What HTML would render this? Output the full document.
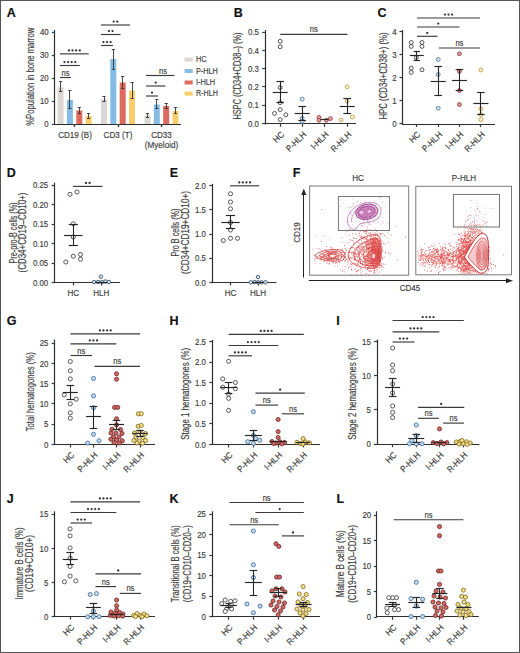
<!DOCTYPE html>
<html><head><meta charset="utf-8"><style>
html,body{margin:0;padding:0;background:#fff;}
body{width:520px;height:653px;overflow:hidden;position:relative;}
svg{position:absolute;left:0;top:0;font-family:"Liberation Sans", sans-serif;}
.frame{position:absolute;left:0;top:0;width:518px;height:651px;border:1px solid #555;}
</style></head><body>
<svg width="520" height="653" viewBox="0 0 520 653">
<rect x="0" y="0" width="520" height="653" fill="#fff"/>
<text x="6.8" y="17" font-size="12.5" text-anchor="start" font-weight="bold" fill="#111" stroke="#111" stroke-width="0.15">A</text>
<line x1="54.5" y1="30" x2="54.5" y2="124.6" stroke="#2e2e2e" stroke-width="1.2"/>
<line x1="51.9" y1="124.5" x2="54.9" y2="124.5" stroke="#3a3a3a" stroke-width="1.2"/>
<text x="48.7" y="127.2" font-size="9" text-anchor="end" font-weight="normal" fill="#3a3a3a" stroke="#3a3a3a" stroke-width="0.15" textLength="4.35" lengthAdjust="spacingAndGlyphs">0</text>
<line x1="51.9" y1="101.5" x2="54.9" y2="101.5" stroke="#3a3a3a" stroke-width="1.2"/>
<text x="48.7" y="104.2" font-size="9" text-anchor="end" font-weight="normal" fill="#3a3a3a" stroke="#3a3a3a" stroke-width="0.15" textLength="8.71" lengthAdjust="spacingAndGlyphs">10</text>
<line x1="51.9" y1="78.5" x2="54.9" y2="78.5" stroke="#3a3a3a" stroke-width="1.2"/>
<text x="48.7" y="81.2" font-size="9" text-anchor="end" font-weight="normal" fill="#3a3a3a" stroke="#3a3a3a" stroke-width="0.15" textLength="8.71" lengthAdjust="spacingAndGlyphs">20</text>
<line x1="51.9" y1="55.5" x2="54.9" y2="55.5" stroke="#3a3a3a" stroke-width="1.2"/>
<text x="48.7" y="58.2" font-size="9" text-anchor="end" font-weight="normal" fill="#3a3a3a" stroke="#3a3a3a" stroke-width="0.15" textLength="8.71" lengthAdjust="spacingAndGlyphs">30</text>
<line x1="51.9" y1="32.5" x2="54.9" y2="32.5" stroke="#3a3a3a" stroke-width="1.2"/>
<text x="48.7" y="35.2" font-size="9" text-anchor="end" font-weight="normal" fill="#3a3a3a" stroke="#3a3a3a" stroke-width="0.15" textLength="8.71" lengthAdjust="spacingAndGlyphs">40</text>
<line x1="54.3" y1="124.5" x2="181" y2="124.5" stroke="#2e2e2e" stroke-width="1.2"/>
<line x1="74.5" y1="124" x2="74.5" y2="127" stroke="#3a3a3a" stroke-width="1.2"/>
<line x1="118.5" y1="124" x2="118.5" y2="127" stroke="#3a3a3a" stroke-width="1.2"/>
<line x1="161.5" y1="124" x2="161.5" y2="127" stroke="#3a3a3a" stroke-width="1.2"/>
<text x="33.8" y="76.8" font-size="10.3" text-anchor="middle" font-weight="normal" fill="#3a3a3a" stroke="#3a3a3a" stroke-width="0.15" transform="rotate(-90 33.8 76.8)" textLength="98" lengthAdjust="spacingAndGlyphs">%Population in bone marrow</text>
<rect x="57.6" y="87.5" width="6" height="36.5" fill="#dcd7d6" stroke="none" stroke-width="1"/>
<line x1="60.5" y1="81.3" x2="60.5" y2="91.3" stroke="#333" stroke-width="0.9"/>
<line x1="59" y1="81.5" x2="62.2" y2="81.5" stroke="#333" stroke-width="0.9"/>
<line x1="59" y1="91.5" x2="62.2" y2="91.5" stroke="#333" stroke-width="0.9"/>
<rect x="66.9" y="100" width="6" height="24" fill="#85bce6" stroke="none" stroke-width="1"/>
<line x1="69.5" y1="90" x2="69.5" y2="108.7" stroke="#333" stroke-width="0.9"/>
<line x1="68.3" y1="90.5" x2="71.5" y2="90.5" stroke="#333" stroke-width="0.9"/>
<line x1="68.3" y1="108.5" x2="71.5" y2="108.5" stroke="#333" stroke-width="0.9"/>
<rect x="76.3" y="110.5" width="6" height="13.5" fill="#dc6a5e" stroke="none" stroke-width="1"/>
<line x1="79.5" y1="107.5" x2="79.5" y2="113.7" stroke="#333" stroke-width="0.9"/>
<line x1="77.7" y1="107.5" x2="80.9" y2="107.5" stroke="#333" stroke-width="0.9"/>
<line x1="77.7" y1="113.5" x2="80.9" y2="113.5" stroke="#333" stroke-width="0.9"/>
<rect x="85.6" y="116" width="6" height="8" fill="#f8cd6c" stroke="none" stroke-width="1"/>
<line x1="88.5" y1="113.7" x2="88.5" y2="118" stroke="#333" stroke-width="0.9"/>
<line x1="87" y1="113.5" x2="90.2" y2="113.5" stroke="#333" stroke-width="0.9"/>
<line x1="87" y1="118.5" x2="90.2" y2="118.5" stroke="#333" stroke-width="0.9"/>
<rect x="101" y="99" width="6" height="25" fill="#dcd7d6" stroke="none" stroke-width="1"/>
<line x1="104.5" y1="96" x2="104.5" y2="101" stroke="#333" stroke-width="0.9"/>
<line x1="102.4" y1="96.5" x2="105.6" y2="96.5" stroke="#333" stroke-width="0.9"/>
<line x1="102.4" y1="101.5" x2="105.6" y2="101.5" stroke="#333" stroke-width="0.9"/>
<rect x="110.3" y="59" width="6" height="65" fill="#85bce6" stroke="none" stroke-width="1"/>
<line x1="113.5" y1="49" x2="113.5" y2="69" stroke="#333" stroke-width="0.9"/>
<line x1="111.7" y1="49.5" x2="114.9" y2="49.5" stroke="#333" stroke-width="0.9"/>
<line x1="111.7" y1="69.5" x2="114.9" y2="69.5" stroke="#333" stroke-width="0.9"/>
<rect x="119.7" y="82.5" width="6" height="41.5" fill="#dc6a5e" stroke="none" stroke-width="1"/>
<line x1="122.5" y1="76" x2="122.5" y2="88" stroke="#333" stroke-width="0.9"/>
<line x1="121.1" y1="76.5" x2="124.3" y2="76.5" stroke="#333" stroke-width="0.9"/>
<line x1="121.1" y1="88.5" x2="124.3" y2="88.5" stroke="#333" stroke-width="0.9"/>
<rect x="129" y="90.5" width="6" height="33.5" fill="#f8cd6c" stroke="none" stroke-width="1"/>
<line x1="132.5" y1="82" x2="132.5" y2="98" stroke="#333" stroke-width="0.9"/>
<line x1="130.4" y1="82.5" x2="133.6" y2="82.5" stroke="#333" stroke-width="0.9"/>
<line x1="130.4" y1="98.5" x2="133.6" y2="98.5" stroke="#333" stroke-width="0.9"/>
<rect x="144.5" y="115.5" width="6" height="8.5" fill="#dcd7d6" stroke="none" stroke-width="1"/>
<line x1="147.5" y1="113" x2="147.5" y2="117" stroke="#333" stroke-width="0.9"/>
<line x1="145.9" y1="113.5" x2="149.1" y2="113.5" stroke="#333" stroke-width="0.9"/>
<line x1="145.9" y1="117.5" x2="149.1" y2="117.5" stroke="#333" stroke-width="0.9"/>
<rect x="153.8" y="104.5" width="6" height="19.5" fill="#85bce6" stroke="none" stroke-width="1"/>
<line x1="156.5" y1="99.5" x2="156.5" y2="108" stroke="#333" stroke-width="0.9"/>
<line x1="155.2" y1="99.5" x2="158.4" y2="99.5" stroke="#333" stroke-width="0.9"/>
<line x1="155.2" y1="108.5" x2="158.4" y2="108.5" stroke="#333" stroke-width="0.9"/>
<rect x="163.2" y="106" width="6" height="18" fill="#dc6a5e" stroke="none" stroke-width="1"/>
<line x1="166.5" y1="103.3" x2="166.5" y2="108.7" stroke="#333" stroke-width="0.9"/>
<line x1="164.6" y1="103.5" x2="167.8" y2="103.5" stroke="#333" stroke-width="0.9"/>
<line x1="164.6" y1="108.5" x2="167.8" y2="108.5" stroke="#333" stroke-width="0.9"/>
<rect x="172.5" y="111" width="6" height="13" fill="#f8cd6c" stroke="none" stroke-width="1"/>
<line x1="175.5" y1="107.5" x2="175.5" y2="113.7" stroke="#333" stroke-width="0.9"/>
<line x1="173.9" y1="107.5" x2="177.1" y2="107.5" stroke="#333" stroke-width="0.9"/>
<line x1="173.9" y1="113.5" x2="177.1" y2="113.5" stroke="#333" stroke-width="0.9"/>
<line x1="54.3" y1="124.5" x2="181" y2="124.5" stroke="#2e2e2e" stroke-width="1.2"/>
<line x1="74.5" y1="124" x2="74.5" y2="127" stroke="#3a3a3a" stroke-width="1.2"/>
<line x1="118.5" y1="124" x2="118.5" y2="127" stroke="#3a3a3a" stroke-width="1.2"/>
<line x1="161.5" y1="124" x2="161.5" y2="127" stroke="#3a3a3a" stroke-width="1.2"/>
<text x="75" y="137.5" font-size="8.8" text-anchor="middle" font-weight="normal" fill="#3a3a3a" stroke="#3a3a3a" stroke-width="0.15" textLength="33.74" lengthAdjust="spacingAndGlyphs">CD19 (B)</text>
<text x="118" y="137.5" font-size="8.8" text-anchor="middle" font-weight="normal" fill="#3a3a3a" stroke="#3a3a3a" stroke-width="0.15" textLength="28.78" lengthAdjust="spacingAndGlyphs">CD3 (T)</text>
<text x="161.5" y="137.5" font-size="8.8" text-anchor="middle" font-weight="normal" fill="#3a3a3a" stroke="#3a3a3a" stroke-width="0.15" textLength="20.7" lengthAdjust="spacingAndGlyphs">CD33</text>
<text x="161.5" y="147.5" font-size="8.8" text-anchor="middle" font-weight="normal" fill="#3a3a3a" stroke="#3a3a3a" stroke-width="0.15" textLength="33.29" lengthAdjust="spacingAndGlyphs">(Myeloid)</text>
<line x1="60" y1="77.5" x2="71" y2="77.5" stroke="#3a3a3a" stroke-width="1.15"/>
<text x="65.5" y="75.5" font-size="8.2" text-anchor="middle" font-weight="normal" fill="#3a3a3a" stroke="#3a3a3a" stroke-width="0.15" textLength="7.97" lengthAdjust="spacingAndGlyphs">ns</text>
<line x1="60" y1="65.5" x2="79.8" y2="65.5" stroke="#3a3a3a" stroke-width="1.15"/>
<circle cx="64.5" cy="62.1" r="1.15" fill="#333"/>
<circle cx="68.1" cy="62.1" r="1.15" fill="#333"/>
<circle cx="71.7" cy="62.1" r="1.15" fill="#333"/>
<circle cx="75.3" cy="62.1" r="1.15" fill="#333"/>
<line x1="60" y1="53.85" x2="88.7" y2="53.85" stroke="#3a3a3a" stroke-width="1.15"/>
<circle cx="68.95" cy="50.45" r="1.15" fill="#333"/>
<circle cx="72.55" cy="50.45" r="1.15" fill="#333"/>
<circle cx="76.15" cy="50.45" r="1.15" fill="#333"/>
<circle cx="79.75" cy="50.45" r="1.15" fill="#333"/>
<line x1="101" y1="45.5" x2="113" y2="45.5" stroke="#3a3a3a" stroke-width="1.15"/>
<circle cx="103.4" cy="42.1" r="1.15" fill="#333"/>
<circle cx="107" cy="42.1" r="1.15" fill="#333"/>
<circle cx="110.6" cy="42.1" r="1.15" fill="#333"/>
<line x1="101" y1="34.5" x2="120.5" y2="34.5" stroke="#3a3a3a" stroke-width="1.15"/>
<circle cx="108.95" cy="31.1" r="1.15" fill="#333"/>
<circle cx="112.55" cy="31.1" r="1.15" fill="#333"/>
<line x1="101" y1="25" x2="130" y2="25" stroke="#3a3a3a" stroke-width="1.15"/>
<circle cx="113.7" cy="21.6" r="1.15" fill="#333"/>
<circle cx="117.3" cy="21.6" r="1.15" fill="#333"/>
<line x1="146" y1="96" x2="158" y2="96" stroke="#3a3a3a" stroke-width="1.15"/>
<circle cx="152" cy="92.6" r="1.15" fill="#333"/>
<line x1="146" y1="86" x2="165.5" y2="86" stroke="#3a3a3a" stroke-width="1.15"/>
<circle cx="155.75" cy="82.6" r="1.15" fill="#333"/>
<line x1="146" y1="75.5" x2="174.5" y2="75.5" stroke="#3a3a3a" stroke-width="1.15"/>
<text x="163.05" y="73.5" font-size="8.2" text-anchor="middle" font-weight="normal" fill="#3a3a3a" stroke="#3a3a3a" stroke-width="0.15" textLength="7.97" lengthAdjust="spacingAndGlyphs">ns</text>
<rect x="184.6" y="57.6" width="8.1" height="4" fill="#dcd7d6" stroke="none" stroke-width="1"/>
<text x="195.9" y="62.4" font-size="8.8" text-anchor="start" font-weight="normal" fill="#3a3a3a" stroke="#3a3a3a" stroke-width="0.15" textLength="10.5" lengthAdjust="spacingAndGlyphs">HC</text>
<rect x="184.6" y="69" width="8.1" height="4" fill="#85bce6" stroke="none" stroke-width="1"/>
<text x="195.9" y="73.8" font-size="8.8" text-anchor="start" font-weight="normal" fill="#3a3a3a" stroke="#3a3a3a" stroke-width="0.15" textLength="22" lengthAdjust="spacingAndGlyphs">P-HLH</text>
<rect x="184.6" y="80.5" width="8.1" height="4" fill="#dc6a5e" stroke="none" stroke-width="1"/>
<text x="195.9" y="85.3" font-size="8.8" text-anchor="start" font-weight="normal" fill="#3a3a3a" stroke="#3a3a3a" stroke-width="0.15" textLength="19.2" lengthAdjust="spacingAndGlyphs">I-HLH</text>
<rect x="184.6" y="91.6" width="8.1" height="4" fill="#f8cd6c" stroke="none" stroke-width="1"/>
<text x="195.9" y="96.4" font-size="8.8" text-anchor="start" font-weight="normal" fill="#3a3a3a" stroke="#3a3a3a" stroke-width="0.15" textLength="22" lengthAdjust="spacingAndGlyphs">R-HLH</text>
<text x="233.8" y="17" font-size="12.5" text-anchor="start" font-weight="bold" fill="#111" stroke="#111" stroke-width="0.15">B</text>
<line x1="265.5" y1="30" x2="265.5" y2="124.4" stroke="#2e2e2e" stroke-width="1.2"/>
<line x1="262.2" y1="123.5" x2="265.2" y2="123.5" stroke="#3a3a3a" stroke-width="1.2"/>
<text x="258.8" y="126.8" font-size="9" text-anchor="end" font-weight="normal" fill="#3a3a3a" stroke="#3a3a3a" stroke-width="0.15" textLength="10.88" lengthAdjust="spacingAndGlyphs">0.0</text>
<line x1="262.2" y1="105.5" x2="265.2" y2="105.5" stroke="#3a3a3a" stroke-width="1.2"/>
<text x="258.8" y="108.48" font-size="9" text-anchor="end" font-weight="normal" fill="#3a3a3a" stroke="#3a3a3a" stroke-width="0.15" textLength="10.88" lengthAdjust="spacingAndGlyphs">0.1</text>
<line x1="262.2" y1="86.5" x2="265.2" y2="86.5" stroke="#3a3a3a" stroke-width="1.2"/>
<text x="258.8" y="90.16" font-size="9" text-anchor="end" font-weight="normal" fill="#3a3a3a" stroke="#3a3a3a" stroke-width="0.15" textLength="10.88" lengthAdjust="spacingAndGlyphs">0.2</text>
<line x1="262.2" y1="68.5" x2="265.2" y2="68.5" stroke="#3a3a3a" stroke-width="1.2"/>
<text x="258.8" y="71.84" font-size="9" text-anchor="end" font-weight="normal" fill="#3a3a3a" stroke="#3a3a3a" stroke-width="0.15" textLength="10.88" lengthAdjust="spacingAndGlyphs">0.3</text>
<line x1="262.2" y1="50.5" x2="265.2" y2="50.5" stroke="#3a3a3a" stroke-width="1.2"/>
<text x="258.8" y="53.52" font-size="9" text-anchor="end" font-weight="normal" fill="#3a3a3a" stroke="#3a3a3a" stroke-width="0.15" textLength="10.88" lengthAdjust="spacingAndGlyphs">0.4</text>
<line x1="262.2" y1="32.5" x2="265.2" y2="32.5" stroke="#3a3a3a" stroke-width="1.2"/>
<text x="258.8" y="35.2" font-size="9" text-anchor="end" font-weight="normal" fill="#3a3a3a" stroke="#3a3a3a" stroke-width="0.15" textLength="10.88" lengthAdjust="spacingAndGlyphs">0.5</text>
<line x1="264.6" y1="123.5" x2="356" y2="123.5" stroke="#2e2e2e" stroke-width="1.2"/>
<line x1="280.5" y1="123.8" x2="280.5" y2="126.8" stroke="#3a3a3a" stroke-width="1.2"/>
<line x1="302.5" y1="123.8" x2="302.5" y2="126.8" stroke="#3a3a3a" stroke-width="1.2"/>
<line x1="324.5" y1="123.8" x2="324.5" y2="126.8" stroke="#3a3a3a" stroke-width="1.2"/>
<line x1="347.5" y1="123.8" x2="347.5" y2="126.8" stroke="#3a3a3a" stroke-width="1.2"/>
<text x="241" y="76" font-size="10.3" text-anchor="middle" font-weight="normal" fill="#3a3a3a" stroke="#3a3a3a" stroke-width="0.15" transform="rotate(-90 241 76)" textLength="87" lengthAdjust="spacingAndGlyphs">HSPC (CD34+CD38–) (%)</text>
<text x="284.8" y="135.1" font-size="8.8" text-anchor="end" font-weight="normal" fill="#3a3a3a" stroke="#3a3a3a" stroke-width="0.15" transform="rotate(-45 284.8 135.1)" textLength="11.69" lengthAdjust="spacingAndGlyphs">HC</text>
<text x="306.8" y="135.1" font-size="8.8" text-anchor="end" font-weight="normal" fill="#3a3a3a" stroke="#3a3a3a" stroke-width="0.15" transform="rotate(-45 306.8 135.1)" textLength="24.29" lengthAdjust="spacingAndGlyphs">P-HLH</text>
<text x="329.2" y="135.1" font-size="8.8" text-anchor="end" font-weight="normal" fill="#3a3a3a" stroke="#3a3a3a" stroke-width="0.15" transform="rotate(-45 329.2 135.1)" textLength="21.14" lengthAdjust="spacingAndGlyphs">I-HLH</text>
<text x="351.8" y="135.1" font-size="8.8" text-anchor="end" font-weight="normal" fill="#3a3a3a" stroke="#3a3a3a" stroke-width="0.15" transform="rotate(-45 351.8 135.1)" textLength="24.74" lengthAdjust="spacingAndGlyphs">R-HLH</text>
<line x1="280.2" y1="34.3" x2="347.5" y2="34.3" stroke="#3a3a3a" stroke-width="1.15"/>
<text x="313.85" y="32.3" font-size="8.2" text-anchor="middle" font-weight="normal" fill="#3a3a3a" stroke="#3a3a3a" stroke-width="0.15" textLength="7.97" lengthAdjust="spacingAndGlyphs">ns</text>
<circle cx="280.2" cy="41.3" r="1.95" fill="#ffffff" stroke="#3e3e3e" stroke-width="0.9"/>
<circle cx="280.2" cy="46.8" r="1.95" fill="#ffffff" stroke="#3e3e3e" stroke-width="0.9"/>
<circle cx="280.2" cy="87.5" r="1.95" fill="#ffffff" stroke="#3e3e3e" stroke-width="0.9"/>
<circle cx="280.2" cy="102.7" r="1.95" fill="#ffffff" stroke="#3e3e3e" stroke-width="0.9"/>
<circle cx="280.2" cy="109.6" r="1.95" fill="#ffffff" stroke="#3e3e3e" stroke-width="0.9"/>
<circle cx="274.5" cy="113.4" r="1.95" fill="#ffffff" stroke="#3e3e3e" stroke-width="0.9"/>
<circle cx="285.8" cy="114.8" r="1.95" fill="#ffffff" stroke="#3e3e3e" stroke-width="0.9"/>
<circle cx="280.2" cy="119.6" r="1.95" fill="#ffffff" stroke="#3e3e3e" stroke-width="0.9"/>
<line x1="272.7" y1="92.5" x2="287.7" y2="92.5" stroke="#262626" stroke-width="1.15"/>
<line x1="280.5" y1="81.6" x2="280.5" y2="102.7" stroke="#262626" stroke-width="1.09"/>
<line x1="276.4" y1="81.5" x2="284" y2="81.5" stroke="#262626" stroke-width="1.15"/>
<line x1="276.4" y1="102.5" x2="284" y2="102.5" stroke="#262626" stroke-width="1.15"/>
<circle cx="302.2" cy="99.2" r="1.95" fill="#dde9f4" stroke="#5a7fa0" stroke-width="0.9"/>
<circle cx="302.2" cy="118.3" r="1.95" fill="#dde9f4" stroke="#5a7fa0" stroke-width="0.9"/>
<circle cx="302.2" cy="121.4" r="1.95" fill="#dde9f4" stroke="#5a7fa0" stroke-width="0.9"/>
<line x1="294.7" y1="113.5" x2="309.7" y2="113.5" stroke="#262626" stroke-width="1.15"/>
<line x1="302.5" y1="106.5" x2="302.5" y2="120.5" stroke="#262626" stroke-width="1.09"/>
<line x1="298.4" y1="106.5" x2="306" y2="106.5" stroke="#262626" stroke-width="1.15"/>
<line x1="298.4" y1="120.5" x2="306" y2="120.5" stroke="#262626" stroke-width="1.15"/>
<circle cx="319" cy="117.4" r="1.95" fill="#e09c9a" stroke="#9a4646" stroke-width="0.9"/>
<circle cx="319" cy="120.3" r="1.95" fill="#e09c9a" stroke="#9a4646" stroke-width="0.9"/>
<circle cx="326.4" cy="120.3" r="1.95" fill="#e09c9a" stroke="#9a4646" stroke-width="0.9"/>
<circle cx="330.4" cy="118.6" r="1.95" fill="#e09c9a" stroke="#9a4646" stroke-width="0.9"/>
<line x1="320.6" y1="119.5" x2="328.6" y2="119.5" stroke="#262626" stroke-width="1.15"/>
<circle cx="347.2" cy="86.8" r="1.95" fill="#fbf0c8" stroke="#c2a44e" stroke-width="0.9"/>
<circle cx="347.2" cy="101" r="1.95" fill="#fbf0c8" stroke="#c2a44e" stroke-width="0.9"/>
<circle cx="341.1" cy="120" r="1.95" fill="#fbf0c8" stroke="#c2a44e" stroke-width="0.9"/>
<circle cx="352.4" cy="116.9" r="1.95" fill="#fbf0c8" stroke="#c2a44e" stroke-width="0.9"/>
<line x1="339.7" y1="106.5" x2="354.7" y2="106.5" stroke="#262626" stroke-width="1.15"/>
<line x1="347.5" y1="98.4" x2="347.5" y2="113.4" stroke="#262626" stroke-width="1.09"/>
<line x1="343.4" y1="98.5" x2="351" y2="98.5" stroke="#262626" stroke-width="1.15"/>
<line x1="343.4" y1="113.5" x2="351" y2="113.5" stroke="#262626" stroke-width="1.15"/>
<text x="377.5" y="17" font-size="12.5" text-anchor="start" font-weight="bold" fill="#111" stroke="#111" stroke-width="0.15">C</text>
<line x1="402.5" y1="30" x2="402.5" y2="124.6" stroke="#2e2e2e" stroke-width="1.2"/>
<line x1="399.5" y1="123.5" x2="402.5" y2="123.5" stroke="#3a3a3a" stroke-width="1.2"/>
<text x="396.5" y="126.95" font-size="9" text-anchor="end" font-weight="normal" fill="#3a3a3a" stroke="#3a3a3a" stroke-width="0.15" textLength="4.35" lengthAdjust="spacingAndGlyphs">0</text>
<line x1="399.5" y1="100.5" x2="402.5" y2="100.5" stroke="#3a3a3a" stroke-width="1.2"/>
<text x="396.5" y="103.85" font-size="9" text-anchor="end" font-weight="normal" fill="#3a3a3a" stroke="#3a3a3a" stroke-width="0.15" textLength="4.35" lengthAdjust="spacingAndGlyphs">1</text>
<line x1="399.5" y1="77.5" x2="402.5" y2="77.5" stroke="#3a3a3a" stroke-width="1.2"/>
<text x="396.5" y="80.75" font-size="9" text-anchor="end" font-weight="normal" fill="#3a3a3a" stroke="#3a3a3a" stroke-width="0.15" textLength="4.35" lengthAdjust="spacingAndGlyphs">2</text>
<line x1="399.5" y1="54.5" x2="402.5" y2="54.5" stroke="#3a3a3a" stroke-width="1.2"/>
<text x="396.5" y="57.65" font-size="9" text-anchor="end" font-weight="normal" fill="#3a3a3a" stroke="#3a3a3a" stroke-width="0.15" textLength="4.35" lengthAdjust="spacingAndGlyphs">3</text>
<line x1="399.5" y1="31.5" x2="402.5" y2="31.5" stroke="#3a3a3a" stroke-width="1.2"/>
<text x="396.5" y="34.55" font-size="9" text-anchor="end" font-weight="normal" fill="#3a3a3a" stroke="#3a3a3a" stroke-width="0.15" textLength="4.35" lengthAdjust="spacingAndGlyphs">4</text>
<line x1="401.9" y1="124.5" x2="495" y2="124.5" stroke="#2e2e2e" stroke-width="1.2"/>
<line x1="416.5" y1="124" x2="416.5" y2="127" stroke="#3a3a3a" stroke-width="1.2"/>
<line x1="438.5" y1="124" x2="438.5" y2="127" stroke="#3a3a3a" stroke-width="1.2"/>
<line x1="459.5" y1="124" x2="459.5" y2="127" stroke="#3a3a3a" stroke-width="1.2"/>
<line x1="480.5" y1="124" x2="480.5" y2="127" stroke="#3a3a3a" stroke-width="1.2"/>
<text x="386.5" y="76" font-size="10.3" text-anchor="middle" font-weight="normal" fill="#3a3a3a" stroke="#3a3a3a" stroke-width="0.15" transform="rotate(-90 386.5 76)" textLength="87" lengthAdjust="spacingAndGlyphs">HPC (CD34+CD38+) (%)</text>
<text x="420.9" y="135.1" font-size="8.8" text-anchor="end" font-weight="normal" fill="#3a3a3a" stroke="#3a3a3a" stroke-width="0.15" transform="rotate(-45 420.9 135.1)" textLength="11.69" lengthAdjust="spacingAndGlyphs">HC</text>
<text x="442.8" y="135.1" font-size="8.8" text-anchor="end" font-weight="normal" fill="#3a3a3a" stroke="#3a3a3a" stroke-width="0.15" transform="rotate(-45 442.8 135.1)" textLength="24.29" lengthAdjust="spacingAndGlyphs">P-HLH</text>
<text x="464" y="135.1" font-size="8.8" text-anchor="end" font-weight="normal" fill="#3a3a3a" stroke="#3a3a3a" stroke-width="0.15" transform="rotate(-45 464 135.1)" textLength="21.14" lengthAdjust="spacingAndGlyphs">I-HLH</text>
<text x="485.5" y="135.1" font-size="8.8" text-anchor="end" font-weight="normal" fill="#3a3a3a" stroke="#3a3a3a" stroke-width="0.15" transform="rotate(-45 485.5 135.1)" textLength="24.74" lengthAdjust="spacingAndGlyphs">R-HLH</text>
<line x1="417" y1="36.3" x2="437.5" y2="36.3" stroke="#3a3a3a" stroke-width="1.15"/>
<circle cx="427.25" cy="32.9" r="1.15" fill="#333"/>
<line x1="417" y1="27" x2="459.5" y2="27" stroke="#3a3a3a" stroke-width="1.15"/>
<circle cx="438.25" cy="23.6" r="1.15" fill="#333"/>
<line x1="417" y1="18" x2="480" y2="18" stroke="#3a3a3a" stroke-width="1.15"/>
<circle cx="444.9" cy="14.6" r="1.15" fill="#333"/>
<circle cx="448.5" cy="14.6" r="1.15" fill="#333"/>
<circle cx="452.1" cy="14.6" r="1.15" fill="#333"/>
<line x1="438.8" y1="48" x2="480" y2="48" stroke="#3a3a3a" stroke-width="1.15"/>
<text x="459.4" y="46" font-size="8.2" text-anchor="middle" font-weight="normal" fill="#3a3a3a" stroke="#3a3a3a" stroke-width="0.15" textLength="7.97" lengthAdjust="spacingAndGlyphs">ns</text>
<circle cx="411.2" cy="42.5" r="1.95" fill="#ffffff" stroke="#3e3e3e" stroke-width="0.9"/>
<circle cx="411.2" cy="46.4" r="1.95" fill="#ffffff" stroke="#3e3e3e" stroke-width="0.9"/>
<circle cx="422" cy="42.5" r="1.95" fill="#ffffff" stroke="#3e3e3e" stroke-width="0.9"/>
<circle cx="422" cy="46.4" r="1.95" fill="#ffffff" stroke="#3e3e3e" stroke-width="0.9"/>
<circle cx="411.2" cy="68.1" r="1.95" fill="#ffffff" stroke="#3e3e3e" stroke-width="0.9"/>
<circle cx="411.2" cy="72.4" r="1.95" fill="#ffffff" stroke="#3e3e3e" stroke-width="0.9"/>
<circle cx="422" cy="69.8" r="1.95" fill="#ffffff" stroke="#3e3e3e" stroke-width="0.9"/>
<circle cx="416.3" cy="57.5" r="1.95" fill="#ffffff" stroke="#3e3e3e" stroke-width="0.9"/>
<line x1="409.8" y1="55.5" x2="423.8" y2="55.5" stroke="#262626" stroke-width="1.15"/>
<line x1="416.5" y1="51.5" x2="416.5" y2="60.3" stroke="#262626" stroke-width="1.09"/>
<line x1="413.6" y1="51.5" x2="420" y2="51.5" stroke="#262626" stroke-width="1.15"/>
<line x1="413.6" y1="60.5" x2="420" y2="60.5" stroke="#262626" stroke-width="1.15"/>
<circle cx="438.2" cy="59.5" r="1.95" fill="#dde9f4" stroke="#5a7fa0" stroke-width="0.9"/>
<circle cx="438.2" cy="74.5" r="1.95" fill="#dde9f4" stroke="#5a7fa0" stroke-width="0.9"/>
<circle cx="438.2" cy="108.3" r="1.95" fill="#dde9f4" stroke="#5a7fa0" stroke-width="0.9"/>
<line x1="430.7" y1="81.5" x2="445.7" y2="81.5" stroke="#262626" stroke-width="1.15"/>
<line x1="438.5" y1="66.3" x2="438.5" y2="95" stroke="#262626" stroke-width="1.09"/>
<line x1="434.4" y1="66.5" x2="442" y2="66.5" stroke="#262626" stroke-width="1.15"/>
<line x1="434.4" y1="95.5" x2="442" y2="95.5" stroke="#262626" stroke-width="1.15"/>
<circle cx="459.4" cy="53.8" r="1.95" fill="#e09c9a" stroke="#9a4646" stroke-width="0.9"/>
<circle cx="459.4" cy="71.3" r="1.95" fill="#e09c9a" stroke="#9a4646" stroke-width="0.9"/>
<circle cx="459.4" cy="90.5" r="1.95" fill="#e09c9a" stroke="#9a4646" stroke-width="0.9"/>
<circle cx="459.4" cy="104.5" r="1.95" fill="#e09c9a" stroke="#9a4646" stroke-width="0.9"/>
<line x1="451.9" y1="80.5" x2="466.9" y2="80.5" stroke="#262626" stroke-width="1.15"/>
<line x1="459.5" y1="69.3" x2="459.5" y2="90.5" stroke="#262626" stroke-width="1.09"/>
<line x1="455.6" y1="69.5" x2="463.2" y2="69.5" stroke="#262626" stroke-width="1.15"/>
<line x1="455.6" y1="90.5" x2="463.2" y2="90.5" stroke="#262626" stroke-width="1.15"/>
<circle cx="480.9" cy="70" r="1.95" fill="#fbf0c8" stroke="#c2a44e" stroke-width="0.9"/>
<circle cx="480.9" cy="108.8" r="1.95" fill="#fbf0c8" stroke="#c2a44e" stroke-width="0.9"/>
<circle cx="480.9" cy="114.5" r="1.95" fill="#fbf0c8" stroke="#c2a44e" stroke-width="0.9"/>
<circle cx="480.9" cy="119.5" r="1.95" fill="#fbf0c8" stroke="#c2a44e" stroke-width="0.9"/>
<line x1="473.4" y1="103.5" x2="488.4" y2="103.5" stroke="#262626" stroke-width="1.15"/>
<line x1="480.5" y1="92" x2="480.5" y2="114" stroke="#262626" stroke-width="1.09"/>
<line x1="477.1" y1="92.5" x2="484.7" y2="92.5" stroke="#262626" stroke-width="1.15"/>
<line x1="477.1" y1="114.5" x2="484.7" y2="114.5" stroke="#262626" stroke-width="1.15"/>
<text x="6.8" y="177" font-size="12.5" text-anchor="start" font-weight="bold" fill="#111" stroke="#111" stroke-width="0.15">D</text>
<line x1="54.5" y1="182.7" x2="54.5" y2="283.1" stroke="#2e2e2e" stroke-width="1.2"/>
<line x1="51.6" y1="282.5" x2="54.6" y2="282.5" stroke="#3a3a3a" stroke-width="1.2"/>
<text x="48.2" y="285.7" font-size="9" text-anchor="end" font-weight="normal" fill="#3a3a3a" stroke="#3a3a3a" stroke-width="0.15" textLength="15.24" lengthAdjust="spacingAndGlyphs">0.00</text>
<line x1="51.6" y1="263.5" x2="54.6" y2="263.5" stroke="#3a3a3a" stroke-width="1.2"/>
<text x="48.2" y="266.25" font-size="9" text-anchor="end" font-weight="normal" fill="#3a3a3a" stroke="#3a3a3a" stroke-width="0.15" textLength="15.24" lengthAdjust="spacingAndGlyphs">0.05</text>
<line x1="51.6" y1="243.5" x2="54.6" y2="243.5" stroke="#3a3a3a" stroke-width="1.2"/>
<text x="48.2" y="246.8" font-size="9" text-anchor="end" font-weight="normal" fill="#3a3a3a" stroke="#3a3a3a" stroke-width="0.15" textLength="15.24" lengthAdjust="spacingAndGlyphs">0.10</text>
<line x1="51.6" y1="224.5" x2="54.6" y2="224.5" stroke="#3a3a3a" stroke-width="1.2"/>
<text x="48.2" y="227.35" font-size="9" text-anchor="end" font-weight="normal" fill="#3a3a3a" stroke="#3a3a3a" stroke-width="0.15" textLength="15.24" lengthAdjust="spacingAndGlyphs">0.15</text>
<line x1="51.6" y1="204.5" x2="54.6" y2="204.5" stroke="#3a3a3a" stroke-width="1.2"/>
<text x="48.2" y="207.9" font-size="9" text-anchor="end" font-weight="normal" fill="#3a3a3a" stroke="#3a3a3a" stroke-width="0.15" textLength="15.24" lengthAdjust="spacingAndGlyphs">0.20</text>
<line x1="51.6" y1="185.5" x2="54.6" y2="185.5" stroke="#3a3a3a" stroke-width="1.2"/>
<text x="48.2" y="188.45" font-size="9" text-anchor="end" font-weight="normal" fill="#3a3a3a" stroke="#3a3a3a" stroke-width="0.15" textLength="15.24" lengthAdjust="spacingAndGlyphs">0.25</text>
<line x1="54" y1="282.5" x2="120" y2="282.5" stroke="#2e2e2e" stroke-width="1.2"/>
<line x1="73.5" y1="282.5" x2="73.5" y2="285.5" stroke="#3a3a3a" stroke-width="1.2"/>
<line x1="101.5" y1="282.5" x2="101.5" y2="285.5" stroke="#3a3a3a" stroke-width="1.2"/>
<text x="16.5" y="233" font-size="10.3" text-anchor="middle" font-weight="normal" fill="#3a3a3a" stroke="#3a3a3a" stroke-width="0.15" transform="rotate(-90 16.5 233)" textLength="61" lengthAdjust="spacingAndGlyphs">Pre-pro-B cells (%)</text>
<text x="25.8" y="232.5" font-size="10.3" text-anchor="middle" font-weight="normal" fill="#3a3a3a" stroke="#3a3a3a" stroke-width="0.15" transform="rotate(-90 25.8 232.5)" textLength="80" lengthAdjust="spacingAndGlyphs">(CD34+CD19–CD10+)</text>
<text x="73.3" y="296" font-size="8.8" text-anchor="middle" font-weight="normal" fill="#3a3a3a" stroke="#3a3a3a" stroke-width="0.15" textLength="11.69" lengthAdjust="spacingAndGlyphs">HC</text>
<text x="101.3" y="296" font-size="8.8" text-anchor="middle" font-weight="normal" fill="#3a3a3a" stroke="#3a3a3a" stroke-width="0.15" textLength="16.2" lengthAdjust="spacingAndGlyphs">HLH</text>
<line x1="73.1" y1="186.4" x2="102.5" y2="186.4" stroke="#3a3a3a" stroke-width="1.15"/>
<circle cx="86" cy="183" r="1.15" fill="#333"/>
<circle cx="89.6" cy="183" r="1.15" fill="#333"/>
<circle cx="70" cy="194.3" r="2.05" fill="#ffffff" stroke="#3e3e3e" stroke-width="0.85"/>
<circle cx="77" cy="192" r="2.05" fill="#ffffff" stroke="#3e3e3e" stroke-width="0.85"/>
<circle cx="73.3" cy="223.8" r="2.05" fill="#ffffff" stroke="#3e3e3e" stroke-width="0.85"/>
<circle cx="73.3" cy="237" r="2.05" fill="#ffffff" stroke="#3e3e3e" stroke-width="0.85"/>
<circle cx="73.3" cy="256.3" r="2.05" fill="#ffffff" stroke="#3e3e3e" stroke-width="0.85"/>
<circle cx="80.5" cy="254.5" r="2.05" fill="#ffffff" stroke="#3e3e3e" stroke-width="0.85"/>
<circle cx="80.5" cy="259.3" r="2.05" fill="#ffffff" stroke="#3e3e3e" stroke-width="0.85"/>
<circle cx="65.8" cy="262" r="2.05" fill="#ffffff" stroke="#3e3e3e" stroke-width="0.85"/>
<line x1="64.1" y1="235.5" x2="82.5" y2="235.5" stroke="#262626" stroke-width="1.15"/>
<line x1="73.5" y1="224.6" x2="73.5" y2="245.3" stroke="#262626" stroke-width="1.09"/>
<line x1="68.7" y1="224.5" x2="77.9" y2="224.5" stroke="#262626" stroke-width="1.15"/>
<line x1="68.7" y1="245.5" x2="77.9" y2="245.5" stroke="#262626" stroke-width="1.15"/>
<circle cx="94" cy="282" r="1.75" fill="#dfe9f2" stroke="#33506e" stroke-width="0.9"/>
<circle cx="98" cy="282" r="1.75" fill="#dfe9f2" stroke="#33506e" stroke-width="0.9"/>
<circle cx="100.9" cy="276.6" r="1.75" fill="#dfe9f2" stroke="#33506e" stroke-width="0.9"/>
<circle cx="102" cy="282" r="1.75" fill="#dfe9f2" stroke="#33506e" stroke-width="0.9"/>
<circle cx="105.5" cy="281.5" r="1.75" fill="#dfe9f2" stroke="#33506e" stroke-width="0.9"/>
<circle cx="109" cy="282" r="1.75" fill="#dfe9f2" stroke="#33506e" stroke-width="0.9"/>
<line x1="95.3" y1="282.5" x2="107.3" y2="282.5" stroke="#262626" stroke-width="1.15"/>
<text x="169.8" y="177" font-size="12.5" text-anchor="start" font-weight="bold" fill="#111" stroke="#111" stroke-width="0.15">E</text>
<line x1="212.5" y1="183.8" x2="212.5" y2="283.2" stroke="#2e2e2e" stroke-width="1.2"/>
<line x1="209.3" y1="282.5" x2="212.3" y2="282.5" stroke="#3a3a3a" stroke-width="1.2"/>
<text x="205.9" y="285.7" font-size="9" text-anchor="end" font-weight="normal" fill="#3a3a3a" stroke="#3a3a3a" stroke-width="0.15" textLength="10.88" lengthAdjust="spacingAndGlyphs">0.0</text>
<line x1="209.3" y1="258.5" x2="212.3" y2="258.5" stroke="#3a3a3a" stroke-width="1.2"/>
<text x="205.9" y="261.45" font-size="9" text-anchor="end" font-weight="normal" fill="#3a3a3a" stroke="#3a3a3a" stroke-width="0.15" textLength="10.88" lengthAdjust="spacingAndGlyphs">0.5</text>
<line x1="209.3" y1="234.5" x2="212.3" y2="234.5" stroke="#3a3a3a" stroke-width="1.2"/>
<text x="205.9" y="237.2" font-size="9" text-anchor="end" font-weight="normal" fill="#3a3a3a" stroke="#3a3a3a" stroke-width="0.15" textLength="10.88" lengthAdjust="spacingAndGlyphs">1.0</text>
<line x1="209.3" y1="209.5" x2="212.3" y2="209.5" stroke="#3a3a3a" stroke-width="1.2"/>
<text x="205.9" y="212.95" font-size="9" text-anchor="end" font-weight="normal" fill="#3a3a3a" stroke="#3a3a3a" stroke-width="0.15" textLength="10.88" lengthAdjust="spacingAndGlyphs">1.5</text>
<line x1="209.3" y1="185.5" x2="212.3" y2="185.5" stroke="#3a3a3a" stroke-width="1.2"/>
<text x="205.9" y="188.7" font-size="9" text-anchor="end" font-weight="normal" fill="#3a3a3a" stroke="#3a3a3a" stroke-width="0.15" textLength="10.88" lengthAdjust="spacingAndGlyphs">2.0</text>
<line x1="211.4" y1="282.5" x2="276.3" y2="282.5" stroke="#2e2e2e" stroke-width="1.2"/>
<line x1="230.5" y1="282.5" x2="230.5" y2="285.5" stroke="#3a3a3a" stroke-width="1.2"/>
<line x1="258.5" y1="282.5" x2="258.5" y2="285.5" stroke="#3a3a3a" stroke-width="1.2"/>
<text x="178.5" y="232.5" font-size="10.3" text-anchor="middle" font-weight="normal" fill="#3a3a3a" stroke="#3a3a3a" stroke-width="0.15" transform="rotate(-90 178.5 232.5)" textLength="48" lengthAdjust="spacingAndGlyphs">Pro B cells (%)</text>
<text x="188.5" y="232.5" font-size="10.3" text-anchor="middle" font-weight="normal" fill="#3a3a3a" stroke="#3a3a3a" stroke-width="0.15" transform="rotate(-90 188.5 232.5)" textLength="83" lengthAdjust="spacingAndGlyphs">(CD34+CD19+CD10+)</text>
<text x="230.5" y="296" font-size="8.8" text-anchor="middle" font-weight="normal" fill="#3a3a3a" stroke="#3a3a3a" stroke-width="0.15" textLength="11.69" lengthAdjust="spacingAndGlyphs">HC</text>
<text x="258" y="296" font-size="8.8" text-anchor="middle" font-weight="normal" fill="#3a3a3a" stroke="#3a3a3a" stroke-width="0.15" textLength="16.2" lengthAdjust="spacingAndGlyphs">HLH</text>
<line x1="230" y1="185.8" x2="259.3" y2="185.8" stroke="#3a3a3a" stroke-width="1.15"/>
<circle cx="239.25" cy="182.4" r="1.15" fill="#333"/>
<circle cx="242.85" cy="182.4" r="1.15" fill="#333"/>
<circle cx="246.45" cy="182.4" r="1.15" fill="#333"/>
<circle cx="250.05" cy="182.4" r="1.15" fill="#333"/>
<circle cx="230.5" cy="193.8" r="2.05" fill="#ffffff" stroke="#3e3e3e" stroke-width="0.85"/>
<circle cx="230.5" cy="202" r="2.05" fill="#ffffff" stroke="#3e3e3e" stroke-width="0.85"/>
<circle cx="230.5" cy="208.8" r="2.05" fill="#ffffff" stroke="#3e3e3e" stroke-width="0.85"/>
<circle cx="230.5" cy="222.5" r="2.05" fill="#ffffff" stroke="#3e3e3e" stroke-width="0.85"/>
<circle cx="230.5" cy="230" r="2.05" fill="#ffffff" stroke="#3e3e3e" stroke-width="0.85"/>
<circle cx="230.5" cy="238.3" r="2.05" fill="#ffffff" stroke="#3e3e3e" stroke-width="0.85"/>
<circle cx="223.3" cy="240.5" r="2.05" fill="#ffffff" stroke="#3e3e3e" stroke-width="0.85"/>
<circle cx="237.5" cy="238.3" r="2.05" fill="#ffffff" stroke="#3e3e3e" stroke-width="0.85"/>
<line x1="221.3" y1="222.5" x2="239.7" y2="222.5" stroke="#262626" stroke-width="1.15"/>
<line x1="230.5" y1="215" x2="230.5" y2="228.3" stroke="#262626" stroke-width="1.09"/>
<line x1="225.9" y1="215.5" x2="235.1" y2="215.5" stroke="#262626" stroke-width="1.15"/>
<line x1="225.9" y1="228.5" x2="235.1" y2="228.5" stroke="#262626" stroke-width="1.15"/>
<circle cx="250.8" cy="282.3" r="1.75" fill="#dfe9f2" stroke="#33506e" stroke-width="0.9"/>
<circle cx="254.5" cy="282" r="1.75" fill="#dfe9f2" stroke="#33506e" stroke-width="0.9"/>
<circle cx="258" cy="277" r="1.75" fill="#dfe9f2" stroke="#33506e" stroke-width="0.9"/>
<circle cx="258" cy="282.3" r="1.75" fill="#dfe9f2" stroke="#33506e" stroke-width="0.9"/>
<circle cx="261.5" cy="282.3" r="1.75" fill="#dfe9f2" stroke="#33506e" stroke-width="0.9"/>
<circle cx="265.5" cy="282.3" r="1.75" fill="#dfe9f2" stroke="#33506e" stroke-width="0.9"/>
<line x1="252" y1="282.5" x2="264" y2="282.5" stroke="#262626" stroke-width="1.15"/>
<text x="292.8" y="177" font-size="12.5" text-anchor="start" font-weight="bold" fill="#111" stroke="#111" stroke-width="0.15">F</text>
<text x="358" y="181" font-size="8.8" text-anchor="middle" font-weight="normal" fill="#3a3a3a" stroke="#3a3a3a" stroke-width="0.15" textLength="11.69" lengthAdjust="spacingAndGlyphs">HC</text>
<text x="464" y="181" font-size="8.8" text-anchor="middle" font-weight="normal" fill="#3a3a3a" stroke="#3a3a3a" stroke-width="0.15" textLength="24.29" lengthAdjust="spacingAndGlyphs">P-HLH</text>
<path d="M370.4 241.8h0.8v0.8h-0.8zM370.6 254.1h0.8v0.8h-0.8zM364.5 256.1h0.8v0.8h-0.8zM377.2 232.8h0.8v0.8h-0.8zM383.2 242.8h0.8v0.8h-0.8zM372.9 266.1h0.8v0.8h-0.8zM374.5 237.2h0.8v0.8h-0.8zM373.6 241.5h0.8v0.8h-0.8zM370.1 267.8h0.8v0.8h-0.8zM341.2 256.7h0.8v0.8h-0.8zM328.1 251.7h0.8v0.8h-0.8zM329.1 254.6h0.8v0.8h-0.8zM382.9 257.4h0.8v0.8h-0.8zM372.5 248.7h0.8v0.8h-0.8zM374.7 242.1h0.8v0.8h-0.8zM375.7 260.1h0.8v0.8h-0.8zM336.6 257.7h0.8v0.8h-0.8zM330.7 254.8h0.8v0.8h-0.8zM369.3 261.0h0.8v0.8h-0.8zM365.6 255.5h0.8v0.8h-0.8zM355.7 271.4h0.8v0.8h-0.8zM326.3 246.3h0.8v0.8h-0.8zM372.4 255.4h0.8v0.8h-0.8zM324.8 254.1h0.8v0.8h-0.8zM352.5 251.2h0.8v0.8h-0.8zM330.8 256.4h0.8v0.8h-0.8zM372.9 247.5h0.8v0.8h-0.8zM371.3 260.8h0.8v0.8h-0.8zM361.6 263.1h0.8v0.8h-0.8zM370.7 241.6h0.8v0.8h-0.8zM354.3 253.6h0.8v0.8h-0.8zM375.1 248.7h0.8v0.8h-0.8zM376.3 238.5h0.8v0.8h-0.8zM381.0 264.4h0.8v0.8h-0.8zM377.1 252.9h0.8v0.8h-0.8zM380.8 243.0h0.8v0.8h-0.8zM351.1 257.9h0.8v0.8h-0.8zM375.8 245.7h0.8v0.8h-0.8zM369.8 264.7h0.8v0.8h-0.8zM356.0 246.9h0.8v0.8h-0.8zM355.5 233.6h0.8v0.8h-0.8zM372.8 245.5h0.8v0.8h-0.8zM378.0 250.5h0.8v0.8h-0.8zM360.8 253.6h0.8v0.8h-0.8zM334.5 265.5h0.8v0.8h-0.8zM354.2 258.4h0.8v0.8h-0.8zM368.2 250.9h0.8v0.8h-0.8zM363.2 230.7h0.8v0.8h-0.8zM367.9 243.7h0.8v0.8h-0.8zM365.7 273.8h0.8v0.8h-0.8zM328.0 254.0h0.8v0.8h-0.8zM328.8 258.1h0.8v0.8h-0.8zM377.6 235.6h0.8v0.8h-0.8zM366.6 233.6h0.8v0.8h-0.8zM371.0 262.1h0.8v0.8h-0.8zM323.4 256.1h0.8v0.8h-0.8zM375.2 249.7h0.8v0.8h-0.8zM358.3 250.2h0.8v0.8h-0.8zM375.7 238.8h0.8v0.8h-0.8zM376.6 244.0h0.8v0.8h-0.8zM370.1 232.3h0.8v0.8h-0.8zM336.3 262.1h0.8v0.8h-0.8zM351.1 253.7h0.8v0.8h-0.8zM366.1 241.8h0.8v0.8h-0.8zM345.6 259.1h0.8v0.8h-0.8zM358.1 245.8h0.8v0.8h-0.8zM363.1 236.5h0.8v0.8h-0.8zM354.6 256.0h0.8v0.8h-0.8zM379.7 264.1h0.8v0.8h-0.8zM365.6 232.9h0.8v0.8h-0.8zM376.6 260.8h0.8v0.8h-0.8zM372.5 245.4h0.8v0.8h-0.8zM366.7 239.3h0.8v0.8h-0.8zM376.2 230.7h0.8v0.8h-0.8zM376.0 249.1h0.8v0.8h-0.8zM372.2 258.9h0.8v0.8h-0.8zM356.3 254.1h0.8v0.8h-0.8zM347.8 262.6h0.8v0.8h-0.8zM356.5 246.7h0.8v0.8h-0.8zM345.6 250.2h0.8v0.8h-0.8zM367.6 248.5h0.8v0.8h-0.8zM368.9 270.9h0.8v0.8h-0.8zM367.7 267.1h0.8v0.8h-0.8zM370.4 250.5h0.8v0.8h-0.8zM329.3 253.3h0.8v0.8h-0.8zM336.5 250.4h0.8v0.8h-0.8zM370.2 259.4h0.8v0.8h-0.8zM376.3 234.3h0.8v0.8h-0.8zM361.8 237.4h0.8v0.8h-0.8zM372.7 252.0h0.8v0.8h-0.8zM368.0 247.8h0.8v0.8h-0.8zM369.5 262.1h0.8v0.8h-0.8zM359.2 259.3h0.8v0.8h-0.8zM356.5 255.3h0.8v0.8h-0.8zM377.9 257.3h0.8v0.8h-0.8zM331.7 258.2h0.8v0.8h-0.8zM363.3 260.4h0.8v0.8h-0.8zM370.9 266.4h0.8v0.8h-0.8zM360.9 243.5h0.8v0.8h-0.8zM361.0 256.5h0.8v0.8h-0.8zM369.4 242.7h0.8v0.8h-0.8zM357.7 253.2h0.8v0.8h-0.8zM373.5 260.4h0.8v0.8h-0.8zM376.2 264.1h0.8v0.8h-0.8zM348.4 260.0h0.8v0.8h-0.8zM373.6 233.5h0.8v0.8h-0.8zM369.9 251.3h0.8v0.8h-0.8zM375.0 243.6h0.8v0.8h-0.8zM368.3 274.4h0.8v0.8h-0.8zM370.3 242.7h0.8v0.8h-0.8zM366.1 247.9h0.8v0.8h-0.8zM365.8 251.2h0.8v0.8h-0.8zM340.9 236.9h0.8v0.8h-0.8zM370.5 263.2h0.8v0.8h-0.8zM377.9 256.7h0.8v0.8h-0.8zM367.5 243.9h0.8v0.8h-0.8zM368.9 254.4h0.8v0.8h-0.8zM354.9 238.3h0.8v0.8h-0.8zM379.2 256.4h0.8v0.8h-0.8zM366.2 247.3h0.8v0.8h-0.8zM369.6 234.2h0.8v0.8h-0.8zM373.4 240.8h0.8v0.8h-0.8zM374.4 255.1h0.8v0.8h-0.8zM379.4 256.8h0.8v0.8h-0.8zM373.9 250.2h0.8v0.8h-0.8zM331.2 257.3h0.8v0.8h-0.8zM342.6 251.5h0.8v0.8h-0.8zM375.3 241.6h0.8v0.8h-0.8zM345.8 250.1h0.8v0.8h-0.8zM352.5 252.5h0.8v0.8h-0.8zM375.0 265.3h0.8v0.8h-0.8zM374.6 240.7h0.8v0.8h-0.8zM365.3 238.6h0.8v0.8h-0.8zM323.3 256.0h0.8v0.8h-0.8zM358.4 269.3h0.8v0.8h-0.8zM355.9 265.3h0.8v0.8h-0.8zM363.9 258.2h0.8v0.8h-0.8zM353.4 237.1h0.8v0.8h-0.8zM379.3 260.8h0.8v0.8h-0.8zM374.2 257.6h0.8v0.8h-0.8zM370.0 242.6h0.8v0.8h-0.8zM341.7 253.9h0.8v0.8h-0.8zM376.7 235.2h0.8v0.8h-0.8zM371.1 260.7h0.8v0.8h-0.8zM349.5 258.9h0.8v0.8h-0.8zM375.1 260.6h0.8v0.8h-0.8zM355.6 259.7h0.8v0.8h-0.8zM340.3 249.0h0.8v0.8h-0.8zM379.7 260.5h0.8v0.8h-0.8zM374.9 247.8h0.8v0.8h-0.8zM374.1 242.3h0.8v0.8h-0.8zM329.0 252.2h0.8v0.8h-0.8zM368.1 254.1h0.8v0.8h-0.8zM363.1 249.2h0.8v0.8h-0.8zM371.5 256.0h0.8v0.8h-0.8zM366.3 256.2h0.8v0.8h-0.8zM332.3 247.8h0.8v0.8h-0.8zM344.9 256.6h0.8v0.8h-0.8zM366.0 251.3h0.8v0.8h-0.8zM326.8 259.5h0.8v0.8h-0.8zM372.5 249.1h0.8v0.8h-0.8zM365.1 260.8h0.8v0.8h-0.8zM335.8 252.6h0.8v0.8h-0.8zM371.6 255.1h0.8v0.8h-0.8zM351.2 257.7h0.8v0.8h-0.8zM352.6 254.8h0.8v0.8h-0.8zM366.2 248.2h0.8v0.8h-0.8zM374.3 270.5h0.8v0.8h-0.8zM376.8 239.3h0.8v0.8h-0.8zM374.1 250.2h0.8v0.8h-0.8zM365.9 255.3h0.8v0.8h-0.8zM377.2 232.8h0.8v0.8h-0.8zM376.3 243.1h0.8v0.8h-0.8zM366.1 261.0h0.8v0.8h-0.8zM369.1 260.4h0.8v0.8h-0.8zM379.3 256.5h0.8v0.8h-0.8zM371.1 264.8h0.8v0.8h-0.8zM328.8 259.9h0.8v0.8h-0.8zM350.5 249.7h0.8v0.8h-0.8zM334.5 257.4h0.8v0.8h-0.8zM369.7 250.9h0.8v0.8h-0.8zM375.1 259.3h0.8v0.8h-0.8zM376.5 252.0h0.8v0.8h-0.8zM372.5 243.2h0.8v0.8h-0.8zM347.4 263.9h0.8v0.8h-0.8zM327.4 258.0h0.8v0.8h-0.8zM367.1 259.1h0.8v0.8h-0.8zM315.0 255.6h0.8v0.8h-0.8zM367.8 260.4h0.8v0.8h-0.8zM368.7 253.1h0.8v0.8h-0.8zM331.7 255.5h0.8v0.8h-0.8zM366.5 236.7h0.8v0.8h-0.8zM373.8 255.2h0.8v0.8h-0.8zM364.6 261.4h0.8v0.8h-0.8zM372.7 258.1h0.8v0.8h-0.8zM373.0 260.7h0.8v0.8h-0.8zM364.9 254.2h0.8v0.8h-0.8zM369.9 263.7h0.8v0.8h-0.8zM373.3 240.0h0.8v0.8h-0.8zM329.1 263.8h0.8v0.8h-0.8zM336.0 252.0h0.8v0.8h-0.8zM349.5 239.3h0.8v0.8h-0.8zM333.9 256.8h0.8v0.8h-0.8zM379.0 253.5h0.8v0.8h-0.8zM374.3 252.7h0.8v0.8h-0.8zM333.0 262.6h0.8v0.8h-0.8zM374.1 242.4h0.8v0.8h-0.8zM329.1 256.9h0.8v0.8h-0.8zM332.1 252.6h0.8v0.8h-0.8zM374.0 254.6h0.8v0.8h-0.8zM370.2 254.5h0.8v0.8h-0.8zM363.0 242.4h0.8v0.8h-0.8zM330.3 255.0h0.8v0.8h-0.8zM377.4 263.0h0.8v0.8h-0.8zM373.5 244.0h0.8v0.8h-0.8zM369.5 228.9h0.8v0.8h-0.8zM363.0 237.3h0.8v0.8h-0.8zM327.6 253.9h0.8v0.8h-0.8zM370.3 270.1h0.8v0.8h-0.8zM375.2 234.6h0.8v0.8h-0.8zM360.0 272.5h0.8v0.8h-0.8zM326.1 255.0h0.8v0.8h-0.8zM367.0 241.1h0.8v0.8h-0.8zM354.9 252.6h0.8v0.8h-0.8zM363.0 246.1h0.8v0.8h-0.8zM329.8 258.8h0.8v0.8h-0.8zM336.8 255.1h0.8v0.8h-0.8zM368.2 249.5h0.8v0.8h-0.8zM358.7 248.0h0.8v0.8h-0.8zM360.6 263.4h0.8v0.8h-0.8zM370.4 259.7h0.8v0.8h-0.8zM329.6 253.2h0.8v0.8h-0.8zM374.6 252.2h0.8v0.8h-0.8zM335.9 259.3h0.8v0.8h-0.8zM373.5 269.5h0.8v0.8h-0.8zM363.5 238.3h0.8v0.8h-0.8zM365.5 243.7h0.8v0.8h-0.8zM373.2 251.2h0.8v0.8h-0.8zM319.7 254.7h0.8v0.8h-0.8zM378.4 237.4h0.8v0.8h-0.8zM372.7 235.7h0.8v0.8h-0.8zM365.9 246.9h0.8v0.8h-0.8zM378.5 251.8h0.8v0.8h-0.8zM346.4 259.2h0.8v0.8h-0.8zM377.0 256.4h0.8v0.8h-0.8zM387.4 232.6h0.8v0.8h-0.8zM379.8 234.6h0.8v0.8h-0.8zM374.2 253.1h0.8v0.8h-0.8zM381.0 263.2h0.8v0.8h-0.8zM337.3 265.7h0.8v0.8h-0.8zM377.7 251.3h0.8v0.8h-0.8zM350.8 264.5h0.8v0.8h-0.8zM374.9 266.5h0.8v0.8h-0.8zM376.5 252.2h0.8v0.8h-0.8zM369.1 259.1h0.8v0.8h-0.8zM378.2 251.4h0.8v0.8h-0.8zM373.2 243.3h0.8v0.8h-0.8zM364.3 255.7h0.8v0.8h-0.8zM366.5 238.6h0.8v0.8h-0.8zM314.7 257.6h0.8v0.8h-0.8zM331.6 261.3h0.8v0.8h-0.8zM349.7 265.6h0.8v0.8h-0.8zM368.6 253.2h0.8v0.8h-0.8zM381.9 240.7h0.8v0.8h-0.8zM372.5 265.0h0.8v0.8h-0.8zM370.4 263.2h0.8v0.8h-0.8zM340.0 269.5h0.8v0.8h-0.8zM335.5 256.4h0.8v0.8h-0.8zM352.0 257.5h0.8v0.8h-0.8zM349.9 251.9h0.8v0.8h-0.8zM379.3 244.9h0.8v0.8h-0.8zM373.7 249.3h0.8v0.8h-0.8zM358.9 258.9h0.8v0.8h-0.8zM373.8 250.1h0.8v0.8h-0.8zM330.5 258.1h0.8v0.8h-0.8zM373.8 254.2h0.8v0.8h-0.8zM370.5 253.2h0.8v0.8h-0.8zM341.9 269.8h0.8v0.8h-0.8zM354.4 244.5h0.8v0.8h-0.8zM332.3 254.3h0.8v0.8h-0.8zM367.1 243.6h0.8v0.8h-0.8zM378.7 266.6h0.8v0.8h-0.8zM335.9 254.1h0.8v0.8h-0.8zM334.9 250.9h0.8v0.8h-0.8zM366.1 244.1h0.8v0.8h-0.8zM335.8 256.0h0.8v0.8h-0.8zM364.7 252.3h0.8v0.8h-0.8zM365.8 242.0h0.8v0.8h-0.8zM379.4 233.4h0.8v0.8h-0.8zM331.8 252.2h0.8v0.8h-0.8zM376.5 255.8h0.8v0.8h-0.8zM354.6 254.6h0.8v0.8h-0.8zM365.7 264.8h0.8v0.8h-0.8zM372.2 265.0h0.8v0.8h-0.8zM374.3 266.8h0.8v0.8h-0.8zM367.3 260.9h0.8v0.8h-0.8zM375.3 253.6h0.8v0.8h-0.8zM367.9 254.8h0.8v0.8h-0.8zM360.2 252.3h0.8v0.8h-0.8zM366.2 252.5h0.8v0.8h-0.8zM360.9 234.6h0.8v0.8h-0.8zM365.1 260.6h0.8v0.8h-0.8zM369.8 247.8h0.8v0.8h-0.8zM344.9 233.4h0.8v0.8h-0.8zM351.3 253.8h0.8v0.8h-0.8zM343.4 258.6h0.8v0.8h-0.8zM329.2 253.2h0.8v0.8h-0.8zM375.9 251.1h0.8v0.8h-0.8zM373.4 257.0h0.8v0.8h-0.8zM374.7 243.8h0.8v0.8h-0.8zM366.0 228.9h0.8v0.8h-0.8zM332.4 256.1h0.8v0.8h-0.8zM377.1 254.8h0.8v0.8h-0.8zM354.6 263.5h0.8v0.8h-0.8zM338.7 253.0h0.8v0.8h-0.8zM372.6 260.3h0.8v0.8h-0.8zM375.7 230.5h0.8v0.8h-0.8zM368.4 232.6h0.8v0.8h-0.8zM355.5 256.2h0.8v0.8h-0.8zM379.2 246.5h0.8v0.8h-0.8zM360.4 237.3h0.8v0.8h-0.8zM368.0 241.7h0.8v0.8h-0.8zM357.6 251.5h0.8v0.8h-0.8zM364.1 250.9h0.8v0.8h-0.8zM328.2 256.0h0.8v0.8h-0.8zM352.6 264.4h0.8v0.8h-0.8zM378.7 251.3h0.8v0.8h-0.8zM344.0 245.1h0.8v0.8h-0.8zM369.3 255.9h0.8v0.8h-0.8zM321.3 209.1h0.8v0.8h-0.8zM376.1 251.6h0.8v0.8h-0.8zM357.7 250.2h0.8v0.8h-0.8zM385.5 251.7h0.8v0.8h-0.8zM357.6 235.7h0.8v0.8h-0.8zM372.8 255.2h0.8v0.8h-0.8zM353.9 256.8h0.8v0.8h-0.8zM374.5 259.3h0.8v0.8h-0.8zM351.1 268.9h0.8v0.8h-0.8zM359.0 251.4h0.8v0.8h-0.8zM370.3 257.4h0.8v0.8h-0.8zM353.1 253.4h0.8v0.8h-0.8zM381.9 246.4h0.8v0.8h-0.8zM362.1 264.5h0.8v0.8h-0.8zM369.1 259.1h0.8v0.8h-0.8zM373.4 267.3h0.8v0.8h-0.8zM377.7 261.1h0.8v0.8h-0.8zM364.6 265.7h0.8v0.8h-0.8zM368.8 241.6h0.8v0.8h-0.8zM371.9 230.4h0.8v0.8h-0.8zM369.0 245.6h0.8v0.8h-0.8zM327.8 252.8h0.8v0.8h-0.8zM316.6 258.4h0.8v0.8h-0.8zM335.2 253.0h0.8v0.8h-0.8zM332.8 254.8h0.8v0.8h-0.8zM357.7 259.9h0.8v0.8h-0.8zM374.7 237.1h0.8v0.8h-0.8zM366.9 257.9h0.8v0.8h-0.8zM373.7 235.2h0.8v0.8h-0.8zM373.7 247.5h0.8v0.8h-0.8zM363.9 258.5h0.8v0.8h-0.8zM373.9 257.8h0.8v0.8h-0.8zM374.4 252.0h0.8v0.8h-0.8zM379.1 249.3h0.8v0.8h-0.8zM360.3 261.5h0.8v0.8h-0.8zM371.1 248.9h0.8v0.8h-0.8zM371.3 233.4h0.8v0.8h-0.8zM371.7 247.6h0.8v0.8h-0.8zM363.5 231.6h0.8v0.8h-0.8zM344.3 261.2h0.8v0.8h-0.8zM373.0 241.2h0.8v0.8h-0.8zM367.9 270.1h0.8v0.8h-0.8zM375.4 246.0h0.8v0.8h-0.8zM371.2 249.5h0.8v0.8h-0.8zM380.7 255.9h0.8v0.8h-0.8zM374.3 249.9h0.8v0.8h-0.8zM369.1 251.6h0.8v0.8h-0.8zM351.5 240.5h0.8v0.8h-0.8zM324.3 252.0h0.8v0.8h-0.8zM374.8 232.3h0.8v0.8h-0.8zM374.4 246.8h0.8v0.8h-0.8zM366.8 265.1h0.8v0.8h-0.8zM324.8 249.2h0.8v0.8h-0.8zM363.7 248.6h0.8v0.8h-0.8zM369.0 257.7h0.8v0.8h-0.8zM372.7 263.8h0.8v0.8h-0.8zM320.3 249.8h0.8v0.8h-0.8zM362.3 251.6h0.8v0.8h-0.8zM331.5 258.8h0.8v0.8h-0.8zM328.6 260.5h0.8v0.8h-0.8zM322.4 256.7h0.8v0.8h-0.8zM369.8 244.9h0.8v0.8h-0.8zM373.2 244.7h0.8v0.8h-0.8zM338.2 259.8h0.8v0.8h-0.8zM374.3 258.0h0.8v0.8h-0.8zM384.7 264.2h0.8v0.8h-0.8zM359.4 260.0h0.8v0.8h-0.8zM363.4 252.9h0.8v0.8h-0.8zM356.8 242.0h0.8v0.8h-0.8zM366.7 264.4h0.8v0.8h-0.8zM342.9 258.1h0.8v0.8h-0.8zM366.7 255.9h0.8v0.8h-0.8zM372.4 257.8h0.8v0.8h-0.8zM376.7 252.0h0.8v0.8h-0.8zM373.7 250.7h0.8v0.8h-0.8zM365.2 256.0h0.8v0.8h-0.8zM322.9 254.3h0.8v0.8h-0.8zM378.3 258.4h0.8v0.8h-0.8zM373.8 266.7h0.8v0.8h-0.8zM372.7 262.4h0.8v0.8h-0.8zM388.6 252.0h0.8v0.8h-0.8zM343.6 251.8h0.8v0.8h-0.8zM368.7 266.1h0.8v0.8h-0.8zM348.2 252.4h0.8v0.8h-0.8zM368.3 261.0h0.8v0.8h-0.8zM366.3 239.2h0.8v0.8h-0.8zM372.9 253.4h0.8v0.8h-0.8zM340.4 254.6h0.8v0.8h-0.8zM329.2 261.4h0.8v0.8h-0.8zM357.0 264.0h0.8v0.8h-0.8zM371.4 243.4h0.8v0.8h-0.8zM329.9 256.8h0.8v0.8h-0.8zM368.0 256.6h0.8v0.8h-0.8zM368.2 243.2h0.8v0.8h-0.8zM372.8 262.0h0.8v0.8h-0.8zM372.5 255.4h0.8v0.8h-0.8zM377.5 268.7h0.8v0.8h-0.8zM362.6 245.5h0.8v0.8h-0.8zM369.2 254.7h0.8v0.8h-0.8zM371.8 250.1h0.8v0.8h-0.8zM329.6 257.2h0.8v0.8h-0.8zM374.5 256.3h0.8v0.8h-0.8zM331.1 254.7h0.8v0.8h-0.8zM374.0 250.2h0.8v0.8h-0.8zM376.2 254.0h0.8v0.8h-0.8zM341.3 252.0h0.8v0.8h-0.8zM367.6 264.4h0.8v0.8h-0.8zM331.9 253.6h0.8v0.8h-0.8zM372.5 254.0h0.8v0.8h-0.8zM368.6 248.2h0.8v0.8h-0.8zM349.3 248.3h0.8v0.8h-0.8zM369.0 268.2h0.8v0.8h-0.8zM333.8 250.2h0.8v0.8h-0.8zM365.1 263.4h0.8v0.8h-0.8zM337.3 256.2h0.8v0.8h-0.8zM343.9 271.4h0.8v0.8h-0.8zM378.0 243.7h0.8v0.8h-0.8zM369.7 267.2h0.8v0.8h-0.8zM396.9 259.9h0.8v0.8h-0.8zM336.6 255.8h0.8v0.8h-0.8zM378.0 258.3h0.8v0.8h-0.8zM363.8 258.7h0.8v0.8h-0.8zM369.9 253.3h0.8v0.8h-0.8zM374.6 256.9h0.8v0.8h-0.8zM352.9 247.1h0.8v0.8h-0.8zM366.1 231.7h0.8v0.8h-0.8zM363.0 257.6h0.8v0.8h-0.8zM371.4 253.6h0.8v0.8h-0.8zM381.2 264.7h0.8v0.8h-0.8zM377.2 248.4h0.8v0.8h-0.8zM371.3 261.2h0.8v0.8h-0.8zM373.9 271.6h0.8v0.8h-0.8zM356.3 264.8h0.8v0.8h-0.8zM366.9 269.2h0.8v0.8h-0.8zM365.5 243.9h0.8v0.8h-0.8zM385.1 243.8h0.8v0.8h-0.8zM351.1 247.5h0.8v0.8h-0.8zM372.4 251.1h0.8v0.8h-0.8zM373.9 240.8h0.8v0.8h-0.8zM366.0 243.1h0.8v0.8h-0.8zM346.6 231.2h0.8v0.8h-0.8zM365.1 266.6h0.8v0.8h-0.8zM371.8 251.3h0.8v0.8h-0.8zM360.2 256.7h0.8v0.8h-0.8zM378.4 253.4h0.8v0.8h-0.8zM363.6 259.3h0.8v0.8h-0.8zM378.6 260.6h0.8v0.8h-0.8zM373.9 251.9h0.8v0.8h-0.8zM324.1 255.4h0.8v0.8h-0.8zM350.5 239.8h0.8v0.8h-0.8zM362.6 249.3h0.8v0.8h-0.8zM372.3 246.9h0.8v0.8h-0.8zM374.9 249.8h0.8v0.8h-0.8zM373.6 250.3h0.8v0.8h-0.8zM364.5 255.9h0.8v0.8h-0.8zM340.7 250.5h0.8v0.8h-0.8zM376.6 250.2h0.8v0.8h-0.8zM369.1 261.7h0.8v0.8h-0.8zM349.1 229.1h0.8v0.8h-0.8zM377.7 221.7h0.8v0.8h-0.8zM366.5 236.5h0.8v0.8h-0.8zM352.4 263.2h0.8v0.8h-0.8zM374.0 256.7h0.8v0.8h-0.8zM373.3 258.9h0.8v0.8h-0.8zM354.6 268.9h0.8v0.8h-0.8zM360.6 246.6h0.8v0.8h-0.8zM372.0 265.5h0.8v0.8h-0.8zM360.7 247.6h0.8v0.8h-0.8zM355.1 254.5h0.8v0.8h-0.8zM371.3 257.7h0.8v0.8h-0.8zM360.2 261.0h0.8v0.8h-0.8zM373.2 248.0h0.8v0.8h-0.8zM374.4 253.9h0.8v0.8h-0.8zM348.5 235.3h0.8v0.8h-0.8zM368.5 249.4h0.8v0.8h-0.8zM356.7 271.0h0.8v0.8h-0.8zM378.8 264.6h0.8v0.8h-0.8zM374.9 256.0h0.8v0.8h-0.8zM373.4 260.1h0.8v0.8h-0.8zM371.2 264.8h0.8v0.8h-0.8zM334.5 250.9h0.8v0.8h-0.8zM342.0 271.2h0.8v0.8h-0.8zM370.0 253.3h0.8v0.8h-0.8zM364.4 243.5h0.8v0.8h-0.8zM376.3 254.5h0.8v0.8h-0.8zM334.7 256.2h0.8v0.8h-0.8zM333.4 258.0h0.8v0.8h-0.8zM338.0 257.7h0.8v0.8h-0.8zM359.2 235.0h0.8v0.8h-0.8zM320.4 257.2h0.8v0.8h-0.8zM376.2 265.7h0.8v0.8h-0.8zM335.5 257.8h0.8v0.8h-0.8zM373.8 270.1h0.8v0.8h-0.8zM329.2 254.9h0.8v0.8h-0.8zM338.7 261.5h0.8v0.8h-0.8zM345.5 242.7h0.8v0.8h-0.8zM378.7 264.2h0.8v0.8h-0.8zM330.6 253.1h0.8v0.8h-0.8zM350.2 263.5h0.8v0.8h-0.8zM368.0 250.5h0.8v0.8h-0.8zM354.9 256.6h0.8v0.8h-0.8zM372.1 262.3h0.8v0.8h-0.8zM321.1 258.7h0.8v0.8h-0.8zM335.2 256.5h0.8v0.8h-0.8zM373.2 269.7h0.8v0.8h-0.8zM372.0 238.7h0.8v0.8h-0.8zM374.7 240.0h0.8v0.8h-0.8zM369.9 255.3h0.8v0.8h-0.8zM372.0 268.3h0.8v0.8h-0.8zM379.7 258.0h0.8v0.8h-0.8zM376.7 249.6h0.8v0.8h-0.8zM371.9 240.3h0.8v0.8h-0.8zM369.2 253.4h0.8v0.8h-0.8zM380.1 253.7h0.8v0.8h-0.8zM359.1 253.9h0.8v0.8h-0.8zM333.9 256.9h0.8v0.8h-0.8zM368.4 248.6h0.8v0.8h-0.8zM368.0 263.8h0.8v0.8h-0.8zM368.9 249.5h0.8v0.8h-0.8zM369.9 240.2h0.8v0.8h-0.8zM326.8 251.3h0.8v0.8h-0.8zM373.0 266.9h0.8v0.8h-0.8zM366.3 243.7h0.8v0.8h-0.8zM375.6 248.8h0.8v0.8h-0.8zM368.5 266.1h0.8v0.8h-0.8zM321.9 251.1h0.8v0.8h-0.8zM364.5 262.4h0.8v0.8h-0.8zM390.6 234.6h0.8v0.8h-0.8zM358.2 264.3h0.8v0.8h-0.8zM376.1 247.4h0.8v0.8h-0.8zM372.7 244.6h0.8v0.8h-0.8zM360.7 259.4h0.8v0.8h-0.8zM373.6 272.2h0.8v0.8h-0.8zM367.2 268.9h0.8v0.8h-0.8zM380.1 259.1h0.8v0.8h-0.8zM380.5 265.3h0.8v0.8h-0.8zM378.7 272.0h0.8v0.8h-0.8zM371.3 255.2h0.8v0.8h-0.8zM371.5 242.7h0.8v0.8h-0.8zM377.0 262.3h0.8v0.8h-0.8zM355.2 252.3h0.8v0.8h-0.8zM325.5 250.1h0.8v0.8h-0.8zM372.4 254.3h0.8v0.8h-0.8zM371.4 233.7h0.8v0.8h-0.8zM359.7 231.3h0.8v0.8h-0.8zM378.0 248.2h0.8v0.8h-0.8zM341.2 256.4h0.8v0.8h-0.8zM374.4 259.3h0.8v0.8h-0.8zM343.7 268.9h0.8v0.8h-0.8zM371.8 261.4h0.8v0.8h-0.8zM368.2 267.0h0.8v0.8h-0.8zM377.8 256.9h0.8v0.8h-0.8zM324.5 259.4h0.8v0.8h-0.8zM321.7 256.3h0.8v0.8h-0.8zM370.6 238.1h0.8v0.8h-0.8zM362.6 236.8h0.8v0.8h-0.8zM354.0 259.8h0.8v0.8h-0.8zM375.9 246.0h0.8v0.8h-0.8zM380.3 260.3h0.8v0.8h-0.8zM338.5 253.6h0.8v0.8h-0.8zM361.5 225.0h0.8v0.8h-0.8zM323.3 255.6h0.8v0.8h-0.8zM357.3 253.1h0.8v0.8h-0.8zM365.1 237.7h0.8v0.8h-0.8zM372.3 248.4h0.8v0.8h-0.8zM372.1 249.8h0.8v0.8h-0.8zM377.6 250.7h0.8v0.8h-0.8zM374.1 258.5h0.8v0.8h-0.8zM362.3 244.2h0.8v0.8h-0.8zM358.1 253.4h0.8v0.8h-0.8zM372.7 256.2h0.8v0.8h-0.8zM361.0 267.9h0.8v0.8h-0.8zM372.8 240.5h0.8v0.8h-0.8zM362.1 238.1h0.8v0.8h-0.8zM375.1 245.3h0.8v0.8h-0.8zM368.5 246.5h0.8v0.8h-0.8zM374.1 243.8h0.8v0.8h-0.8zM372.9 237.6h0.8v0.8h-0.8zM369.2 246.4h0.8v0.8h-0.8zM373.1 246.6h0.8v0.8h-0.8zM378.3 253.9h0.8v0.8h-0.8zM343.8 257.0h0.8v0.8h-0.8zM376.0 251.3h0.8v0.8h-0.8zM365.7 244.4h0.8v0.8h-0.8zM372.4 239.2h0.8v0.8h-0.8zM375.4 248.3h0.8v0.8h-0.8zM372.5 244.5h0.8v0.8h-0.8zM388.3 253.5h0.8v0.8h-0.8zM371.8 263.3h0.8v0.8h-0.8zM336.2 258.6h0.8v0.8h-0.8zM378.2 245.9h0.8v0.8h-0.8zM376.5 233.6h0.8v0.8h-0.8zM362.7 237.1h0.8v0.8h-0.8zM328.7 253.4h0.8v0.8h-0.8zM375.2 251.3h0.8v0.8h-0.8zM372.8 257.5h0.8v0.8h-0.8zM380.1 238.3h0.8v0.8h-0.8zM354.4 248.2h0.8v0.8h-0.8zM378.2 257.7h0.8v0.8h-0.8zM336.9 255.6h0.8v0.8h-0.8zM342.4 254.9h0.8v0.8h-0.8zM370.2 265.0h0.8v0.8h-0.8zM367.9 241.0h0.8v0.8h-0.8zM357.6 245.5h0.8v0.8h-0.8zM331.9 255.6h0.8v0.8h-0.8zM331.4 255.9h0.8v0.8h-0.8zM379.3 270.8h0.8v0.8h-0.8zM361.9 270.6h0.8v0.8h-0.8zM321.3 256.1h0.8v0.8h-0.8zM344.8 259.9h0.8v0.8h-0.8zM354.7 258.3h0.8v0.8h-0.8zM353.4 242.2h0.8v0.8h-0.8zM366.0 256.2h0.8v0.8h-0.8zM371.0 249.5h0.8v0.8h-0.8zM368.8 251.1h0.8v0.8h-0.8zM383.5 243.3h0.8v0.8h-0.8zM367.2 226.7h0.8v0.8h-0.8zM353.7 262.9h0.8v0.8h-0.8zM339.0 258.9h0.8v0.8h-0.8zM379.9 259.1h0.8v0.8h-0.8zM368.3 249.3h0.8v0.8h-0.8zM348.3 252.5h0.8v0.8h-0.8zM359.9 244.5h0.8v0.8h-0.8zM365.7 256.4h0.8v0.8h-0.8zM337.4 262.4h0.8v0.8h-0.8zM355.4 260.3h0.8v0.8h-0.8zM367.2 266.9h0.8v0.8h-0.8zM371.2 248.0h0.8v0.8h-0.8zM366.3 258.1h0.8v0.8h-0.8zM363.9 241.6h0.8v0.8h-0.8zM326.1 255.4h0.8v0.8h-0.8zM381.1 240.4h0.8v0.8h-0.8zM334.6 255.4h0.8v0.8h-0.8zM338.6 255.3h0.8v0.8h-0.8zM382.0 250.9h0.8v0.8h-0.8zM328.7 251.2h0.8v0.8h-0.8zM319.4 258.7h0.8v0.8h-0.8zM390.0 253.5h0.8v0.8h-0.8zM377.7 252.2h0.8v0.8h-0.8zM365.3 240.9h0.8v0.8h-0.8zM342.6 249.4h0.8v0.8h-0.8zM373.1 262.0h0.8v0.8h-0.8zM381.6 269.8h0.8v0.8h-0.8zM349.2 251.9h0.8v0.8h-0.8zM371.2 263.2h0.8v0.8h-0.8zM376.7 263.2h0.8v0.8h-0.8zM360.7 246.7h0.8v0.8h-0.8zM369.9 248.7h0.8v0.8h-0.8zM346.9 258.4h0.8v0.8h-0.8zM371.5 249.6h0.8v0.8h-0.8zM374.0 268.4h0.8v0.8h-0.8zM378.1 251.2h0.8v0.8h-0.8zM377.1 258.8h0.8v0.8h-0.8zM375.3 258.3h0.8v0.8h-0.8zM376.8 246.3h0.8v0.8h-0.8zM355.4 263.4h0.8v0.8h-0.8zM382.3 250.0h0.8v0.8h-0.8zM379.2 240.2h0.8v0.8h-0.8zM384.3 235.4h0.8v0.8h-0.8zM373.9 253.1h0.8v0.8h-0.8zM372.8 256.8h0.8v0.8h-0.8zM365.5 248.9h0.8v0.8h-0.8zM359.9 262.1h0.8v0.8h-0.8zM344.9 248.6h0.8v0.8h-0.8zM373.1 262.4h0.8v0.8h-0.8zM355.4 234.0h0.8v0.8h-0.8zM375.0 248.1h0.8v0.8h-0.8zM366.6 243.7h0.8v0.8h-0.8zM368.8 253.3h0.8v0.8h-0.8zM334.8 251.0h0.8v0.8h-0.8zM349.1 252.2h0.8v0.8h-0.8zM326.4 262.6h0.8v0.8h-0.8zM371.2 255.6h0.8v0.8h-0.8zM371.0 256.4h0.8v0.8h-0.8zM327.8 252.0h0.8v0.8h-0.8zM323.6 261.4h0.8v0.8h-0.8zM373.3 254.0h0.8v0.8h-0.8zM369.3 259.1h0.8v0.8h-0.8zM379.8 265.2h0.8v0.8h-0.8zM384.3 256.5h0.8v0.8h-0.8zM327.3 253.1h0.8v0.8h-0.8zM376.4 248.4h0.8v0.8h-0.8zM373.2 265.3h0.8v0.8h-0.8zM368.3 259.8h0.8v0.8h-0.8zM366.8 260.6h0.8v0.8h-0.8zM370.1 246.9h0.8v0.8h-0.8zM331.0 253.3h0.8v0.8h-0.8zM374.6 263.5h0.8v0.8h-0.8zM369.8 247.8h0.8v0.8h-0.8zM362.7 261.5h0.8v0.8h-0.8zM330.9 255.4h0.8v0.8h-0.8zM363.6 246.8h0.8v0.8h-0.8zM360.1 251.7h0.8v0.8h-0.8zM374.1 237.8h0.8v0.8h-0.8zM350.0 257.6h0.8v0.8h-0.8zM371.8 258.8h0.8v0.8h-0.8zM380.4 233.0h0.8v0.8h-0.8zM362.3 249.9h0.8v0.8h-0.8zM374.2 259.6h0.8v0.8h-0.8zM372.2 245.6h0.8v0.8h-0.8zM327.9 255.1h0.8v0.8h-0.8zM377.9 260.9h0.8v0.8h-0.8zM343.6 255.5h0.8v0.8h-0.8zM372.7 241.2h0.8v0.8h-0.8zM365.6 265.3h0.8v0.8h-0.8zM370.3 259.2h0.8v0.8h-0.8zM330.2 255.5h0.8v0.8h-0.8zM342.0 250.8h0.8v0.8h-0.8zM374.8 255.9h0.8v0.8h-0.8zM332.2 252.2h0.8v0.8h-0.8zM358.1 241.4h0.8v0.8h-0.8zM373.0 241.1h0.8v0.8h-0.8zM384.5 235.0h0.8v0.8h-0.8zM371.2 244.5h0.8v0.8h-0.8zM368.8 247.9h0.8v0.8h-0.8zM376.4 256.7h0.8v0.8h-0.8zM372.4 255.5h0.8v0.8h-0.8zM328.9 256.2h0.8v0.8h-0.8zM378.9 261.4h0.8v0.8h-0.8zM374.0 239.4h0.8v0.8h-0.8zM324.0 252.2h0.8v0.8h-0.8zM361.2 238.3h0.8v0.8h-0.8zM355.6 253.0h0.8v0.8h-0.8zM356.3 238.1h0.8v0.8h-0.8zM386.6 236.9h0.8v0.8h-0.8zM352.5 240.1h0.8v0.8h-0.8zM327.5 252.0h0.8v0.8h-0.8zM364.4 259.8h0.8v0.8h-0.8zM337.4 249.1h0.8v0.8h-0.8zM359.5 259.4h0.8v0.8h-0.8zM370.0 247.2h0.8v0.8h-0.8zM366.7 249.3h0.8v0.8h-0.8zM366.9 253.9h0.8v0.8h-0.8zM369.8 237.8h0.8v0.8h-0.8zM370.4 253.3h0.8v0.8h-0.8zM377.0 255.7h0.8v0.8h-0.8zM332.2 261.6h0.8v0.8h-0.8zM360.0 236.5h0.8v0.8h-0.8zM367.8 260.8h0.8v0.8h-0.8zM341.9 255.9h0.8v0.8h-0.8zM369.6 255.8h0.8v0.8h-0.8zM361.0 236.0h0.8v0.8h-0.8zM366.3 263.7h0.8v0.8h-0.8zM375.5 249.0h0.8v0.8h-0.8zM358.7 255.4h0.8v0.8h-0.8zM330.7 255.0h0.8v0.8h-0.8zM368.1 265.0h0.8v0.8h-0.8zM364.1 256.1h0.8v0.8h-0.8zM366.2 273.0h0.8v0.8h-0.8zM367.5 247.1h0.8v0.8h-0.8zM379.7 257.3h0.8v0.8h-0.8zM367.9 255.7h0.8v0.8h-0.8zM333.3 254.9h0.8v0.8h-0.8zM364.8 256.9h0.8v0.8h-0.8zM368.1 255.1h0.8v0.8h-0.8zM362.7 250.8h0.8v0.8h-0.8zM327.4 257.4h0.8v0.8h-0.8zM377.5 238.4h0.8v0.8h-0.8zM377.3 253.5h0.8v0.8h-0.8zM375.5 253.5h0.8v0.8h-0.8zM375.6 246.0h0.8v0.8h-0.8zM336.7 255.7h0.8v0.8h-0.8zM335.0 257.7h0.8v0.8h-0.8zM341.9 241.9h0.8v0.8h-0.8zM331.2 249.7h0.8v0.8h-0.8zM363.6 236.8h0.8v0.8h-0.8zM348.3 256.3h0.8v0.8h-0.8zM371.9 238.4h0.8v0.8h-0.8zM358.0 247.3h0.8v0.8h-0.8zM368.9 253.3h0.8v0.8h-0.8zM373.7 253.4h0.8v0.8h-0.8zM352.2 233.6h0.8v0.8h-0.8zM366.8 267.8h0.8v0.8h-0.8zM361.0 247.2h0.8v0.8h-0.8zM376.9 256.2h0.8v0.8h-0.8zM371.3 247.0h0.8v0.8h-0.8zM340.9 256.0h0.8v0.8h-0.8zM349.0 251.3h0.8v0.8h-0.8zM363.1 250.1h0.8v0.8h-0.8zM371.6 253.8h0.8v0.8h-0.8zM316.9 256.2h0.8v0.8h-0.8zM354.1 256.4h0.8v0.8h-0.8zM321.4 258.2h0.8v0.8h-0.8zM354.3 248.7h0.8v0.8h-0.8zM359.2 239.1h0.8v0.8h-0.8zM341.9 248.4h0.8v0.8h-0.8zM376.6 250.1h0.8v0.8h-0.8zM373.3 256.1h0.8v0.8h-0.8zM333.9 252.7h0.8v0.8h-0.8zM381.3 249.5h0.8v0.8h-0.8zM361.0 240.0h0.8v0.8h-0.8zM344.7 256.2h0.8v0.8h-0.8zM379.0 240.4h0.8v0.8h-0.8zM343.3 254.5h0.8v0.8h-0.8zM321.0 258.4h0.8v0.8h-0.8zM348.3 257.0h0.8v0.8h-0.8zM367.5 243.8h0.8v0.8h-0.8zM362.9 251.0h0.8v0.8h-0.8zM367.6 267.5h0.8v0.8h-0.8zM327.7 239.4h0.8v0.8h-0.8zM367.9 257.7h0.8v0.8h-0.8zM330.4 253.1h0.8v0.8h-0.8zM321.3 256.7h0.8v0.8h-0.8zM341.4 252.3h0.8v0.8h-0.8zM377.1 241.1h0.8v0.8h-0.8zM325.8 255.7h0.8v0.8h-0.8zM370.5 223.9h0.8v0.8h-0.8zM327.6 263.5h0.8v0.8h-0.8zM364.8 260.8h0.8v0.8h-0.8zM352.9 251.8h0.8v0.8h-0.8zM328.1 255.1h0.8v0.8h-0.8zM373.0 254.9h0.8v0.8h-0.8zM375.8 270.6h0.8v0.8h-0.8zM372.9 234.9h0.8v0.8h-0.8zM337.1 249.8h0.8v0.8h-0.8zM376.7 252.1h0.8v0.8h-0.8zM374.8 260.1h0.8v0.8h-0.8zM376.5 258.5h0.8v0.8h-0.8zM367.8 252.8h0.8v0.8h-0.8zM374.0 228.8h0.8v0.8h-0.8zM344.7 257.4h0.8v0.8h-0.8zM376.6 252.0h0.8v0.8h-0.8zM378.6 240.8h0.8v0.8h-0.8zM370.4 256.7h0.8v0.8h-0.8zM362.7 253.3h0.8v0.8h-0.8zM372.0 249.5h0.8v0.8h-0.8zM357.4 248.8h0.8v0.8h-0.8zM361.6 254.5h0.8v0.8h-0.8zM372.3 247.6h0.8v0.8h-0.8zM338.8 252.5h0.8v0.8h-0.8zM370.7 267.2h0.8v0.8h-0.8zM375.5 253.9h0.8v0.8h-0.8zM344.6 248.1h0.8v0.8h-0.8zM362.1 254.6h0.8v0.8h-0.8zM363.8 265.8h0.8v0.8h-0.8zM356.7 263.3h0.8v0.8h-0.8zM364.7 258.0h0.8v0.8h-0.8zM361.9 264.6h0.8v0.8h-0.8zM333.0 259.7h0.8v0.8h-0.8zM370.0 257.8h0.8v0.8h-0.8zM374.5 252.6h0.8v0.8h-0.8zM359.1 243.0h0.8v0.8h-0.8zM382.3 258.6h0.8v0.8h-0.8zM375.1 256.5h0.8v0.8h-0.8zM351.2 269.7h0.8v0.8h-0.8zM368.1 250.5h0.8v0.8h-0.8zM351.0 263.8h0.8v0.8h-0.8zM362.3 246.6h0.8v0.8h-0.8zM360.2 267.7h0.8v0.8h-0.8zM349.9 273.9h0.8v0.8h-0.8zM367.2 235.4h0.8v0.8h-0.8zM373.4 250.1h0.8v0.8h-0.8zM357.1 274.0h0.8v0.8h-0.8zM358.1 269.6h0.8v0.8h-0.8zM336.6 257.8h0.8v0.8h-0.8zM364.7 242.5h0.8v0.8h-0.8zM361.9 224.9h0.8v0.8h-0.8zM374.9 247.9h0.8v0.8h-0.8zM379.8 267.2h0.8v0.8h-0.8zM376.0 260.6h0.8v0.8h-0.8zM374.6 253.0h0.8v0.8h-0.8zM358.3 259.8h0.8v0.8h-0.8zM371.8 264.9h0.8v0.8h-0.8zM356.5 249.6h0.8v0.8h-0.8zM379.0 263.2h0.8v0.8h-0.8zM358.9 248.7h0.8v0.8h-0.8zM382.5 250.2h0.8v0.8h-0.8zM378.0 235.0h0.8v0.8h-0.8zM368.9 243.9h0.8v0.8h-0.8zM369.0 255.1h0.8v0.8h-0.8zM364.8 232.5h0.8v0.8h-0.8zM356.5 255.4h0.8v0.8h-0.8zM370.9 244.2h0.8v0.8h-0.8zM373.5 259.2h0.8v0.8h-0.8zM368.9 241.6h0.8v0.8h-0.8zM361.3 246.2h0.8v0.8h-0.8zM355.7 248.6h0.8v0.8h-0.8zM375.5 256.0h0.8v0.8h-0.8zM326.7 261.2h0.8v0.8h-0.8zM314.4 259.6h0.8v0.8h-0.8zM357.1 259.5h0.8v0.8h-0.8zM371.7 258.0h0.8v0.8h-0.8zM343.4 255.3h0.8v0.8h-0.8zM372.9 250.8h0.8v0.8h-0.8zM371.7 244.8h0.8v0.8h-0.8zM319.8 263.4h0.8v0.8h-0.8zM385.2 252.1h0.8v0.8h-0.8zM357.0 257.3h0.8v0.8h-0.8zM366.7 237.4h0.8v0.8h-0.8zM371.7 251.4h0.8v0.8h-0.8zM370.4 239.6h0.8v0.8h-0.8zM357.9 251.2h0.8v0.8h-0.8zM320.6 259.5h0.8v0.8h-0.8zM371.2 250.7h0.8v0.8h-0.8zM373.0 257.8h0.8v0.8h-0.8zM375.2 241.3h0.8v0.8h-0.8zM376.1 251.9h0.8v0.8h-0.8zM320.4 252.8h0.8v0.8h-0.8zM324.4 254.7h0.8v0.8h-0.8zM351.9 247.2h0.8v0.8h-0.8zM359.5 258.0h0.8v0.8h-0.8zM371.7 263.6h0.8v0.8h-0.8zM357.9 261.3h0.8v0.8h-0.8zM369.7 233.5h0.8v0.8h-0.8zM334.3 254.0h0.8v0.8h-0.8zM375.0 250.6h0.8v0.8h-0.8zM357.6 255.6h0.8v0.8h-0.8zM376.8 238.1h0.8v0.8h-0.8zM375.8 258.6h0.8v0.8h-0.8zM343.8 252.9h0.8v0.8h-0.8zM376.8 267.3h0.8v0.8h-0.8zM365.7 231.1h0.8v0.8h-0.8zM350.8 252.5h0.8v0.8h-0.8zM331.3 254.4h0.8v0.8h-0.8zM368.8 261.6h0.8v0.8h-0.8zM331.8 259.9h0.8v0.8h-0.8zM376.2 244.7h0.8v0.8h-0.8zM373.9 249.6h0.8v0.8h-0.8zM330.6 259.1h0.8v0.8h-0.8zM359.1 252.7h0.8v0.8h-0.8zM375.4 248.3h0.8v0.8h-0.8zM382.3 266.4h0.8v0.8h-0.8zM364.5 262.2h0.8v0.8h-0.8zM361.0 251.4h0.8v0.8h-0.8zM366.2 255.1h0.8v0.8h-0.8zM375.2 266.0h0.8v0.8h-0.8zM351.5 246.7h0.8v0.8h-0.8zM365.2 265.3h0.8v0.8h-0.8zM376.2 263.5h0.8v0.8h-0.8zM371.3 258.9h0.8v0.8h-0.8zM379.0 258.0h0.8v0.8h-0.8zM376.8 258.0h0.8v0.8h-0.8zM348.8 255.2h0.8v0.8h-0.8zM375.0 255.7h0.8v0.8h-0.8zM365.2 245.9h0.8v0.8h-0.8zM326.1 255.7h0.8v0.8h-0.8zM348.8 257.7h0.8v0.8h-0.8zM329.4 254.2h0.8v0.8h-0.8zM368.7 257.9h0.8v0.8h-0.8zM323.6 253.9h0.8v0.8h-0.8zM373.5 260.5h0.8v0.8h-0.8zM359.1 258.8h0.8v0.8h-0.8zM374.9 238.6h0.8v0.8h-0.8zM374.8 259.5h0.8v0.8h-0.8zM359.8 249.3h0.8v0.8h-0.8zM371.0 238.2h0.8v0.8h-0.8zM370.2 241.5h0.8v0.8h-0.8zM372.4 250.1h0.8v0.8h-0.8zM368.6 254.7h0.8v0.8h-0.8zM325.7 250.7h0.8v0.8h-0.8zM378.7 246.0h0.8v0.8h-0.8zM375.0 259.8h0.8v0.8h-0.8zM352.6 251.9h0.8v0.8h-0.8zM377.3 263.4h0.8v0.8h-0.8zM366.6 247.6h0.8v0.8h-0.8zM325.7 258.4h0.8v0.8h-0.8zM366.6 251.4h0.8v0.8h-0.8zM377.8 262.0h0.8v0.8h-0.8zM338.1 257.1h0.8v0.8h-0.8zM367.5 257.7h0.8v0.8h-0.8zM366.8 239.2h0.8v0.8h-0.8zM377.1 259.1h0.8v0.8h-0.8zM357.5 251.2h0.8v0.8h-0.8zM352.9 259.2h0.8v0.8h-0.8zM369.3 262.4h0.8v0.8h-0.8zM373.4 241.2h0.8v0.8h-0.8zM367.3 230.5h0.8v0.8h-0.8zM338.1 259.7h0.8v0.8h-0.8zM360.2 269.6h0.8v0.8h-0.8zM366.6 264.9h0.8v0.8h-0.8zM327.8 253.3h0.8v0.8h-0.8zM372.8 261.7h0.8v0.8h-0.8zM358.8 232.4h0.8v0.8h-0.8zM371.6 236.1h0.8v0.8h-0.8zM373.7 255.7h0.8v0.8h-0.8zM372.8 254.8h0.8v0.8h-0.8zM335.1 262.0h0.8v0.8h-0.8zM369.7 247.2h0.8v0.8h-0.8zM334.4 253.9h0.8v0.8h-0.8zM373.9 272.1h0.8v0.8h-0.8zM365.6 249.7h0.8v0.8h-0.8zM373.4 252.1h0.8v0.8h-0.8zM373.3 256.2h0.8v0.8h-0.8zM375.6 273.3h0.8v0.8h-0.8zM378.1 244.8h0.8v0.8h-0.8zM328.8 258.5h0.8v0.8h-0.8zM333.3 252.8h0.8v0.8h-0.8zM368.1 252.1h0.8v0.8h-0.8zM363.7 248.1h0.8v0.8h-0.8zM344.8 253.9h0.8v0.8h-0.8zM363.7 255.5h0.8v0.8h-0.8zM334.9 252.2h0.8v0.8h-0.8zM379.6 254.4h0.8v0.8h-0.8zM377.6 256.9h0.8v0.8h-0.8zM329.0 262.9h0.8v0.8h-0.8zM322.6 255.6h0.8v0.8h-0.8zM373.0 251.9h0.8v0.8h-0.8zM376.6 268.9h0.8v0.8h-0.8zM375.9 244.3h0.8v0.8h-0.8zM324.2 235.2h0.8v0.8h-0.8zM362.2 265.2h0.8v0.8h-0.8zM312.5 248.7h0.8v0.8h-0.8zM368.5 243.1h0.8v0.8h-0.8zM376.9 251.6h0.8v0.8h-0.8zM373.4 250.9h0.8v0.8h-0.8zM358.5 251.4h0.8v0.8h-0.8zM314.7 262.8h0.8v0.8h-0.8zM372.2 249.3h0.8v0.8h-0.8zM348.2 242.2h0.8v0.8h-0.8zM330.4 246.6h0.8v0.8h-0.8zM374.9 267.9h0.8v0.8h-0.8zM375.4 252.7h0.8v0.8h-0.8zM371.2 251.2h0.8v0.8h-0.8zM344.8 260.3h0.8v0.8h-0.8zM373.0 266.8h0.8v0.8h-0.8zM327.0 254.9h0.8v0.8h-0.8zM365.0 261.1h0.8v0.8h-0.8zM378.4 248.2h0.8v0.8h-0.8zM332.6 251.3h0.8v0.8h-0.8zM366.7 255.8h0.8v0.8h-0.8zM374.9 247.0h0.8v0.8h-0.8zM371.8 248.8h0.8v0.8h-0.8zM366.7 245.5h0.8v0.8h-0.8zM374.6 248.1h0.8v0.8h-0.8zM339.0 262.2h0.8v0.8h-0.8zM347.0 261.0h0.8v0.8h-0.8zM369.9 240.8h0.8v0.8h-0.8zM326.3 251.3h0.8v0.8h-0.8zM363.6 258.7h0.8v0.8h-0.8zM372.1 263.0h0.8v0.8h-0.8zM319.1 255.8h0.8v0.8h-0.8zM371.4 258.7h0.8v0.8h-0.8zM377.1 247.1h0.8v0.8h-0.8zM365.2 260.4h0.8v0.8h-0.8zM376.1 261.1h0.8v0.8h-0.8zM376.7 252.2h0.8v0.8h-0.8zM374.0 247.5h0.8v0.8h-0.8zM355.7 233.5h0.8v0.8h-0.8zM368.5 257.0h0.8v0.8h-0.8zM372.1 256.8h0.8v0.8h-0.8zM359.9 202.3h0.8v0.8h-0.8zM359.4 254.6h0.8v0.8h-0.8zM348.0 267.1h0.8v0.8h-0.8zM379.6 233.0h0.8v0.8h-0.8zM373.5 242.2h0.8v0.8h-0.8zM369.6 236.1h0.8v0.8h-0.8zM330.3 253.3h0.8v0.8h-0.8zM376.2 252.0h0.8v0.8h-0.8zM369.7 263.2h0.8v0.8h-0.8zM405.1 236.6h0.8v0.8h-0.8zM372.5 245.8h0.8v0.8h-0.8zM383.3 266.8h0.8v0.8h-0.8zM365.2 231.3h0.8v0.8h-0.8zM369.5 248.0h0.8v0.8h-0.8zM345.2 252.1h0.8v0.8h-0.8zM349.6 196.5h0.8v0.8h-0.8zM366.9 249.3h0.8v0.8h-0.8zM367.4 256.3h0.8v0.8h-0.8zM325.7 256.6h0.8v0.8h-0.8zM375.1 256.1h0.8v0.8h-0.8zM358.7 257.4h0.8v0.8h-0.8zM324.3 256.7h0.8v0.8h-0.8zM370.0 234.0h0.8v0.8h-0.8zM368.2 257.3h0.8v0.8h-0.8zM377.3 255.6h0.8v0.8h-0.8zM358.8 246.9h0.8v0.8h-0.8zM358.2 252.8h0.8v0.8h-0.8zM377.3 247.0h0.8v0.8h-0.8zM364.5 263.4h0.8v0.8h-0.8zM378.0 248.7h0.8v0.8h-0.8zM374.8 243.8h0.8v0.8h-0.8zM358.1 260.7h0.8v0.8h-0.8zM358.2 259.7h0.8v0.8h-0.8zM334.9 262.8h0.8v0.8h-0.8zM365.1 257.8h0.8v0.8h-0.8zM344.5 252.7h0.8v0.8h-0.8zM372.3 254.0h0.8v0.8h-0.8zM374.2 255.2h0.8v0.8h-0.8zM341.9 256.1h0.8v0.8h-0.8zM348.2 267.8h0.8v0.8h-0.8zM381.9 248.5h0.8v0.8h-0.8zM373.2 259.5h0.8v0.8h-0.8zM364.4 230.9h0.8v0.8h-0.8zM372.6 245.1h0.8v0.8h-0.8zM379.4 267.3h0.8v0.8h-0.8zM379.0 247.8h0.8v0.8h-0.8zM328.6 254.6h0.8v0.8h-0.8zM359.0 265.8h0.8v0.8h-0.8zM367.8 257.4h0.8v0.8h-0.8zM335.5 254.3h0.8v0.8h-0.8zM367.5 258.2h0.8v0.8h-0.8zM369.5 270.7h0.8v0.8h-0.8zM368.4 267.3h0.8v0.8h-0.8zM374.4 245.0h0.8v0.8h-0.8zM388.0 242.3h0.8v0.8h-0.8zM368.5 249.4h0.8v0.8h-0.8zM372.8 242.7h0.8v0.8h-0.8zM366.9 259.6h0.8v0.8h-0.8zM373.5 261.9h0.8v0.8h-0.8zM353.4 242.7h0.8v0.8h-0.8zM361.1 237.9h0.8v0.8h-0.8zM372.5 250.4h0.8v0.8h-0.8zM381.9 257.6h0.8v0.8h-0.8zM376.2 259.9h0.8v0.8h-0.8zM329.9 253.6h0.8v0.8h-0.8zM320.2 257.2h0.8v0.8h-0.8zM364.9 265.9h0.8v0.8h-0.8zM367.3 263.6h0.8v0.8h-0.8zM320.9 241.1h0.8v0.8h-0.8zM327.2 258.7h0.8v0.8h-0.8zM338.4 260.0h0.8v0.8h-0.8zM355.7 265.4h0.8v0.8h-0.8zM352.8 252.7h0.8v0.8h-0.8zM380.8 243.1h0.8v0.8h-0.8zM370.6 254.0h0.8v0.8h-0.8zM331.9 251.5h0.8v0.8h-0.8zM341.4 252.4h0.8v0.8h-0.8zM372.3 260.6h0.8v0.8h-0.8zM362.5 257.3h0.8v0.8h-0.8zM369.8 257.6h0.8v0.8h-0.8zM364.6 257.0h0.8v0.8h-0.8zM361.3 242.7h0.8v0.8h-0.8zM371.4 236.1h0.8v0.8h-0.8zM351.4 252.1h0.8v0.8h-0.8zM377.9 262.0h0.8v0.8h-0.8zM349.8 257.4h0.8v0.8h-0.8zM323.2 260.6h0.8v0.8h-0.8zM344.1 256.7h0.8v0.8h-0.8zM370.1 260.2h0.8v0.8h-0.8zM361.2 273.9h0.8v0.8h-0.8zM328.0 258.9h0.8v0.8h-0.8zM376.4 262.8h0.8v0.8h-0.8zM357.1 270.3h0.8v0.8h-0.8zM354.8 259.1h0.8v0.8h-0.8zM359.4 261.1h0.8v0.8h-0.8zM353.1 238.3h0.8v0.8h-0.8zM381.0 233.6h0.8v0.8h-0.8zM344.6 266.1h0.8v0.8h-0.8zM377.2 247.3h0.8v0.8h-0.8zM370.4 249.9h0.8v0.8h-0.8zM367.1 242.2h0.8v0.8h-0.8zM374.9 256.7h0.8v0.8h-0.8zM359.1 233.0h0.8v0.8h-0.8zM365.6 260.7h0.8v0.8h-0.8zM346.2 250.0h0.8v0.8h-0.8zM365.4 259.0h0.8v0.8h-0.8zM370.4 265.3h0.8v0.8h-0.8zM327.5 258.1h0.8v0.8h-0.8zM369.8 252.7h0.8v0.8h-0.8zM356.9 256.6h0.8v0.8h-0.8zM362.0 262.6h0.8v0.8h-0.8zM320.3 258.8h0.8v0.8h-0.8zM316.8 248.2h0.8v0.8h-0.8zM396.0 225.8h0.8v0.8h-0.8zM365.9 263.9h0.8v0.8h-0.8zM350.1 256.7h0.8v0.8h-0.8zM370.3 237.0h0.8v0.8h-0.8zM369.1 255.4h0.8v0.8h-0.8zM325.7 256.5h0.8v0.8h-0.8zM376.9 249.3h0.8v0.8h-0.8zM383.2 263.6h0.8v0.8h-0.8zM331.0 247.6h0.8v0.8h-0.8zM369.8 242.7h0.8v0.8h-0.8zM376.3 249.7h0.8v0.8h-0.8zM366.7 250.9h0.8v0.8h-0.8zM375.4 263.6h0.8v0.8h-0.8zM371.2 257.4h0.8v0.8h-0.8zM372.5 241.4h0.8v0.8h-0.8zM340.9 252.2h0.8v0.8h-0.8zM377.2 239.7h0.8v0.8h-0.8zM372.6 258.1h0.8v0.8h-0.8zM360.3 262.6h0.8v0.8h-0.8zM368.7 239.1h0.8v0.8h-0.8zM370.8 254.5h0.8v0.8h-0.8zM367.1 247.6h0.8v0.8h-0.8zM360.9 249.0h0.8v0.8h-0.8zM370.9 259.3h0.8v0.8h-0.8zM356.4 270.6h0.8v0.8h-0.8zM378.3 248.5h0.8v0.8h-0.8zM339.9 255.4h0.8v0.8h-0.8zM378.1 250.0h0.8v0.8h-0.8zM364.2 237.0h0.8v0.8h-0.8zM366.6 256.2h0.8v0.8h-0.8zM378.0 243.3h0.8v0.8h-0.8zM316.2 258.3h0.8v0.8h-0.8zM371.3 259.1h0.8v0.8h-0.8zM365.0 242.6h0.8v0.8h-0.8zM343.1 256.1h0.8v0.8h-0.8zM366.3 246.4h0.8v0.8h-0.8zM364.5 259.7h0.8v0.8h-0.8zM363.9 249.5h0.8v0.8h-0.8zM325.2 258.1h0.8v0.8h-0.8zM344.7 257.3h0.8v0.8h-0.8zM364.4 255.6h0.8v0.8h-0.8zM358.5 246.6h0.8v0.8h-0.8zM373.9 261.8h0.8v0.8h-0.8zM358.9 251.3h0.8v0.8h-0.8zM376.8 259.9h0.8v0.8h-0.8zM371.7 253.9h0.8v0.8h-0.8zM369.3 253.4h0.8v0.8h-0.8zM324.4 258.7h0.8v0.8h-0.8zM370.8 250.8h0.8v0.8h-0.8zM365.3 259.8h0.8v0.8h-0.8zM363.3 253.4h0.8v0.8h-0.8zM354.2 259.4h0.8v0.8h-0.8zM355.3 258.4h0.8v0.8h-0.8zM351.0 267.5h0.8v0.8h-0.8zM381.1 252.4h0.8v0.8h-0.8zM326.9 251.1h0.8v0.8h-0.8zM373.5 273.3h0.8v0.8h-0.8zM340.7 254.8h0.8v0.8h-0.8zM354.2 252.8h0.8v0.8h-0.8zM365.2 258.2h0.8v0.8h-0.8zM376.1 247.7h0.8v0.8h-0.8zM355.4 268.8h0.8v0.8h-0.8zM321.3 259.6h0.8v0.8h-0.8zM351.6 257.2h0.8v0.8h-0.8zM374.5 249.5h0.8v0.8h-0.8zM332.6 261.0h0.8v0.8h-0.8zM369.7 265.7h0.8v0.8h-0.8zM323.9 260.5h0.8v0.8h-0.8zM373.6 265.4h0.8v0.8h-0.8zM363.6 239.2h0.8v0.8h-0.8zM357.5 259.4h0.8v0.8h-0.8zM357.0 263.2h0.8v0.8h-0.8zM373.6 253.6h0.8v0.8h-0.8zM366.2 238.3h0.8v0.8h-0.8zM339.7 255.4h0.8v0.8h-0.8zM360.5 247.9h0.8v0.8h-0.8zM382.5 233.3h0.8v0.8h-0.8zM373.2 266.7h0.8v0.8h-0.8zM370.6 261.7h0.8v0.8h-0.8zM374.9 256.8h0.8v0.8h-0.8zM373.0 259.1h0.8v0.8h-0.8zM340.1 257.8h0.8v0.8h-0.8zM334.7 254.0h0.8v0.8h-0.8zM370.4 241.3h0.8v0.8h-0.8zM369.9 249.0h0.8v0.8h-0.8zM380.9 254.4h0.8v0.8h-0.8zM374.9 255.6h0.8v0.8h-0.8zM362.3 249.9h0.8v0.8h-0.8zM366.1 241.6h0.8v0.8h-0.8zM372.9 250.5h0.8v0.8h-0.8zM358.7 245.2h0.8v0.8h-0.8zM381.1 266.2h0.8v0.8h-0.8zM369.5 246.7h0.8v0.8h-0.8zM343.7 252.1h0.8v0.8h-0.8zM337.9 255.2h0.8v0.8h-0.8zM318.9 248.2h0.8v0.8h-0.8zM361.9 254.2h0.8v0.8h-0.8zM371.2 255.0h0.8v0.8h-0.8zM375.2 235.4h0.8v0.8h-0.8zM367.3 267.9h0.8v0.8h-0.8zM329.6 255.4h0.8v0.8h-0.8zM375.0 242.6h0.8v0.8h-0.8zM370.8 271.1h0.8v0.8h-0.8zM366.3 244.5h0.8v0.8h-0.8zM372.9 258.6h0.8v0.8h-0.8zM322.1 254.3h0.8v0.8h-0.8zM366.0 248.4h0.8v0.8h-0.8zM369.6 251.9h0.8v0.8h-0.8zM313.2 254.4h0.8v0.8h-0.8zM334.4 251.7h0.8v0.8h-0.8zM371.5 247.5h0.8v0.8h-0.8zM339.9 252.9h0.8v0.8h-0.8zM328.9 253.2h0.8v0.8h-0.8zM317.2 258.1h0.8v0.8h-0.8zM366.2 246.0h0.8v0.8h-0.8zM315.4 235.2h0.8v0.8h-0.8zM373.5 261.8h0.8v0.8h-0.8zM370.2 237.3h0.8v0.8h-0.8z" fill="#e03434" fill-opacity="0.8"/>
<path d="M374.8 207.6h0.7v0.7h-0.7zM368.1 223.6h0.7v0.7h-0.7zM350.8 206.7h0.7v0.7h-0.7zM367.1 206.1h0.7v0.7h-0.7zM369.6 210.0h0.7v0.7h-0.7zM381.8 207.2h0.7v0.7h-0.7zM375.7 215.3h0.7v0.7h-0.7zM376.0 204.2h0.7v0.7h-0.7zM363.0 221.1h0.7v0.7h-0.7zM370.0 219.6h0.7v0.7h-0.7zM379.8 197.1h0.7v0.7h-0.7zM360.4 213.5h0.7v0.7h-0.7zM360.6 204.4h0.7v0.7h-0.7zM355.3 208.5h0.7v0.7h-0.7zM346.1 211.4h0.7v0.7h-0.7zM360.7 211.6h0.7v0.7h-0.7zM372.6 212.0h0.7v0.7h-0.7zM359.7 222.7h0.7v0.7h-0.7zM356.9 208.4h0.7v0.7h-0.7zM384.9 206.0h0.7v0.7h-0.7zM376.0 215.3h0.7v0.7h-0.7zM368.0 223.9h0.7v0.7h-0.7zM373.4 222.4h0.7v0.7h-0.7zM356.8 220.6h0.7v0.7h-0.7zM374.3 202.0h0.7v0.7h-0.7zM360.7 223.1h0.7v0.7h-0.7zM351.6 215.4h0.7v0.7h-0.7zM367.4 220.5h0.7v0.7h-0.7zM371.3 210.9h0.7v0.7h-0.7zM365.1 207.2h0.7v0.7h-0.7zM350.9 218.2h0.7v0.7h-0.7zM366.7 215.4h0.7v0.7h-0.7zM363.1 217.9h0.7v0.7h-0.7zM369.4 206.5h0.7v0.7h-0.7zM352.2 205.5h0.7v0.7h-0.7zM370.6 217.0h0.7v0.7h-0.7zM341.1 199.8h0.7v0.7h-0.7zM364.1 223.5h0.7v0.7h-0.7zM354.6 205.4h0.7v0.7h-0.7zM361.5 214.1h0.7v0.7h-0.7zM353.8 211.3h0.7v0.7h-0.7zM370.5 209.4h0.7v0.7h-0.7zM353.4 206.3h0.7v0.7h-0.7zM365.2 217.9h0.7v0.7h-0.7zM382.9 221.6h0.7v0.7h-0.7zM357.1 217.0h0.7v0.7h-0.7zM361.2 214.2h0.7v0.7h-0.7zM365.5 216.4h0.7v0.7h-0.7zM352.9 213.4h0.7v0.7h-0.7zM375.4 213.3h0.7v0.7h-0.7zM358.0 221.9h0.7v0.7h-0.7zM354.9 208.9h0.7v0.7h-0.7zM368.0 207.5h0.7v0.7h-0.7zM368.9 223.5h0.7v0.7h-0.7zM351.9 223.9h0.7v0.7h-0.7zM349.2 212.2h0.7v0.7h-0.7zM364.8 218.1h0.7v0.7h-0.7zM373.2 216.8h0.7v0.7h-0.7zM380.4 223.8h0.7v0.7h-0.7zM362.9 203.4h0.7v0.7h-0.7zM367.5 221.3h0.7v0.7h-0.7zM375.6 212.0h0.7v0.7h-0.7zM355.3 211.8h0.7v0.7h-0.7zM365.5 215.6h0.7v0.7h-0.7zM377.0 214.4h0.7v0.7h-0.7zM371.0 211.2h0.7v0.7h-0.7zM364.7 208.8h0.7v0.7h-0.7zM362.7 222.0h0.7v0.7h-0.7zM363.2 218.8h0.7v0.7h-0.7zM385.2 204.0h0.7v0.7h-0.7zM368.5 210.5h0.7v0.7h-0.7zM370.2 217.3h0.7v0.7h-0.7zM351.7 221.0h0.7v0.7h-0.7zM386.7 224.9h0.7v0.7h-0.7zM363.7 207.9h0.7v0.7h-0.7zM344.1 221.4h0.7v0.7h-0.7zM373.9 215.8h0.7v0.7h-0.7zM356.7 202.7h0.7v0.7h-0.7zM351.1 207.1h0.7v0.7h-0.7zM346.8 206.8h0.7v0.7h-0.7zM342.7 203.4h0.7v0.7h-0.7zM366.1 215.9h0.7v0.7h-0.7zM357.9 209.2h0.7v0.7h-0.7zM370.0 215.9h0.7v0.7h-0.7zM362.9 203.2h0.7v0.7h-0.7zM367.0 220.1h0.7v0.7h-0.7zM374.9 215.8h0.7v0.7h-0.7zM367.2 217.9h0.7v0.7h-0.7zM366.6 214.2h0.7v0.7h-0.7zM364.2 212.0h0.7v0.7h-0.7zM359.4 206.5h0.7v0.7h-0.7zM387.3 223.1h0.7v0.7h-0.7zM371.7 205.5h0.7v0.7h-0.7zM367.6 212.6h0.7v0.7h-0.7zM360.5 204.6h0.7v0.7h-0.7zM363.8 204.1h0.7v0.7h-0.7zM377.0 215.9h0.7v0.7h-0.7zM373.9 220.6h0.7v0.7h-0.7zM366.7 211.9h0.7v0.7h-0.7zM355.6 218.1h0.7v0.7h-0.7zM372.9 219.6h0.7v0.7h-0.7zM350.8 213.1h0.7v0.7h-0.7zM359.1 217.7h0.7v0.7h-0.7zM366.8 208.9h0.7v0.7h-0.7zM340.0 205.8h0.7v0.7h-0.7zM349.3 206.7h0.7v0.7h-0.7zM351.9 198.2h0.7v0.7h-0.7zM364.5 202.6h0.7v0.7h-0.7zM355.1 217.3h0.7v0.7h-0.7zM382.6 221.2h0.7v0.7h-0.7zM352.7 202.4h0.7v0.7h-0.7zM375.1 216.1h0.7v0.7h-0.7zM361.6 217.6h0.7v0.7h-0.7zM360.3 215.8h0.7v0.7h-0.7zM374.3 212.1h0.7v0.7h-0.7zM362.9 212.3h0.7v0.7h-0.7zM374.0 216.0h0.7v0.7h-0.7zM367.5 207.8h0.7v0.7h-0.7zM357.6 217.3h0.7v0.7h-0.7zM358.1 206.8h0.7v0.7h-0.7zM363.9 200.8h0.7v0.7h-0.7zM381.7 222.9h0.7v0.7h-0.7zM353.0 203.6h0.7v0.7h-0.7zM363.6 206.7h0.7v0.7h-0.7zM382.2 201.7h0.7v0.7h-0.7zM379.5 198.1h0.7v0.7h-0.7zM364.0 204.5h0.7v0.7h-0.7zM369.2 222.1h0.7v0.7h-0.7zM374.7 215.8h0.7v0.7h-0.7zM368.7 210.6h0.7v0.7h-0.7zM386.0 197.6h0.7v0.7h-0.7zM378.2 218.5h0.7v0.7h-0.7zM362.3 212.1h0.7v0.7h-0.7zM363.9 219.7h0.7v0.7h-0.7zM386.4 212.2h0.7v0.7h-0.7zM352.9 203.0h0.7v0.7h-0.7zM370.7 202.7h0.7v0.7h-0.7zM378.2 217.6h0.7v0.7h-0.7zM368.1 207.5h0.7v0.7h-0.7zM340.5 205.7h0.7v0.7h-0.7zM372.5 210.7h0.7v0.7h-0.7zM360.2 208.3h0.7v0.7h-0.7zM377.1 208.1h0.7v0.7h-0.7zM352.4 218.3h0.7v0.7h-0.7zM374.1 211.7h0.7v0.7h-0.7zM375.0 229.6h0.7v0.7h-0.7zM370.4 204.0h0.7v0.7h-0.7zM367.8 208.6h0.7v0.7h-0.7zM359.2 220.9h0.7v0.7h-0.7zM369.8 211.4h0.7v0.7h-0.7zM380.8 217.0h0.7v0.7h-0.7zM367.5 211.4h0.7v0.7h-0.7zM369.3 211.0h0.7v0.7h-0.7zM368.4 220.8h0.7v0.7h-0.7zM361.8 209.4h0.7v0.7h-0.7zM364.6 213.2h0.7v0.7h-0.7zM350.8 213.8h0.7v0.7h-0.7zM365.6 201.2h0.7v0.7h-0.7zM371.6 203.9h0.7v0.7h-0.7zM358.1 207.8h0.7v0.7h-0.7zM378.1 197.1h0.7v0.7h-0.7zM362.5 215.7h0.7v0.7h-0.7zM367.4 214.0h0.7v0.7h-0.7zM362.8 209.9h0.7v0.7h-0.7zM353.8 211.5h0.7v0.7h-0.7zM357.1 201.1h0.7v0.7h-0.7zM365.1 210.9h0.7v0.7h-0.7zM370.0 219.4h0.7v0.7h-0.7zM374.0 200.5h0.7v0.7h-0.7zM358.6 215.1h0.7v0.7h-0.7z" fill="#a8409a" fill-opacity="0.6"/>
<path d="M368,240 C374,236 380,236 381,245 C382,256 382,266 374,268 C368,268 367,262 367,254 Z" fill="#f07070" fill-opacity="0.35"/>
<path d="M348.20,254.00 C350.00,244.00 364.00,235.00 375.00,234.60 C380.00,234.50 381.20,240.00 381.20,250.00 C381.20,262.00 380.00,268.50 372.00,268.50 C362.00,268.50 347.00,264.00 348.20,254.00 Z" fill="none" stroke="#c83a3a" stroke-width="0.75" stroke-opacity="1.0"/>
<path d="M353.76,254.40 C355.20,246.40 366.40,239.20 375.20,238.88 C379.20,238.80 380.16,243.20 380.16,251.20 C380.16,260.80 379.20,266.00 372.80,266.00 C364.80,266.00 352.80,262.40 353.76,254.40 Z" fill="none" stroke="#c83a3a" stroke-width="0.75" stroke-opacity="1.0"/>
<path d="M358.76,254.76 C359.88,248.56 368.56,242.98 375.38,242.73 C378.48,242.67 379.22,246.08 379.22,252.28 C379.22,259.72 378.48,263.75 373.52,263.75 C367.32,263.75 358.02,260.96 358.76,254.76 Z" fill="none" stroke="#c83a3a" stroke-width="0.75" stroke-opacity="1.0"/>
<path d="M363.21,255.08 C364.04,250.48 370.48,246.34 375.54,246.16 C377.84,246.11 378.39,248.64 378.39,253.24 C378.39,258.76 377.84,261.75 374.16,261.75 C369.56,261.75 362.66,259.68 363.21,255.08 Z" fill="none" stroke="#c83a3a" stroke-width="0.75" stroke-opacity="1.0"/>
<path d="M367.10,255.36 C367.68,252.16 372.16,249.28 375.68,249.15 C377.28,249.12 377.66,250.88 377.66,254.08 C377.66,257.92 377.28,260.00 374.72,260.00 C371.52,260.00 366.72,258.56 367.10,255.36 Z" fill="none" stroke="#c83a3a" stroke-width="0.75" stroke-opacity="1.0"/>
<path d="M371.00,255.64 C371.32,253.84 373.84,252.22 375.82,252.15 C376.72,252.13 376.94,253.12 376.94,254.92 C376.94,257.08 376.72,258.25 375.28,258.25 C373.48,258.25 370.78,257.44 371.00,255.64 Z" fill="none" stroke="#c83a3a" stroke-width="0.75" stroke-opacity="1.0"/>
<path d="M314.60,255.50 C322.00,249.00 336.00,248.50 342.00,250.50 C346.00,252.50 346.00,259.00 342.00,260.50 C336.00,262.00 322.00,261.50 314.60,255.50 Z" fill="none" stroke="#c83a3a" stroke-width="0.75" stroke-opacity="1.0"/>
<path d="M319.20,255.57 C324.75,250.70 335.25,250.32 339.75,251.82 C342.75,253.32 342.75,258.20 339.75,259.32 C335.25,260.45 324.75,260.07 319.20,255.57 Z" fill="none" stroke="#c83a3a" stroke-width="0.75" stroke-opacity="1.0"/>
<path d="M323.80,255.65 C327.50,252.40 334.50,252.15 337.50,253.15 C339.50,254.15 339.50,257.40 337.50,258.15 C334.50,258.90 327.50,258.65 323.80,255.65 Z" fill="none" stroke="#c83a3a" stroke-width="0.75" stroke-opacity="1.0"/>
<path d="M327.85,255.72 C329.92,253.90 333.84,253.76 335.52,254.32 C336.64,254.88 336.64,256.70 335.52,257.12 C333.84,257.54 329.92,257.40 327.85,255.72 Z" fill="none" stroke="#c83a3a" stroke-width="0.75" stroke-opacity="1.0"/>
<path d="M353,229.5 C347.5,227 345.5,220 349.5,213.5 C353.5,206.5 361,203 369,202.5 C376.5,202 381.5,205.5 381,211.5 C380.5,218 375,221.5 368,222.3 C361,223 357.5,224.5 356.5,228.5 Z" fill="none" stroke="#a04a9a" stroke-width="0.6"/>
<path d="M351.5,222 C351,215 356,208.5 363,206.5" fill="none" stroke="#a04a9a" stroke-width="0.5"/>
<ellipse cx="366.8" cy="211.8" rx="11.3" ry="7.6" transform="rotate(-12 366.8 211.8)" fill="#b44a9c" fill-opacity="0.42" stroke="#8e3088" stroke-width="0.8"/>
<ellipse cx="366.5" cy="212" rx="8.8" ry="5.6" transform="rotate(-12 366.5 212)" fill="#a83a92" fill-opacity="0.35" stroke="#8e3088" stroke-width="0.6"/>
<ellipse cx="361.5" cy="212.5" rx="2.7" ry="2.4" fill="#ecc4e2" stroke="#9a3a8e" stroke-width="0.6"/>
<ellipse cx="369.3" cy="211.4" rx="2.5" ry="2.2" fill="#e8bede" stroke="#9a3a8e" stroke-width="0.6"/>
<path d="M372,238 C377,236 381.5,238 381.5,248 C381.5,258 381.5,266 376,268 C372,268 371,262 371,252 C371,245 371,240 372,238 Z" fill="#e23c3c" fill-opacity="0.4"/>
<ellipse cx="373.5" cy="256" rx="1.8" ry="2.8" fill="#ffffff" fill-opacity="0.8" stroke="#c83a3a" stroke-width="0.5"/>
<ellipse cx="332" cy="256" rx="2.2" ry="1.2" fill="#ffffff" fill-opacity="0.85"/>
<path d="M462.4 262.2h0.8v0.8h-0.8zM425.7 258.1h0.8v0.8h-0.8zM471.3 260.1h0.8v0.8h-0.8zM466.7 239.1h0.8v0.8h-0.8zM434.6 258.8h0.8v0.8h-0.8zM466.7 271.3h0.8v0.8h-0.8zM467.9 253.7h0.8v0.8h-0.8zM461.0 241.2h0.8v0.8h-0.8zM469.7 269.8h0.8v0.8h-0.8zM438.9 259.7h0.8v0.8h-0.8zM464.4 245.8h0.8v0.8h-0.8zM422.7 259.3h0.8v0.8h-0.8zM438.1 273.1h0.8v0.8h-0.8zM467.7 246.6h0.8v0.8h-0.8zM431.9 264.4h0.8v0.8h-0.8zM445.7 260.2h0.8v0.8h-0.8zM469.2 247.1h0.8v0.8h-0.8zM449.3 245.7h0.8v0.8h-0.8zM483.0 269.0h0.8v0.8h-0.8zM444.2 251.4h0.8v0.8h-0.8zM465.2 254.3h0.8v0.8h-0.8zM445.9 259.0h0.8v0.8h-0.8zM463.6 254.1h0.8v0.8h-0.8zM476.8 202.8h0.8v0.8h-0.8zM472.7 248.4h0.8v0.8h-0.8zM427.8 254.8h0.8v0.8h-0.8zM458.5 261.3h0.8v0.8h-0.8zM428.3 258.3h0.8v0.8h-0.8zM425.2 254.2h0.8v0.8h-0.8zM472.0 245.6h0.8v0.8h-0.8zM468.7 262.0h0.8v0.8h-0.8zM464.8 245.4h0.8v0.8h-0.8zM461.1 260.7h0.8v0.8h-0.8zM441.6 255.7h0.8v0.8h-0.8zM467.2 256.7h0.8v0.8h-0.8zM467.7 252.5h0.8v0.8h-0.8zM476.5 246.0h0.8v0.8h-0.8zM468.1 244.7h0.8v0.8h-0.8zM465.8 258.7h0.8v0.8h-0.8zM479.2 249.0h0.8v0.8h-0.8zM480.7 226.5h0.8v0.8h-0.8zM476.2 245.5h0.8v0.8h-0.8zM481.5 267.1h0.8v0.8h-0.8zM476.2 260.1h0.8v0.8h-0.8zM476.3 257.1h0.8v0.8h-0.8zM465.6 252.9h0.8v0.8h-0.8zM468.6 263.0h0.8v0.8h-0.8zM483.6 248.5h0.8v0.8h-0.8zM442.9 258.5h0.8v0.8h-0.8zM486.4 225.6h0.8v0.8h-0.8zM471.4 258.5h0.8v0.8h-0.8zM479.2 270.4h0.8v0.8h-0.8zM469.2 260.1h0.8v0.8h-0.8zM480.8 237.7h0.8v0.8h-0.8zM455.7 257.8h0.8v0.8h-0.8zM470.0 250.5h0.8v0.8h-0.8zM474.6 267.0h0.8v0.8h-0.8zM476.3 228.3h0.8v0.8h-0.8zM479.2 225.7h0.8v0.8h-0.8zM470.6 239.7h0.8v0.8h-0.8zM436.5 251.7h0.8v0.8h-0.8zM459.2 265.6h0.8v0.8h-0.8zM441.3 257.1h0.8v0.8h-0.8zM463.8 259.3h0.8v0.8h-0.8zM459.1 234.1h0.8v0.8h-0.8zM431.0 245.0h0.8v0.8h-0.8zM462.5 252.3h0.8v0.8h-0.8zM422.4 258.8h0.8v0.8h-0.8zM476.6 260.9h0.8v0.8h-0.8zM466.6 256.9h0.8v0.8h-0.8zM452.7 249.4h0.8v0.8h-0.8zM468.5 245.1h0.8v0.8h-0.8zM466.1 253.7h0.8v0.8h-0.8zM465.0 248.8h0.8v0.8h-0.8zM452.6 261.4h0.8v0.8h-0.8zM451.8 266.1h0.8v0.8h-0.8zM474.2 262.5h0.8v0.8h-0.8zM467.2 241.4h0.8v0.8h-0.8zM473.9 261.9h0.8v0.8h-0.8zM474.0 226.9h0.8v0.8h-0.8zM465.4 242.5h0.8v0.8h-0.8zM452.8 260.3h0.8v0.8h-0.8zM432.2 251.0h0.8v0.8h-0.8zM449.0 263.5h0.8v0.8h-0.8zM470.6 259.6h0.8v0.8h-0.8zM464.0 258.5h0.8v0.8h-0.8zM471.1 257.5h0.8v0.8h-0.8zM435.1 267.0h0.8v0.8h-0.8zM466.8 263.5h0.8v0.8h-0.8zM474.5 231.2h0.8v0.8h-0.8zM462.3 272.0h0.8v0.8h-0.8zM431.7 253.9h0.8v0.8h-0.8zM460.2 250.2h0.8v0.8h-0.8zM453.4 265.0h0.8v0.8h-0.8zM472.2 266.9h0.8v0.8h-0.8zM423.6 262.1h0.8v0.8h-0.8zM447.0 260.6h0.8v0.8h-0.8zM470.0 224.8h0.8v0.8h-0.8zM482.3 249.2h0.8v0.8h-0.8zM453.8 263.2h0.8v0.8h-0.8zM471.1 273.5h0.8v0.8h-0.8zM459.7 249.3h0.8v0.8h-0.8zM457.1 261.4h0.8v0.8h-0.8zM463.8 240.8h0.8v0.8h-0.8zM468.3 261.2h0.8v0.8h-0.8zM436.8 252.3h0.8v0.8h-0.8zM461.1 238.1h0.8v0.8h-0.8zM459.5 245.1h0.8v0.8h-0.8zM451.4 256.9h0.8v0.8h-0.8zM428.3 255.3h0.8v0.8h-0.8zM469.0 259.6h0.8v0.8h-0.8zM467.9 251.6h0.8v0.8h-0.8zM465.7 257.3h0.8v0.8h-0.8zM443.3 252.4h0.8v0.8h-0.8zM471.3 261.4h0.8v0.8h-0.8zM470.1 222.4h0.8v0.8h-0.8zM446.7 257.6h0.8v0.8h-0.8zM441.4 257.5h0.8v0.8h-0.8zM476.9 235.7h0.8v0.8h-0.8zM465.7 261.6h0.8v0.8h-0.8zM448.2 258.7h0.8v0.8h-0.8zM465.5 268.8h0.8v0.8h-0.8zM464.8 245.3h0.8v0.8h-0.8zM470.5 253.6h0.8v0.8h-0.8zM479.4 264.3h0.8v0.8h-0.8zM470.8 268.3h0.8v0.8h-0.8zM465.9 259.4h0.8v0.8h-0.8zM475.3 251.6h0.8v0.8h-0.8zM461.8 260.8h0.8v0.8h-0.8zM441.5 254.7h0.8v0.8h-0.8zM475.1 255.8h0.8v0.8h-0.8zM444.0 259.6h0.8v0.8h-0.8zM480.7 267.7h0.8v0.8h-0.8zM474.5 224.3h0.8v0.8h-0.8zM449.2 259.9h0.8v0.8h-0.8zM458.5 266.9h0.8v0.8h-0.8zM436.3 252.4h0.8v0.8h-0.8zM476.6 247.4h0.8v0.8h-0.8zM458.8 257.1h0.8v0.8h-0.8zM480.1 230.9h0.8v0.8h-0.8zM476.6 262.7h0.8v0.8h-0.8zM470.5 254.9h0.8v0.8h-0.8zM465.6 258.9h0.8v0.8h-0.8zM459.0 262.3h0.8v0.8h-0.8zM474.9 228.6h0.8v0.8h-0.8zM469.4 245.6h0.8v0.8h-0.8zM458.9 253.4h0.8v0.8h-0.8zM440.3 258.1h0.8v0.8h-0.8zM468.4 252.1h0.8v0.8h-0.8zM439.9 249.7h0.8v0.8h-0.8zM475.7 230.0h0.8v0.8h-0.8zM475.3 253.5h0.8v0.8h-0.8zM491.3 268.1h0.8v0.8h-0.8zM479.7 230.9h0.8v0.8h-0.8zM470.3 257.5h0.8v0.8h-0.8zM481.6 246.3h0.8v0.8h-0.8zM474.1 270.6h0.8v0.8h-0.8zM485.5 262.6h0.8v0.8h-0.8zM444.3 246.9h0.8v0.8h-0.8zM471.8 270.3h0.8v0.8h-0.8zM461.0 250.5h0.8v0.8h-0.8zM474.9 259.6h0.8v0.8h-0.8zM475.3 248.7h0.8v0.8h-0.8zM436.5 249.8h0.8v0.8h-0.8zM464.3 236.3h0.8v0.8h-0.8zM452.1 250.0h0.8v0.8h-0.8zM424.7 253.8h0.8v0.8h-0.8zM473.8 230.4h0.8v0.8h-0.8zM476.5 225.3h0.8v0.8h-0.8zM470.8 225.0h0.8v0.8h-0.8zM435.8 265.5h0.8v0.8h-0.8zM447.7 253.6h0.8v0.8h-0.8zM465.4 266.9h0.8v0.8h-0.8zM457.1 255.0h0.8v0.8h-0.8zM486.6 256.8h0.8v0.8h-0.8zM482.9 252.1h0.8v0.8h-0.8zM460.5 262.0h0.8v0.8h-0.8zM459.1 251.5h0.8v0.8h-0.8zM425.4 262.9h0.8v0.8h-0.8zM428.5 253.2h0.8v0.8h-0.8zM463.9 242.2h0.8v0.8h-0.8zM458.7 253.4h0.8v0.8h-0.8zM472.8 230.8h0.8v0.8h-0.8zM472.5 252.5h0.8v0.8h-0.8zM471.3 252.6h0.8v0.8h-0.8zM467.9 259.8h0.8v0.8h-0.8zM474.8 273.7h0.8v0.8h-0.8zM476.3 243.5h0.8v0.8h-0.8zM438.4 258.0h0.8v0.8h-0.8zM480.7 263.4h0.8v0.8h-0.8zM460.7 259.5h0.8v0.8h-0.8zM469.8 247.4h0.8v0.8h-0.8zM463.3 253.5h0.8v0.8h-0.8zM459.6 268.2h0.8v0.8h-0.8zM443.9 256.0h0.8v0.8h-0.8zM439.2 259.7h0.8v0.8h-0.8zM448.4 250.6h0.8v0.8h-0.8zM436.2 262.7h0.8v0.8h-0.8zM432.6 257.0h0.8v0.8h-0.8zM473.3 262.0h0.8v0.8h-0.8zM457.6 249.6h0.8v0.8h-0.8zM467.6 247.7h0.8v0.8h-0.8zM470.8 244.9h0.8v0.8h-0.8zM463.6 257.7h0.8v0.8h-0.8zM468.7 238.1h0.8v0.8h-0.8zM464.1 251.8h0.8v0.8h-0.8zM466.6 258.8h0.8v0.8h-0.8zM436.2 249.7h0.8v0.8h-0.8zM471.3 248.5h0.8v0.8h-0.8zM470.7 247.7h0.8v0.8h-0.8zM432.6 255.1h0.8v0.8h-0.8zM435.2 261.4h0.8v0.8h-0.8zM430.2 248.9h0.8v0.8h-0.8zM470.4 256.1h0.8v0.8h-0.8zM469.4 272.3h0.8v0.8h-0.8zM454.8 255.4h0.8v0.8h-0.8zM466.1 249.3h0.8v0.8h-0.8zM422.7 264.3h0.8v0.8h-0.8zM461.6 266.4h0.8v0.8h-0.8zM466.5 261.0h0.8v0.8h-0.8zM454.2 251.2h0.8v0.8h-0.8zM452.9 255.3h0.8v0.8h-0.8zM421.8 250.9h0.8v0.8h-0.8zM438.2 267.8h0.8v0.8h-0.8zM475.4 225.2h0.8v0.8h-0.8zM468.8 265.0h0.8v0.8h-0.8zM475.0 248.8h0.8v0.8h-0.8zM474.7 242.8h0.8v0.8h-0.8zM432.1 263.8h0.8v0.8h-0.8zM432.4 262.4h0.8v0.8h-0.8zM474.9 233.2h0.8v0.8h-0.8zM458.2 250.2h0.8v0.8h-0.8zM463.0 239.7h0.8v0.8h-0.8zM467.0 261.1h0.8v0.8h-0.8zM453.6 266.4h0.8v0.8h-0.8zM426.4 250.1h0.8v0.8h-0.8zM433.0 252.1h0.8v0.8h-0.8zM464.7 232.1h0.8v0.8h-0.8zM465.2 239.8h0.8v0.8h-0.8zM465.7 236.4h0.8v0.8h-0.8zM461.9 260.5h0.8v0.8h-0.8zM463.5 246.5h0.8v0.8h-0.8zM469.9 254.6h0.8v0.8h-0.8zM467.2 248.9h0.8v0.8h-0.8zM441.9 256.3h0.8v0.8h-0.8zM469.8 256.3h0.8v0.8h-0.8zM465.7 251.7h0.8v0.8h-0.8zM421.1 249.1h0.8v0.8h-0.8zM468.9 266.3h0.8v0.8h-0.8zM467.8 268.1h0.8v0.8h-0.8zM471.9 254.8h0.8v0.8h-0.8zM458.8 253.2h0.8v0.8h-0.8zM436.7 256.0h0.8v0.8h-0.8zM440.2 256.4h0.8v0.8h-0.8zM466.8 269.5h0.8v0.8h-0.8zM441.0 254.1h0.8v0.8h-0.8zM459.6 251.8h0.8v0.8h-0.8zM465.3 269.1h0.8v0.8h-0.8zM480.7 258.3h0.8v0.8h-0.8zM462.7 242.3h0.8v0.8h-0.8zM458.6 256.8h0.8v0.8h-0.8zM470.1 263.3h0.8v0.8h-0.8zM440.9 257.0h0.8v0.8h-0.8zM430.2 248.9h0.8v0.8h-0.8zM463.5 252.1h0.8v0.8h-0.8zM470.9 260.5h0.8v0.8h-0.8zM473.4 256.7h0.8v0.8h-0.8zM470.1 227.7h0.8v0.8h-0.8zM482.6 250.6h0.8v0.8h-0.8zM449.5 261.2h0.8v0.8h-0.8zM473.3 236.2h0.8v0.8h-0.8zM466.2 252.9h0.8v0.8h-0.8zM478.5 256.8h0.8v0.8h-0.8zM472.6 249.9h0.8v0.8h-0.8zM466.8 259.4h0.8v0.8h-0.8zM470.2 236.5h0.8v0.8h-0.8zM466.9 268.0h0.8v0.8h-0.8zM435.6 261.5h0.8v0.8h-0.8zM474.1 265.2h0.8v0.8h-0.8zM450.8 255.9h0.8v0.8h-0.8zM468.8 254.7h0.8v0.8h-0.8zM448.7 250.6h0.8v0.8h-0.8zM465.2 240.2h0.8v0.8h-0.8zM432.3 256.3h0.8v0.8h-0.8zM456.7 250.4h0.8v0.8h-0.8zM477.5 264.6h0.8v0.8h-0.8zM475.1 244.2h0.8v0.8h-0.8zM453.9 233.6h0.8v0.8h-0.8zM478.2 261.9h0.8v0.8h-0.8zM465.0 271.5h0.8v0.8h-0.8zM434.1 254.2h0.8v0.8h-0.8zM461.6 265.0h0.8v0.8h-0.8zM442.0 260.6h0.8v0.8h-0.8zM472.0 262.2h0.8v0.8h-0.8zM447.9 257.4h0.8v0.8h-0.8zM466.1 255.4h0.8v0.8h-0.8zM431.0 258.4h0.8v0.8h-0.8zM458.9 262.6h0.8v0.8h-0.8zM466.3 269.1h0.8v0.8h-0.8zM482.4 265.6h0.8v0.8h-0.8zM480.9 260.7h0.8v0.8h-0.8zM481.0 267.6h0.8v0.8h-0.8zM472.5 230.8h0.8v0.8h-0.8zM475.9 225.2h0.8v0.8h-0.8zM462.7 248.8h0.8v0.8h-0.8zM474.3 222.5h0.8v0.8h-0.8zM422.6 257.3h0.8v0.8h-0.8zM465.8 246.3h0.8v0.8h-0.8zM477.5 265.2h0.8v0.8h-0.8zM470.0 239.5h0.8v0.8h-0.8zM424.1 262.2h0.8v0.8h-0.8zM469.2 236.1h0.8v0.8h-0.8zM480.9 268.1h0.8v0.8h-0.8zM464.9 251.9h0.8v0.8h-0.8zM444.2 249.8h0.8v0.8h-0.8zM483.1 250.5h0.8v0.8h-0.8zM463.9 259.8h0.8v0.8h-0.8zM483.2 264.6h0.8v0.8h-0.8zM476.2 259.0h0.8v0.8h-0.8zM438.9 243.2h0.8v0.8h-0.8zM434.1 252.8h0.8v0.8h-0.8zM469.2 255.1h0.8v0.8h-0.8zM470.7 248.9h0.8v0.8h-0.8zM465.5 268.0h0.8v0.8h-0.8zM467.0 260.1h0.8v0.8h-0.8zM456.1 259.9h0.8v0.8h-0.8zM474.2 248.3h0.8v0.8h-0.8zM468.5 255.8h0.8v0.8h-0.8zM468.1 247.4h0.8v0.8h-0.8zM432.8 250.9h0.8v0.8h-0.8zM444.4 262.1h0.8v0.8h-0.8zM478.9 248.0h0.8v0.8h-0.8zM461.4 259.6h0.8v0.8h-0.8zM461.4 248.2h0.8v0.8h-0.8zM440.3 262.3h0.8v0.8h-0.8zM466.4 243.9h0.8v0.8h-0.8zM463.5 265.6h0.8v0.8h-0.8zM465.3 235.0h0.8v0.8h-0.8zM475.8 246.7h0.8v0.8h-0.8zM449.6 259.2h0.8v0.8h-0.8zM452.5 252.0h0.8v0.8h-0.8zM473.3 244.2h0.8v0.8h-0.8zM463.1 243.4h0.8v0.8h-0.8zM453.7 255.8h0.8v0.8h-0.8zM441.0 250.8h0.8v0.8h-0.8zM438.3 266.5h0.8v0.8h-0.8zM467.1 261.3h0.8v0.8h-0.8zM474.3 255.0h0.8v0.8h-0.8zM431.3 259.1h0.8v0.8h-0.8zM473.7 246.8h0.8v0.8h-0.8zM430.7 253.9h0.8v0.8h-0.8zM422.9 263.1h0.8v0.8h-0.8zM430.7 266.3h0.8v0.8h-0.8zM486.7 243.2h0.8v0.8h-0.8zM478.2 250.6h0.8v0.8h-0.8zM429.1 262.0h0.8v0.8h-0.8zM470.2 249.3h0.8v0.8h-0.8zM429.7 251.8h0.8v0.8h-0.8zM475.6 239.5h0.8v0.8h-0.8zM476.3 263.7h0.8v0.8h-0.8zM474.8 240.4h0.8v0.8h-0.8zM435.0 259.7h0.8v0.8h-0.8zM476.8 239.3h0.8v0.8h-0.8zM436.8 249.1h0.8v0.8h-0.8zM465.7 267.6h0.8v0.8h-0.8zM464.4 241.7h0.8v0.8h-0.8zM468.1 262.2h0.8v0.8h-0.8zM459.3 246.8h0.8v0.8h-0.8zM483.1 262.9h0.8v0.8h-0.8zM470.5 251.1h0.8v0.8h-0.8zM431.2 256.3h0.8v0.8h-0.8zM460.2 263.2h0.8v0.8h-0.8zM468.5 238.9h0.8v0.8h-0.8zM459.9 252.6h0.8v0.8h-0.8zM448.3 266.7h0.8v0.8h-0.8zM440.5 249.2h0.8v0.8h-0.8zM452.7 257.1h0.8v0.8h-0.8zM479.9 266.3h0.8v0.8h-0.8zM463.3 260.1h0.8v0.8h-0.8zM467.0 267.2h0.8v0.8h-0.8zM469.7 256.7h0.8v0.8h-0.8zM483.3 259.0h0.8v0.8h-0.8zM467.3 236.6h0.8v0.8h-0.8zM467.7 268.7h0.8v0.8h-0.8zM464.4 253.7h0.8v0.8h-0.8zM476.0 256.2h0.8v0.8h-0.8zM470.4 256.0h0.8v0.8h-0.8zM466.4 250.4h0.8v0.8h-0.8zM469.4 269.6h0.8v0.8h-0.8zM450.6 258.9h0.8v0.8h-0.8zM468.1 256.2h0.8v0.8h-0.8zM469.1 243.6h0.8v0.8h-0.8zM474.1 260.6h0.8v0.8h-0.8zM465.2 258.5h0.8v0.8h-0.8zM444.1 269.0h0.8v0.8h-0.8zM459.0 257.1h0.8v0.8h-0.8zM464.8 250.8h0.8v0.8h-0.8zM478.3 258.0h0.8v0.8h-0.8zM482.4 243.0h0.8v0.8h-0.8zM442.6 247.6h0.8v0.8h-0.8zM465.7 256.9h0.8v0.8h-0.8zM468.8 258.5h0.8v0.8h-0.8zM474.7 270.2h0.8v0.8h-0.8zM474.3 232.7h0.8v0.8h-0.8zM473.8 264.9h0.8v0.8h-0.8zM471.8 253.0h0.8v0.8h-0.8zM468.6 231.8h0.8v0.8h-0.8zM456.0 253.1h0.8v0.8h-0.8zM468.8 257.6h0.8v0.8h-0.8zM472.0 252.0h0.8v0.8h-0.8zM471.8 251.6h0.8v0.8h-0.8zM464.5 263.2h0.8v0.8h-0.8zM470.6 253.4h0.8v0.8h-0.8zM468.0 269.3h0.8v0.8h-0.8zM469.5 248.3h0.8v0.8h-0.8zM478.5 239.4h0.8v0.8h-0.8zM465.0 254.9h0.8v0.8h-0.8zM470.2 260.6h0.8v0.8h-0.8zM471.6 251.6h0.8v0.8h-0.8zM467.2 248.2h0.8v0.8h-0.8zM431.6 257.2h0.8v0.8h-0.8zM476.2 263.1h0.8v0.8h-0.8zM467.9 257.3h0.8v0.8h-0.8zM471.2 257.5h0.8v0.8h-0.8zM450.2 253.0h0.8v0.8h-0.8zM439.7 259.1h0.8v0.8h-0.8zM453.5 261.6h0.8v0.8h-0.8zM467.3 238.0h0.8v0.8h-0.8zM475.4 271.2h0.8v0.8h-0.8zM437.1 254.3h0.8v0.8h-0.8zM458.8 254.4h0.8v0.8h-0.8zM432.3 255.4h0.8v0.8h-0.8zM478.6 260.7h0.8v0.8h-0.8zM418.7 255.2h0.8v0.8h-0.8zM427.8 258.0h0.8v0.8h-0.8zM465.1 250.0h0.8v0.8h-0.8zM461.3 248.5h0.8v0.8h-0.8zM477.9 255.6h0.8v0.8h-0.8zM463.2 241.4h0.8v0.8h-0.8zM476.2 233.9h0.8v0.8h-0.8zM472.7 260.1h0.8v0.8h-0.8zM470.0 243.1h0.8v0.8h-0.8zM473.1 258.1h0.8v0.8h-0.8zM477.7 267.0h0.8v0.8h-0.8zM468.8 263.6h0.8v0.8h-0.8zM464.4 240.5h0.8v0.8h-0.8zM470.1 254.5h0.8v0.8h-0.8zM465.4 256.8h0.8v0.8h-0.8zM463.8 251.4h0.8v0.8h-0.8zM470.3 252.3h0.8v0.8h-0.8zM465.2 269.7h0.8v0.8h-0.8zM458.5 244.2h0.8v0.8h-0.8zM471.4 264.3h0.8v0.8h-0.8zM463.7 261.9h0.8v0.8h-0.8zM483.0 245.3h0.8v0.8h-0.8zM474.4 252.2h0.8v0.8h-0.8zM460.4 255.8h0.8v0.8h-0.8zM454.8 266.4h0.8v0.8h-0.8zM477.2 208.0h0.8v0.8h-0.8zM463.4 265.9h0.8v0.8h-0.8zM469.6 235.5h0.8v0.8h-0.8zM467.2 249.9h0.8v0.8h-0.8zM468.1 219.0h0.8v0.8h-0.8zM463.4 270.4h0.8v0.8h-0.8zM443.5 270.1h0.8v0.8h-0.8zM441.9 254.2h0.8v0.8h-0.8zM470.9 260.3h0.8v0.8h-0.8zM477.3 234.7h0.8v0.8h-0.8zM469.9 256.3h0.8v0.8h-0.8zM467.8 251.5h0.8v0.8h-0.8zM465.8 256.6h0.8v0.8h-0.8zM436.1 250.5h0.8v0.8h-0.8zM468.2 259.1h0.8v0.8h-0.8zM456.3 255.2h0.8v0.8h-0.8zM420.8 255.3h0.8v0.8h-0.8zM476.9 254.9h0.8v0.8h-0.8zM469.4 251.4h0.8v0.8h-0.8zM470.2 255.6h0.8v0.8h-0.8zM440.4 260.5h0.8v0.8h-0.8zM440.9 258.7h0.8v0.8h-0.8zM464.5 242.8h0.8v0.8h-0.8zM461.6 258.9h0.8v0.8h-0.8zM467.6 246.0h0.8v0.8h-0.8zM480.3 258.5h0.8v0.8h-0.8zM448.9 261.1h0.8v0.8h-0.8zM466.9 258.6h0.8v0.8h-0.8zM425.6 262.8h0.8v0.8h-0.8zM477.4 252.8h0.8v0.8h-0.8zM471.8 272.5h0.8v0.8h-0.8zM468.8 265.6h0.8v0.8h-0.8zM468.1 256.2h0.8v0.8h-0.8zM472.4 249.8h0.8v0.8h-0.8zM468.2 268.0h0.8v0.8h-0.8zM469.5 257.1h0.8v0.8h-0.8zM471.5 242.8h0.8v0.8h-0.8zM424.8 253.5h0.8v0.8h-0.8zM484.1 240.9h0.8v0.8h-0.8zM471.9 255.0h0.8v0.8h-0.8zM481.0 248.4h0.8v0.8h-0.8zM473.3 243.7h0.8v0.8h-0.8zM450.1 261.8h0.8v0.8h-0.8zM464.6 250.8h0.8v0.8h-0.8zM463.3 269.5h0.8v0.8h-0.8zM473.1 259.8h0.8v0.8h-0.8zM469.9 252.4h0.8v0.8h-0.8zM438.2 250.2h0.8v0.8h-0.8zM459.0 243.1h0.8v0.8h-0.8zM472.5 251.4h0.8v0.8h-0.8zM469.6 256.6h0.8v0.8h-0.8zM465.8 227.3h0.8v0.8h-0.8zM463.9 257.3h0.8v0.8h-0.8zM473.0 246.4h0.8v0.8h-0.8zM481.9 244.3h0.8v0.8h-0.8zM470.1 243.5h0.8v0.8h-0.8zM475.8 249.7h0.8v0.8h-0.8zM437.0 257.8h0.8v0.8h-0.8zM469.7 248.5h0.8v0.8h-0.8zM418.3 259.8h0.8v0.8h-0.8zM439.9 255.4h0.8v0.8h-0.8zM421.3 252.1h0.8v0.8h-0.8zM481.9 269.6h0.8v0.8h-0.8zM466.0 268.3h0.8v0.8h-0.8zM476.4 246.0h0.8v0.8h-0.8zM471.2 254.5h0.8v0.8h-0.8zM480.4 256.6h0.8v0.8h-0.8zM467.2 251.8h0.8v0.8h-0.8zM471.4 252.0h0.8v0.8h-0.8zM475.2 269.8h0.8v0.8h-0.8zM457.4 257.7h0.8v0.8h-0.8zM469.8 268.2h0.8v0.8h-0.8zM466.7 251.3h0.8v0.8h-0.8zM476.1 258.5h0.8v0.8h-0.8zM457.0 256.5h0.8v0.8h-0.8zM440.3 262.7h0.8v0.8h-0.8zM464.3 247.3h0.8v0.8h-0.8zM477.8 232.6h0.8v0.8h-0.8zM442.8 263.1h0.8v0.8h-0.8zM489.9 265.7h0.8v0.8h-0.8zM468.0 233.8h0.8v0.8h-0.8zM482.7 264.8h0.8v0.8h-0.8zM452.1 254.8h0.8v0.8h-0.8zM472.5 237.6h0.8v0.8h-0.8zM437.1 248.3h0.8v0.8h-0.8zM466.9 244.7h0.8v0.8h-0.8zM454.3 256.2h0.8v0.8h-0.8zM478.2 273.2h0.8v0.8h-0.8zM446.8 253.2h0.8v0.8h-0.8zM470.7 259.8h0.8v0.8h-0.8zM468.9 249.8h0.8v0.8h-0.8zM461.4 242.8h0.8v0.8h-0.8zM430.7 271.4h0.8v0.8h-0.8zM466.9 265.3h0.8v0.8h-0.8zM484.9 239.3h0.8v0.8h-0.8zM434.5 248.7h0.8v0.8h-0.8zM443.5 256.7h0.8v0.8h-0.8zM464.5 260.9h0.8v0.8h-0.8zM436.4 250.6h0.8v0.8h-0.8zM479.5 234.7h0.8v0.8h-0.8zM464.8 249.2h0.8v0.8h-0.8zM440.5 257.0h0.8v0.8h-0.8zM469.0 264.4h0.8v0.8h-0.8zM473.4 228.7h0.8v0.8h-0.8zM475.7 260.3h0.8v0.8h-0.8zM434.6 257.9h0.8v0.8h-0.8zM465.8 251.2h0.8v0.8h-0.8zM469.6 254.8h0.8v0.8h-0.8zM470.1 233.0h0.8v0.8h-0.8zM473.9 255.1h0.8v0.8h-0.8zM473.8 261.6h0.8v0.8h-0.8zM464.0 250.7h0.8v0.8h-0.8zM428.8 256.9h0.8v0.8h-0.8zM428.4 259.8h0.8v0.8h-0.8zM477.2 241.1h0.8v0.8h-0.8zM463.7 253.7h0.8v0.8h-0.8zM483.5 249.5h0.8v0.8h-0.8zM468.5 247.5h0.8v0.8h-0.8zM466.3 257.6h0.8v0.8h-0.8zM469.7 234.1h0.8v0.8h-0.8zM480.7 255.8h0.8v0.8h-0.8zM460.0 260.4h0.8v0.8h-0.8zM483.8 246.8h0.8v0.8h-0.8zM472.6 232.0h0.8v0.8h-0.8zM473.9 264.8h0.8v0.8h-0.8zM425.1 264.7h0.8v0.8h-0.8zM435.6 251.5h0.8v0.8h-0.8zM473.6 264.0h0.8v0.8h-0.8zM420.5 247.6h0.8v0.8h-0.8zM468.2 246.0h0.8v0.8h-0.8zM476.7 260.1h0.8v0.8h-0.8zM472.8 242.0h0.8v0.8h-0.8zM435.6 252.1h0.8v0.8h-0.8zM478.5 258.7h0.8v0.8h-0.8zM476.0 248.6h0.8v0.8h-0.8zM486.4 221.9h0.8v0.8h-0.8zM474.1 266.8h0.8v0.8h-0.8zM445.5 250.9h0.8v0.8h-0.8zM447.7 249.0h0.8v0.8h-0.8zM441.4 256.1h0.8v0.8h-0.8zM467.7 263.4h0.8v0.8h-0.8zM453.5 253.6h0.8v0.8h-0.8zM467.1 256.1h0.8v0.8h-0.8zM466.9 262.2h0.8v0.8h-0.8zM427.2 270.6h0.8v0.8h-0.8zM471.6 258.1h0.8v0.8h-0.8zM467.2 263.0h0.8v0.8h-0.8zM470.0 247.6h0.8v0.8h-0.8zM461.2 247.3h0.8v0.8h-0.8zM476.2 240.0h0.8v0.8h-0.8zM469.4 249.3h0.8v0.8h-0.8zM469.1 247.6h0.8v0.8h-0.8zM463.2 262.9h0.8v0.8h-0.8zM488.2 269.1h0.8v0.8h-0.8zM476.5 240.7h0.8v0.8h-0.8zM447.4 259.3h0.8v0.8h-0.8zM466.1 272.8h0.8v0.8h-0.8zM458.6 267.7h0.8v0.8h-0.8zM469.1 246.6h0.8v0.8h-0.8zM456.8 257.5h0.8v0.8h-0.8zM467.0 259.4h0.8v0.8h-0.8zM471.3 228.1h0.8v0.8h-0.8zM471.7 237.8h0.8v0.8h-0.8zM458.8 260.5h0.8v0.8h-0.8zM471.6 255.7h0.8v0.8h-0.8zM447.9 259.7h0.8v0.8h-0.8zM475.9 240.6h0.8v0.8h-0.8zM458.5 245.9h0.8v0.8h-0.8zM466.3 262.1h0.8v0.8h-0.8zM469.2 252.7h0.8v0.8h-0.8zM473.5 255.2h0.8v0.8h-0.8zM471.9 261.3h0.8v0.8h-0.8zM466.3 238.4h0.8v0.8h-0.8zM472.6 241.1h0.8v0.8h-0.8zM454.9 255.4h0.8v0.8h-0.8zM431.2 259.1h0.8v0.8h-0.8zM466.2 250.9h0.8v0.8h-0.8zM427.5 256.1h0.8v0.8h-0.8zM480.7 261.2h0.8v0.8h-0.8zM481.5 264.5h0.8v0.8h-0.8zM433.4 248.3h0.8v0.8h-0.8zM483.6 260.7h0.8v0.8h-0.8zM428.5 246.9h0.8v0.8h-0.8zM443.7 254.8h0.8v0.8h-0.8zM438.1 261.2h0.8v0.8h-0.8zM475.7 250.8h0.8v0.8h-0.8zM462.7 257.9h0.8v0.8h-0.8zM465.8 249.2h0.8v0.8h-0.8zM470.5 258.2h0.8v0.8h-0.8zM474.6 254.9h0.8v0.8h-0.8zM466.1 253.4h0.8v0.8h-0.8zM466.5 242.0h0.8v0.8h-0.8zM473.1 252.3h0.8v0.8h-0.8zM474.4 262.2h0.8v0.8h-0.8zM472.1 244.4h0.8v0.8h-0.8zM460.6 262.1h0.8v0.8h-0.8zM420.3 263.5h0.8v0.8h-0.8zM480.3 266.8h0.8v0.8h-0.8zM452.1 256.0h0.8v0.8h-0.8zM472.8 255.6h0.8v0.8h-0.8zM460.6 255.2h0.8v0.8h-0.8zM468.8 256.8h0.8v0.8h-0.8zM462.8 265.3h0.8v0.8h-0.8zM488.3 256.7h0.8v0.8h-0.8zM446.3 257.0h0.8v0.8h-0.8zM459.1 262.1h0.8v0.8h-0.8zM443.3 250.6h0.8v0.8h-0.8zM470.4 231.1h0.8v0.8h-0.8zM479.9 267.4h0.8v0.8h-0.8zM468.8 252.5h0.8v0.8h-0.8zM473.7 254.8h0.8v0.8h-0.8zM428.1 255.0h0.8v0.8h-0.8zM467.8 260.2h0.8v0.8h-0.8zM444.9 247.1h0.8v0.8h-0.8zM465.7 248.5h0.8v0.8h-0.8zM473.7 247.7h0.8v0.8h-0.8zM449.1 260.3h0.8v0.8h-0.8zM434.7 254.2h0.8v0.8h-0.8zM460.8 273.7h0.8v0.8h-0.8zM463.9 265.5h0.8v0.8h-0.8zM482.3 270.3h0.8v0.8h-0.8zM466.6 246.6h0.8v0.8h-0.8zM459.9 246.8h0.8v0.8h-0.8zM458.6 261.7h0.8v0.8h-0.8zM475.9 258.4h0.8v0.8h-0.8zM420.9 250.4h0.8v0.8h-0.8zM474.3 252.3h0.8v0.8h-0.8zM471.2 227.7h0.8v0.8h-0.8zM481.9 271.0h0.8v0.8h-0.8zM469.8 240.3h0.8v0.8h-0.8zM471.5 262.4h0.8v0.8h-0.8zM461.6 254.5h0.8v0.8h-0.8zM461.9 260.6h0.8v0.8h-0.8zM481.3 237.7h0.8v0.8h-0.8zM459.5 255.9h0.8v0.8h-0.8zM477.4 254.6h0.8v0.8h-0.8zM449.4 260.1h0.8v0.8h-0.8zM448.9 243.1h0.8v0.8h-0.8zM472.8 268.0h0.8v0.8h-0.8zM484.7 272.4h0.8v0.8h-0.8zM466.3 246.3h0.8v0.8h-0.8zM477.7 238.3h0.8v0.8h-0.8zM425.1 256.6h0.8v0.8h-0.8zM462.4 254.2h0.8v0.8h-0.8zM468.3 258.5h0.8v0.8h-0.8zM487.9 271.5h0.8v0.8h-0.8zM450.1 260.7h0.8v0.8h-0.8zM458.3 260.5h0.8v0.8h-0.8zM466.9 265.9h0.8v0.8h-0.8zM447.6 257.8h0.8v0.8h-0.8zM467.8 251.0h0.8v0.8h-0.8zM481.0 242.3h0.8v0.8h-0.8zM466.8 248.9h0.8v0.8h-0.8zM471.8 257.4h0.8v0.8h-0.8zM475.5 247.6h0.8v0.8h-0.8zM439.6 249.2h0.8v0.8h-0.8zM476.1 259.3h0.8v0.8h-0.8zM473.8 262.5h0.8v0.8h-0.8zM420.3 250.2h0.8v0.8h-0.8zM482.3 268.0h0.8v0.8h-0.8zM426.9 262.3h0.8v0.8h-0.8zM472.6 251.6h0.8v0.8h-0.8zM471.7 254.3h0.8v0.8h-0.8zM465.2 242.6h0.8v0.8h-0.8zM466.6 261.9h0.8v0.8h-0.8zM434.8 267.2h0.8v0.8h-0.8zM444.1 262.8h0.8v0.8h-0.8zM477.6 239.2h0.8v0.8h-0.8zM464.5 268.7h0.8v0.8h-0.8zM467.8 251.3h0.8v0.8h-0.8zM461.0 257.7h0.8v0.8h-0.8zM443.5 250.0h0.8v0.8h-0.8zM450.1 251.7h0.8v0.8h-0.8zM474.0 249.9h0.8v0.8h-0.8zM463.8 225.7h0.8v0.8h-0.8zM477.5 256.7h0.8v0.8h-0.8zM419.8 255.4h0.8v0.8h-0.8zM438.2 258.9h0.8v0.8h-0.8zM474.8 252.4h0.8v0.8h-0.8zM485.4 271.2h0.8v0.8h-0.8zM441.2 260.7h0.8v0.8h-0.8zM474.1 261.1h0.8v0.8h-0.8zM455.4 250.1h0.8v0.8h-0.8zM478.5 267.0h0.8v0.8h-0.8zM459.8 261.7h0.8v0.8h-0.8zM469.5 260.1h0.8v0.8h-0.8zM466.9 234.5h0.8v0.8h-0.8zM470.2 256.1h0.8v0.8h-0.8zM479.0 230.5h0.8v0.8h-0.8zM450.4 244.4h0.8v0.8h-0.8zM477.4 259.7h0.8v0.8h-0.8zM462.6 252.5h0.8v0.8h-0.8zM468.4 263.0h0.8v0.8h-0.8zM475.1 262.9h0.8v0.8h-0.8zM463.8 234.9h0.8v0.8h-0.8zM454.1 247.7h0.8v0.8h-0.8zM469.5 259.6h0.8v0.8h-0.8zM430.5 254.5h0.8v0.8h-0.8zM465.5 265.3h0.8v0.8h-0.8zM457.0 265.2h0.8v0.8h-0.8zM434.5 263.1h0.8v0.8h-0.8zM464.1 259.7h0.8v0.8h-0.8zM473.4 248.2h0.8v0.8h-0.8zM450.4 252.3h0.8v0.8h-0.8zM484.8 222.6h0.8v0.8h-0.8zM477.2 259.8h0.8v0.8h-0.8zM465.1 237.3h0.8v0.8h-0.8zM447.5 251.9h0.8v0.8h-0.8zM482.7 223.9h0.8v0.8h-0.8zM475.0 234.8h0.8v0.8h-0.8zM461.0 261.4h0.8v0.8h-0.8zM459.8 249.4h0.8v0.8h-0.8zM429.1 258.2h0.8v0.8h-0.8zM471.5 252.2h0.8v0.8h-0.8zM421.5 256.3h0.8v0.8h-0.8zM468.9 270.3h0.8v0.8h-0.8zM471.1 251.4h0.8v0.8h-0.8zM478.6 252.1h0.8v0.8h-0.8zM466.1 266.2h0.8v0.8h-0.8zM458.5 253.5h0.8v0.8h-0.8zM431.8 262.3h0.8v0.8h-0.8zM428.0 263.7h0.8v0.8h-0.8zM488.9 246.6h0.8v0.8h-0.8zM445.9 248.2h0.8v0.8h-0.8zM476.2 261.6h0.8v0.8h-0.8zM458.6 260.2h0.8v0.8h-0.8zM454.9 252.2h0.8v0.8h-0.8zM466.5 247.4h0.8v0.8h-0.8zM431.8 246.3h0.8v0.8h-0.8zM490.7 261.7h0.8v0.8h-0.8zM474.9 260.1h0.8v0.8h-0.8zM445.9 251.0h0.8v0.8h-0.8zM466.9 244.5h0.8v0.8h-0.8zM460.9 259.9h0.8v0.8h-0.8zM469.9 254.8h0.8v0.8h-0.8zM461.7 257.3h0.8v0.8h-0.8zM464.0 251.4h0.8v0.8h-0.8zM434.0 249.9h0.8v0.8h-0.8zM488.7 251.2h0.8v0.8h-0.8zM458.4 256.1h0.8v0.8h-0.8zM468.2 258.8h0.8v0.8h-0.8zM472.0 229.3h0.8v0.8h-0.8zM465.4 234.2h0.8v0.8h-0.8zM464.7 254.7h0.8v0.8h-0.8zM444.7 262.3h0.8v0.8h-0.8zM479.3 254.7h0.8v0.8h-0.8zM482.5 269.4h0.8v0.8h-0.8zM464.8 246.3h0.8v0.8h-0.8zM461.7 254.8h0.8v0.8h-0.8zM472.7 269.8h0.8v0.8h-0.8zM474.5 264.4h0.8v0.8h-0.8zM459.7 240.6h0.8v0.8h-0.8zM462.3 254.8h0.8v0.8h-0.8zM477.8 248.6h0.8v0.8h-0.8zM474.4 250.5h0.8v0.8h-0.8zM468.6 268.4h0.8v0.8h-0.8zM478.1 256.6h0.8v0.8h-0.8zM459.6 254.7h0.8v0.8h-0.8zM465.5 250.6h0.8v0.8h-0.8zM467.8 263.9h0.8v0.8h-0.8zM429.7 255.9h0.8v0.8h-0.8zM468.2 268.0h0.8v0.8h-0.8zM479.5 262.7h0.8v0.8h-0.8zM460.9 267.7h0.8v0.8h-0.8zM471.1 237.6h0.8v0.8h-0.8zM463.7 254.1h0.8v0.8h-0.8zM465.6 263.3h0.8v0.8h-0.8zM466.1 254.1h0.8v0.8h-0.8zM473.3 267.2h0.8v0.8h-0.8zM468.4 254.0h0.8v0.8h-0.8zM461.8 261.6h0.8v0.8h-0.8zM469.1 236.2h0.8v0.8h-0.8zM445.5 261.3h0.8v0.8h-0.8zM446.7 254.1h0.8v0.8h-0.8zM469.4 268.5h0.8v0.8h-0.8zM430.6 261.1h0.8v0.8h-0.8zM418.2 262.2h0.8v0.8h-0.8zM438.9 259.4h0.8v0.8h-0.8zM468.3 273.1h0.8v0.8h-0.8zM467.8 238.0h0.8v0.8h-0.8zM461.4 260.7h0.8v0.8h-0.8zM484.5 265.2h0.8v0.8h-0.8zM481.2 239.5h0.8v0.8h-0.8zM464.0 256.2h0.8v0.8h-0.8zM442.0 250.9h0.8v0.8h-0.8zM466.9 257.8h0.8v0.8h-0.8zM466.9 246.7h0.8v0.8h-0.8zM471.9 252.8h0.8v0.8h-0.8zM464.9 257.4h0.8v0.8h-0.8zM463.6 242.5h0.8v0.8h-0.8zM465.3 261.2h0.8v0.8h-0.8zM462.1 243.0h0.8v0.8h-0.8zM463.6 226.8h0.8v0.8h-0.8zM482.2 256.7h0.8v0.8h-0.8zM453.1 255.8h0.8v0.8h-0.8zM468.4 255.4h0.8v0.8h-0.8zM476.5 249.2h0.8v0.8h-0.8zM427.0 260.3h0.8v0.8h-0.8zM464.0 266.2h0.8v0.8h-0.8zM478.7 262.5h0.8v0.8h-0.8zM477.5 260.6h0.8v0.8h-0.8zM470.5 200.2h0.8v0.8h-0.8zM478.1 264.3h0.8v0.8h-0.8zM480.5 239.8h0.8v0.8h-0.8zM479.7 265.6h0.8v0.8h-0.8zM460.4 252.8h0.8v0.8h-0.8zM450.3 258.6h0.8v0.8h-0.8zM470.7 242.4h0.8v0.8h-0.8zM478.3 233.4h0.8v0.8h-0.8zM418.1 257.4h0.8v0.8h-0.8zM472.2 253.9h0.8v0.8h-0.8zM440.8 251.0h0.8v0.8h-0.8zM462.0 257.9h0.8v0.8h-0.8zM445.1 260.7h0.8v0.8h-0.8zM464.7 248.6h0.8v0.8h-0.8zM442.0 263.8h0.8v0.8h-0.8zM445.2 255.0h0.8v0.8h-0.8zM473.0 271.3h0.8v0.8h-0.8zM477.2 258.5h0.8v0.8h-0.8zM442.1 265.8h0.8v0.8h-0.8zM474.3 245.5h0.8v0.8h-0.8zM452.2 254.5h0.8v0.8h-0.8zM472.3 228.9h0.8v0.8h-0.8zM460.7 256.0h0.8v0.8h-0.8zM464.8 263.2h0.8v0.8h-0.8zM469.0 264.2h0.8v0.8h-0.8zM459.7 263.3h0.8v0.8h-0.8zM455.9 257.4h0.8v0.8h-0.8zM477.1 267.4h0.8v0.8h-0.8zM477.1 259.2h0.8v0.8h-0.8zM462.7 256.2h0.8v0.8h-0.8zM466.3 245.6h0.8v0.8h-0.8zM422.9 260.1h0.8v0.8h-0.8zM469.5 268.7h0.8v0.8h-0.8zM458.4 240.1h0.8v0.8h-0.8zM469.7 252.0h0.8v0.8h-0.8zM463.8 263.9h0.8v0.8h-0.8zM477.1 257.5h0.8v0.8h-0.8zM468.9 256.9h0.8v0.8h-0.8zM418.3 255.5h0.8v0.8h-0.8zM467.9 225.5h0.8v0.8h-0.8zM478.0 257.9h0.8v0.8h-0.8zM439.6 257.0h0.8v0.8h-0.8zM473.1 263.2h0.8v0.8h-0.8zM474.0 257.0h0.8v0.8h-0.8zM429.6 258.3h0.8v0.8h-0.8zM463.6 257.9h0.8v0.8h-0.8zM467.9 244.9h0.8v0.8h-0.8zM463.2 254.0h0.8v0.8h-0.8zM470.0 261.5h0.8v0.8h-0.8zM480.8 243.1h0.8v0.8h-0.8zM476.4 263.8h0.8v0.8h-0.8zM479.3 264.8h0.8v0.8h-0.8zM461.5 250.6h0.8v0.8h-0.8zM465.8 250.6h0.8v0.8h-0.8zM468.3 268.7h0.8v0.8h-0.8zM475.8 248.4h0.8v0.8h-0.8zM425.8 260.1h0.8v0.8h-0.8zM452.3 259.9h0.8v0.8h-0.8zM438.3 272.2h0.8v0.8h-0.8zM477.6 249.2h0.8v0.8h-0.8zM469.4 260.3h0.8v0.8h-0.8zM464.5 269.3h0.8v0.8h-0.8zM476.4 268.8h0.8v0.8h-0.8zM422.4 254.5h0.8v0.8h-0.8zM468.7 254.5h0.8v0.8h-0.8zM480.8 261.3h0.8v0.8h-0.8zM432.8 259.4h0.8v0.8h-0.8zM476.8 254.4h0.8v0.8h-0.8zM455.4 261.6h0.8v0.8h-0.8zM468.3 248.8h0.8v0.8h-0.8zM468.6 256.5h0.8v0.8h-0.8zM476.2 257.5h0.8v0.8h-0.8zM450.7 264.1h0.8v0.8h-0.8zM478.1 267.0h0.8v0.8h-0.8zM459.6 238.5h0.8v0.8h-0.8zM461.3 239.8h0.8v0.8h-0.8zM443.0 255.3h0.8v0.8h-0.8zM447.1 252.6h0.8v0.8h-0.8zM478.5 238.1h0.8v0.8h-0.8zM442.6 246.6h0.8v0.8h-0.8zM430.7 260.9h0.8v0.8h-0.8zM471.1 244.3h0.8v0.8h-0.8zM435.3 261.5h0.8v0.8h-0.8zM438.0 260.1h0.8v0.8h-0.8zM469.3 215.1h0.8v0.8h-0.8zM451.6 256.8h0.8v0.8h-0.8zM465.2 248.3h0.8v0.8h-0.8zM479.5 211.0h0.8v0.8h-0.8zM470.5 248.8h0.8v0.8h-0.8zM462.0 268.3h0.8v0.8h-0.8zM466.0 267.1h0.8v0.8h-0.8zM425.9 261.2h0.8v0.8h-0.8zM474.6 243.8h0.8v0.8h-0.8zM468.0 248.7h0.8v0.8h-0.8zM487.7 240.4h0.8v0.8h-0.8zM467.4 266.1h0.8v0.8h-0.8zM468.8 239.5h0.8v0.8h-0.8zM439.6 257.0h0.8v0.8h-0.8zM473.3 256.7h0.8v0.8h-0.8zM486.2 273.5h0.8v0.8h-0.8zM471.2 265.7h0.8v0.8h-0.8zM460.8 236.5h0.8v0.8h-0.8zM442.9 268.9h0.8v0.8h-0.8zM470.8 254.3h0.8v0.8h-0.8zM475.7 260.6h0.8v0.8h-0.8zM466.5 263.2h0.8v0.8h-0.8zM472.7 232.9h0.8v0.8h-0.8zM464.7 243.3h0.8v0.8h-0.8zM467.8 248.4h0.8v0.8h-0.8zM462.8 258.0h0.8v0.8h-0.8zM463.3 258.3h0.8v0.8h-0.8zM453.6 260.6h0.8v0.8h-0.8zM477.6 250.3h0.8v0.8h-0.8zM445.9 258.4h0.8v0.8h-0.8zM466.0 252.2h0.8v0.8h-0.8zM482.7 258.1h0.8v0.8h-0.8zM431.5 259.3h0.8v0.8h-0.8zM464.8 255.1h0.8v0.8h-0.8zM475.6 255.7h0.8v0.8h-0.8zM467.3 242.2h0.8v0.8h-0.8zM469.1 235.3h0.8v0.8h-0.8zM436.0 258.8h0.8v0.8h-0.8zM452.3 263.5h0.8v0.8h-0.8zM462.0 261.7h0.8v0.8h-0.8zM476.5 251.5h0.8v0.8h-0.8zM472.2 261.1h0.8v0.8h-0.8zM432.7 259.8h0.8v0.8h-0.8zM434.2 248.4h0.8v0.8h-0.8zM458.0 259.5h0.8v0.8h-0.8zM465.5 253.1h0.8v0.8h-0.8zM461.5 257.8h0.8v0.8h-0.8zM467.1 272.0h0.8v0.8h-0.8zM477.2 261.4h0.8v0.8h-0.8zM430.8 269.9h0.8v0.8h-0.8zM470.0 257.2h0.8v0.8h-0.8zM470.5 251.9h0.8v0.8h-0.8zM467.5 264.7h0.8v0.8h-0.8zM440.2 246.6h0.8v0.8h-0.8zM467.3 230.7h0.8v0.8h-0.8zM474.1 264.9h0.8v0.8h-0.8zM470.0 247.0h0.8v0.8h-0.8zM485.0 265.7h0.8v0.8h-0.8zM441.5 257.2h0.8v0.8h-0.8zM470.6 250.2h0.8v0.8h-0.8zM471.6 260.1h0.8v0.8h-0.8zM460.4 254.1h0.8v0.8h-0.8zM488.9 249.9h0.8v0.8h-0.8zM439.0 259.9h0.8v0.8h-0.8zM472.8 246.4h0.8v0.8h-0.8zM458.4 251.3h0.8v0.8h-0.8zM473.9 225.0h0.8v0.8h-0.8zM443.6 253.0h0.8v0.8h-0.8zM445.7 257.7h0.8v0.8h-0.8zM425.6 256.5h0.8v0.8h-0.8zM445.4 256.6h0.8v0.8h-0.8zM464.0 247.2h0.8v0.8h-0.8zM450.5 268.9h0.8v0.8h-0.8zM470.1 229.2h0.8v0.8h-0.8zM469.2 260.2h0.8v0.8h-0.8zM466.8 244.3h0.8v0.8h-0.8zM482.9 234.9h0.8v0.8h-0.8zM475.5 263.2h0.8v0.8h-0.8zM468.7 251.7h0.8v0.8h-0.8zM433.3 247.9h0.8v0.8h-0.8zM474.8 267.6h0.8v0.8h-0.8zM477.4 251.1h0.8v0.8h-0.8zM464.0 251.8h0.8v0.8h-0.8zM436.0 263.1h0.8v0.8h-0.8zM447.6 263.2h0.8v0.8h-0.8zM465.1 267.9h0.8v0.8h-0.8zM468.3 244.5h0.8v0.8h-0.8zM458.0 257.9h0.8v0.8h-0.8zM471.4 270.0h0.8v0.8h-0.8zM482.0 231.7h0.8v0.8h-0.8zM462.3 252.7h0.8v0.8h-0.8zM437.3 253.7h0.8v0.8h-0.8zM444.4 265.9h0.8v0.8h-0.8zM467.1 233.5h0.8v0.8h-0.8zM463.2 250.8h0.8v0.8h-0.8zM464.7 244.3h0.8v0.8h-0.8zM479.2 257.4h0.8v0.8h-0.8zM458.5 262.4h0.8v0.8h-0.8zM442.1 248.1h0.8v0.8h-0.8zM482.4 262.6h0.8v0.8h-0.8zM469.7 265.0h0.8v0.8h-0.8zM472.5 245.5h0.8v0.8h-0.8zM471.2 259.7h0.8v0.8h-0.8zM478.9 268.4h0.8v0.8h-0.8zM440.8 260.8h0.8v0.8h-0.8zM479.4 232.7h0.8v0.8h-0.8zM468.3 238.6h0.8v0.8h-0.8zM473.4 239.4h0.8v0.8h-0.8zM478.5 246.0h0.8v0.8h-0.8zM463.2 256.1h0.8v0.8h-0.8zM472.1 267.6h0.8v0.8h-0.8zM468.5 264.8h0.8v0.8h-0.8zM445.3 270.0h0.8v0.8h-0.8zM468.2 261.5h0.8v0.8h-0.8zM469.6 261.7h0.8v0.8h-0.8zM477.7 236.6h0.8v0.8h-0.8zM474.0 252.4h0.8v0.8h-0.8zM449.5 267.4h0.8v0.8h-0.8zM435.6 247.4h0.8v0.8h-0.8zM463.3 264.1h0.8v0.8h-0.8zM443.7 262.7h0.8v0.8h-0.8zM428.0 259.9h0.8v0.8h-0.8zM470.4 264.0h0.8v0.8h-0.8zM452.0 258.8h0.8v0.8h-0.8zM424.8 258.7h0.8v0.8h-0.8zM448.7 258.5h0.8v0.8h-0.8zM452.5 259.1h0.8v0.8h-0.8zM462.5 251.6h0.8v0.8h-0.8zM426.7 256.2h0.8v0.8h-0.8zM472.5 250.6h0.8v0.8h-0.8zM475.8 228.9h0.8v0.8h-0.8zM480.0 257.1h0.8v0.8h-0.8zM456.3 258.1h0.8v0.8h-0.8zM476.8 272.4h0.8v0.8h-0.8zM477.1 260.8h0.8v0.8h-0.8zM476.5 261.3h0.8v0.8h-0.8zM458.9 253.3h0.8v0.8h-0.8zM478.1 234.9h0.8v0.8h-0.8zM456.0 270.5h0.8v0.8h-0.8zM469.9 250.4h0.8v0.8h-0.8zM459.6 266.0h0.8v0.8h-0.8zM466.5 249.3h0.8v0.8h-0.8zM460.2 263.7h0.8v0.8h-0.8zM456.4 251.2h0.8v0.8h-0.8zM470.3 249.0h0.8v0.8h-0.8zM468.4 242.2h0.8v0.8h-0.8zM465.9 265.2h0.8v0.8h-0.8zM458.7 261.1h0.8v0.8h-0.8zM467.5 261.6h0.8v0.8h-0.8zM459.4 250.9h0.8v0.8h-0.8zM474.8 257.0h0.8v0.8h-0.8zM463.6 236.5h0.8v0.8h-0.8zM470.8 251.0h0.8v0.8h-0.8zM486.1 262.9h0.8v0.8h-0.8zM463.3 251.2h0.8v0.8h-0.8zM478.4 255.6h0.8v0.8h-0.8zM448.2 253.7h0.8v0.8h-0.8zM446.9 264.6h0.8v0.8h-0.8zM469.9 245.9h0.8v0.8h-0.8zM443.4 253.4h0.8v0.8h-0.8zM469.2 257.6h0.8v0.8h-0.8zM462.1 268.7h0.8v0.8h-0.8zM469.9 266.7h0.8v0.8h-0.8zM457.3 228.5h0.8v0.8h-0.8zM474.0 244.7h0.8v0.8h-0.8zM458.2 256.4h0.8v0.8h-0.8zM470.5 232.0h0.8v0.8h-0.8zM466.3 241.3h0.8v0.8h-0.8zM444.7 266.4h0.8v0.8h-0.8zM430.5 255.2h0.8v0.8h-0.8zM463.5 264.0h0.8v0.8h-0.8zM481.9 263.0h0.8v0.8h-0.8zM468.6 252.9h0.8v0.8h-0.8zM423.7 256.0h0.8v0.8h-0.8zM483.6 270.4h0.8v0.8h-0.8zM481.5 243.7h0.8v0.8h-0.8zM470.4 245.6h0.8v0.8h-0.8zM466.7 235.1h0.8v0.8h-0.8zM460.8 239.8h0.8v0.8h-0.8zM439.6 256.5h0.8v0.8h-0.8zM472.9 224.7h0.8v0.8h-0.8zM475.6 259.3h0.8v0.8h-0.8zM436.7 262.5h0.8v0.8h-0.8zM476.4 255.2h0.8v0.8h-0.8zM461.9 245.7h0.8v0.8h-0.8zM483.9 247.7h0.8v0.8h-0.8zM418.1 252.8h0.8v0.8h-0.8zM421.2 258.4h0.8v0.8h-0.8zM426.4 250.3h0.8v0.8h-0.8zM439.7 271.0h0.8v0.8h-0.8zM433.0 253.9h0.8v0.8h-0.8zM474.5 242.6h0.8v0.8h-0.8zM462.3 237.9h0.8v0.8h-0.8zM471.2 267.6h0.8v0.8h-0.8zM437.2 255.7h0.8v0.8h-0.8zM458.0 247.0h0.8v0.8h-0.8zM474.2 262.4h0.8v0.8h-0.8zM476.4 232.3h0.8v0.8h-0.8zM462.8 266.3h0.8v0.8h-0.8zM461.6 271.4h0.8v0.8h-0.8zM488.4 268.2h0.8v0.8h-0.8zM469.9 250.7h0.8v0.8h-0.8zM484.1 267.6h0.8v0.8h-0.8zM470.8 265.6h0.8v0.8h-0.8zM473.1 243.8h0.8v0.8h-0.8zM464.6 259.6h0.8v0.8h-0.8zM458.9 239.1h0.8v0.8h-0.8zM472.5 245.9h0.8v0.8h-0.8zM483.3 273.1h0.8v0.8h-0.8zM470.5 244.1h0.8v0.8h-0.8zM471.5 265.6h0.8v0.8h-0.8zM466.5 267.0h0.8v0.8h-0.8zM469.4 263.7h0.8v0.8h-0.8zM468.1 241.0h0.8v0.8h-0.8zM464.0 253.6h0.8v0.8h-0.8zM468.0 257.5h0.8v0.8h-0.8zM459.1 261.5h0.8v0.8h-0.8zM430.1 254.4h0.8v0.8h-0.8zM443.7 259.6h0.8v0.8h-0.8zM470.3 239.5h0.8v0.8h-0.8zM465.8 260.1h0.8v0.8h-0.8zM462.7 249.9h0.8v0.8h-0.8zM467.4 255.9h0.8v0.8h-0.8zM464.9 263.0h0.8v0.8h-0.8zM479.8 267.5h0.8v0.8h-0.8zM472.7 261.0h0.8v0.8h-0.8zM470.5 265.4h0.8v0.8h-0.8zM425.0 250.6h0.8v0.8h-0.8zM461.8 242.0h0.8v0.8h-0.8zM463.1 271.0h0.8v0.8h-0.8zM468.1 258.3h0.8v0.8h-0.8zM468.5 263.1h0.8v0.8h-0.8zM465.6 267.2h0.8v0.8h-0.8zM464.9 261.9h0.8v0.8h-0.8zM433.4 260.9h0.8v0.8h-0.8zM470.6 251.5h0.8v0.8h-0.8zM449.7 245.3h0.8v0.8h-0.8zM476.3 242.0h0.8v0.8h-0.8zM459.9 263.1h0.8v0.8h-0.8zM468.1 271.4h0.8v0.8h-0.8zM452.1 262.7h0.8v0.8h-0.8zM458.3 255.7h0.8v0.8h-0.8zM459.6 252.1h0.8v0.8h-0.8zM476.5 244.8h0.8v0.8h-0.8zM476.5 253.2h0.8v0.8h-0.8zM478.7 242.4h0.8v0.8h-0.8zM475.6 259.7h0.8v0.8h-0.8zM460.1 257.4h0.8v0.8h-0.8zM437.0 253.9h0.8v0.8h-0.8zM426.2 254.8h0.8v0.8h-0.8zM442.9 260.2h0.8v0.8h-0.8zM442.6 257.3h0.8v0.8h-0.8zM455.2 253.9h0.8v0.8h-0.8zM471.1 243.9h0.8v0.8h-0.8zM465.2 268.4h0.8v0.8h-0.8zM470.8 245.3h0.8v0.8h-0.8zM422.9 255.0h0.8v0.8h-0.8zM468.7 265.8h0.8v0.8h-0.8zM457.9 232.7h0.8v0.8h-0.8zM473.6 255.6h0.8v0.8h-0.8zM430.5 256.7h0.8v0.8h-0.8zM474.5 254.7h0.8v0.8h-0.8zM464.7 235.0h0.8v0.8h-0.8zM462.6 269.3h0.8v0.8h-0.8zM484.4 269.3h0.8v0.8h-0.8zM465.9 245.0h0.8v0.8h-0.8zM427.4 257.2h0.8v0.8h-0.8zM443.0 252.4h0.8v0.8h-0.8zM480.0 239.9h0.8v0.8h-0.8zM452.3 252.1h0.8v0.8h-0.8zM473.0 261.3h0.8v0.8h-0.8zM480.6 250.0h0.8v0.8h-0.8zM458.8 268.0h0.8v0.8h-0.8zM452.9 260.6h0.8v0.8h-0.8zM486.2 267.1h0.8v0.8h-0.8zM451.9 264.5h0.8v0.8h-0.8zM428.0 261.1h0.8v0.8h-0.8zM460.2 270.8h0.8v0.8h-0.8zM462.4 256.9h0.8v0.8h-0.8zM469.4 240.7h0.8v0.8h-0.8zM471.9 251.3h0.8v0.8h-0.8zM460.2 252.4h0.8v0.8h-0.8zM488.4 264.9h0.8v0.8h-0.8zM451.0 259.4h0.8v0.8h-0.8zM429.0 254.4h0.8v0.8h-0.8zM476.5 250.5h0.8v0.8h-0.8zM463.3 263.7h0.8v0.8h-0.8zM468.5 253.0h0.8v0.8h-0.8zM438.9 262.3h0.8v0.8h-0.8zM474.6 253.9h0.8v0.8h-0.8zM458.0 259.0h0.8v0.8h-0.8zM462.4 266.6h0.8v0.8h-0.8zM458.2 258.5h0.8v0.8h-0.8zM463.7 265.7h0.8v0.8h-0.8zM441.0 255.3h0.8v0.8h-0.8zM461.6 245.6h0.8v0.8h-0.8zM444.5 244.7h0.8v0.8h-0.8zM455.7 242.0h0.8v0.8h-0.8zM437.2 251.1h0.8v0.8h-0.8zM468.7 235.6h0.8v0.8h-0.8zM481.2 244.3h0.8v0.8h-0.8zM439.7 252.9h0.8v0.8h-0.8zM459.0 263.3h0.8v0.8h-0.8zM466.7 254.7h0.8v0.8h-0.8zM478.3 267.6h0.8v0.8h-0.8zM459.5 251.8h0.8v0.8h-0.8zM463.9 269.5h0.8v0.8h-0.8zM470.2 268.3h0.8v0.8h-0.8zM491.0 264.5h0.8v0.8h-0.8zM458.1 258.2h0.8v0.8h-0.8zM468.4 247.6h0.8v0.8h-0.8zM434.1 256.2h0.8v0.8h-0.8zM455.3 257.7h0.8v0.8h-0.8zM471.5 254.7h0.8v0.8h-0.8zM422.4 265.8h0.8v0.8h-0.8zM437.0 253.7h0.8v0.8h-0.8zM473.9 231.8h0.8v0.8h-0.8zM471.5 232.2h0.8v0.8h-0.8zM472.3 254.5h0.8v0.8h-0.8zM481.4 270.8h0.8v0.8h-0.8zM436.5 257.1h0.8v0.8h-0.8zM442.8 253.7h0.8v0.8h-0.8zM463.7 258.2h0.8v0.8h-0.8zM457.9 264.3h0.8v0.8h-0.8zM464.6 251.4h0.8v0.8h-0.8zM450.2 262.4h0.8v0.8h-0.8zM468.2 236.8h0.8v0.8h-0.8zM469.8 252.4h0.8v0.8h-0.8zM464.1 252.8h0.8v0.8h-0.8zM466.1 255.1h0.8v0.8h-0.8zM466.2 255.9h0.8v0.8h-0.8zM467.9 250.0h0.8v0.8h-0.8zM468.1 243.4h0.8v0.8h-0.8zM462.0 266.4h0.8v0.8h-0.8zM467.6 258.0h0.8v0.8h-0.8zM471.3 237.3h0.8v0.8h-0.8zM455.7 259.0h0.8v0.8h-0.8zM458.0 238.9h0.8v0.8h-0.8zM448.7 254.1h0.8v0.8h-0.8zM470.7 237.4h0.8v0.8h-0.8zM482.6 271.1h0.8v0.8h-0.8zM462.2 253.7h0.8v0.8h-0.8zM456.6 258.7h0.8v0.8h-0.8zM469.0 259.4h0.8v0.8h-0.8zM479.7 229.0h0.8v0.8h-0.8zM470.4 270.5h0.8v0.8h-0.8zM468.6 243.8h0.8v0.8h-0.8zM469.4 231.2h0.8v0.8h-0.8zM466.4 254.7h0.8v0.8h-0.8zM429.7 255.6h0.8v0.8h-0.8zM472.2 267.7h0.8v0.8h-0.8zM469.7 257.4h0.8v0.8h-0.8zM434.5 264.2h0.8v0.8h-0.8zM475.9 251.6h0.8v0.8h-0.8zM441.1 256.1h0.8v0.8h-0.8zM417.2 255.8h0.8v0.8h-0.8zM442.6 249.8h0.8v0.8h-0.8zM464.5 256.0h0.8v0.8h-0.8zM466.5 237.0h0.8v0.8h-0.8zM442.1 257.5h0.8v0.8h-0.8zM465.0 231.2h0.8v0.8h-0.8zM473.6 244.9h0.8v0.8h-0.8zM454.0 267.0h0.8v0.8h-0.8zM462.2 262.2h0.8v0.8h-0.8zM466.2 250.1h0.8v0.8h-0.8zM486.0 258.4h0.8v0.8h-0.8zM467.0 250.0h0.8v0.8h-0.8zM469.6 244.6h0.8v0.8h-0.8zM424.1 252.6h0.8v0.8h-0.8zM467.8 232.8h0.8v0.8h-0.8zM457.1 254.0h0.8v0.8h-0.8zM471.2 242.6h0.8v0.8h-0.8zM476.1 255.9h0.8v0.8h-0.8zM437.9 257.4h0.8v0.8h-0.8zM474.3 261.9h0.8v0.8h-0.8zM464.4 270.0h0.8v0.8h-0.8zM463.3 259.7h0.8v0.8h-0.8zM474.8 262.0h0.8v0.8h-0.8zM444.9 262.2h0.8v0.8h-0.8zM439.0 263.7h0.8v0.8h-0.8zM475.2 258.8h0.8v0.8h-0.8zM436.2 258.4h0.8v0.8h-0.8zM469.0 266.0h0.8v0.8h-0.8zM433.2 259.9h0.8v0.8h-0.8zM444.0 265.6h0.8v0.8h-0.8zM478.0 260.8h0.8v0.8h-0.8zM467.2 241.1h0.8v0.8h-0.8zM463.3 263.1h0.8v0.8h-0.8zM438.5 262.6h0.8v0.8h-0.8zM449.4 252.8h0.8v0.8h-0.8zM423.5 257.9h0.8v0.8h-0.8zM442.5 253.1h0.8v0.8h-0.8zM478.4 272.7h0.8v0.8h-0.8zM467.2 253.2h0.8v0.8h-0.8zM471.0 259.5h0.8v0.8h-0.8zM424.3 255.2h0.8v0.8h-0.8zM461.3 257.9h0.8v0.8h-0.8zM466.8 242.1h0.8v0.8h-0.8zM467.4 242.3h0.8v0.8h-0.8zM458.8 250.3h0.8v0.8h-0.8zM426.5 249.9h0.8v0.8h-0.8zM432.7 259.8h0.8v0.8h-0.8zM461.2 252.7h0.8v0.8h-0.8zM461.9 261.9h0.8v0.8h-0.8zM444.4 252.5h0.8v0.8h-0.8zM481.0 260.4h0.8v0.8h-0.8zM465.6 255.3h0.8v0.8h-0.8zM460.5 251.6h0.8v0.8h-0.8zM484.1 242.8h0.8v0.8h-0.8zM469.2 252.8h0.8v0.8h-0.8zM452.4 252.7h0.8v0.8h-0.8zM469.4 234.5h0.8v0.8h-0.8zM471.7 258.3h0.8v0.8h-0.8zM478.9 238.7h0.8v0.8h-0.8zM467.4 249.3h0.8v0.8h-0.8zM463.2 250.3h0.8v0.8h-0.8zM460.0 264.0h0.8v0.8h-0.8zM453.4 252.2h0.8v0.8h-0.8zM460.2 226.3h0.8v0.8h-0.8zM439.9 255.7h0.8v0.8h-0.8zM465.5 247.1h0.8v0.8h-0.8zM480.0 243.0h0.8v0.8h-0.8zM451.7 267.2h0.8v0.8h-0.8zM472.6 238.7h0.8v0.8h-0.8zM480.1 246.1h0.8v0.8h-0.8zM469.8 240.0h0.8v0.8h-0.8zM472.3 247.6h0.8v0.8h-0.8zM474.0 231.5h0.8v0.8h-0.8zM465.8 255.6h0.8v0.8h-0.8zM465.9 261.8h0.8v0.8h-0.8zM467.1 254.0h0.8v0.8h-0.8zM465.4 258.8h0.8v0.8h-0.8zM462.8 263.7h0.8v0.8h-0.8zM464.2 258.2h0.8v0.8h-0.8zM462.0 243.0h0.8v0.8h-0.8zM447.8 263.0h0.8v0.8h-0.8zM474.6 271.5h0.8v0.8h-0.8zM473.6 272.8h0.8v0.8h-0.8zM462.2 247.3h0.8v0.8h-0.8zM493.0 264.2h0.8v0.8h-0.8zM468.7 248.0h0.8v0.8h-0.8zM463.6 249.6h0.8v0.8h-0.8zM474.0 252.8h0.8v0.8h-0.8zM481.7 259.2h0.8v0.8h-0.8zM464.4 252.3h0.8v0.8h-0.8zM433.4 249.3h0.8v0.8h-0.8zM457.7 251.2h0.8v0.8h-0.8zM478.3 231.5h0.8v0.8h-0.8zM478.9 256.9h0.8v0.8h-0.8zM472.0 258.4h0.8v0.8h-0.8zM462.0 254.1h0.8v0.8h-0.8zM461.7 270.4h0.8v0.8h-0.8zM424.3 262.1h0.8v0.8h-0.8zM454.7 251.7h0.8v0.8h-0.8zM445.5 257.6h0.8v0.8h-0.8zM467.3 255.7h0.8v0.8h-0.8zM480.9 245.6h0.8v0.8h-0.8zM437.4 252.4h0.8v0.8h-0.8zM470.6 258.9h0.8v0.8h-0.8zM480.1 251.7h0.8v0.8h-0.8zM464.3 244.3h0.8v0.8h-0.8zM468.6 251.9h0.8v0.8h-0.8zM467.6 246.6h0.8v0.8h-0.8zM468.2 250.7h0.8v0.8h-0.8zM476.3 236.8h0.8v0.8h-0.8zM469.4 256.2h0.8v0.8h-0.8zM448.4 253.4h0.8v0.8h-0.8zM461.5 249.6h0.8v0.8h-0.8zM432.7 259.5h0.8v0.8h-0.8zM484.1 265.7h0.8v0.8h-0.8zM472.9 252.4h0.8v0.8h-0.8zM465.6 250.6h0.8v0.8h-0.8zM441.6 261.0h0.8v0.8h-0.8zM473.1 261.6h0.8v0.8h-0.8zM475.3 248.9h0.8v0.8h-0.8zM452.4 253.2h0.8v0.8h-0.8zM469.8 241.0h0.8v0.8h-0.8zM466.3 261.9h0.8v0.8h-0.8zM459.7 255.9h0.8v0.8h-0.8zM470.0 264.8h0.8v0.8h-0.8zM470.0 254.0h0.8v0.8h-0.8zM431.5 250.9h0.8v0.8h-0.8zM474.5 266.1h0.8v0.8h-0.8zM473.9 221.6h0.8v0.8h-0.8zM448.0 254.3h0.8v0.8h-0.8zM459.3 256.7h0.8v0.8h-0.8zM468.9 253.0h0.8v0.8h-0.8zM480.2 260.6h0.8v0.8h-0.8zM443.4 262.0h0.8v0.8h-0.8zM472.0 260.8h0.8v0.8h-0.8zM468.1 251.2h0.8v0.8h-0.8zM474.1 255.8h0.8v0.8h-0.8zM460.7 244.8h0.8v0.8h-0.8zM464.9 236.2h0.8v0.8h-0.8zM462.4 235.1h0.8v0.8h-0.8zM468.8 262.3h0.8v0.8h-0.8zM440.3 256.5h0.8v0.8h-0.8zM461.7 255.9h0.8v0.8h-0.8zM448.4 259.5h0.8v0.8h-0.8zM464.7 259.4h0.8v0.8h-0.8zM465.4 258.5h0.8v0.8h-0.8zM471.5 255.1h0.8v0.8h-0.8zM479.7 261.6h0.8v0.8h-0.8zM470.0 244.1h0.8v0.8h-0.8zM470.3 258.4h0.8v0.8h-0.8zM469.5 251.2h0.8v0.8h-0.8zM463.1 241.3h0.8v0.8h-0.8zM420.0 260.0h0.8v0.8h-0.8zM465.2 265.6h0.8v0.8h-0.8zM474.9 242.1h0.8v0.8h-0.8zM475.2 239.4h0.8v0.8h-0.8zM474.7 256.1h0.8v0.8h-0.8zM462.6 254.5h0.8v0.8h-0.8zM460.1 237.9h0.8v0.8h-0.8zM463.1 248.3h0.8v0.8h-0.8zM461.4 256.1h0.8v0.8h-0.8zM471.3 243.3h0.8v0.8h-0.8zM465.9 257.0h0.8v0.8h-0.8zM466.0 238.3h0.8v0.8h-0.8zM462.6 258.8h0.8v0.8h-0.8zM475.8 258.1h0.8v0.8h-0.8zM432.0 261.7h0.8v0.8h-0.8zM468.6 266.6h0.8v0.8h-0.8zM468.5 268.4h0.8v0.8h-0.8zM443.6 262.2h0.8v0.8h-0.8zM419.9 257.3h0.8v0.8h-0.8zM448.8 259.9h0.8v0.8h-0.8zM455.4 256.4h0.8v0.8h-0.8zM470.6 260.1h0.8v0.8h-0.8zM467.1 258.1h0.8v0.8h-0.8zM459.2 257.4h0.8v0.8h-0.8zM478.8 241.7h0.8v0.8h-0.8zM467.6 261.8h0.8v0.8h-0.8zM471.7 246.0h0.8v0.8h-0.8zM426.8 262.2h0.8v0.8h-0.8zM463.1 268.0h0.8v0.8h-0.8zM479.8 254.8h0.8v0.8h-0.8zM434.1 260.7h0.8v0.8h-0.8zM464.8 228.5h0.8v0.8h-0.8zM469.8 265.3h0.8v0.8h-0.8zM428.8 250.3h0.8v0.8h-0.8zM479.3 240.9h0.8v0.8h-0.8zM438.0 253.7h0.8v0.8h-0.8zM461.8 245.1h0.8v0.8h-0.8zM438.0 251.2h0.8v0.8h-0.8zM473.6 246.6h0.8v0.8h-0.8zM466.4 267.4h0.8v0.8h-0.8zM475.4 265.1h0.8v0.8h-0.8zM449.0 255.0h0.8v0.8h-0.8zM484.1 257.9h0.8v0.8h-0.8zM445.2 248.0h0.8v0.8h-0.8zM465.2 256.7h0.8v0.8h-0.8zM466.0 263.7h0.8v0.8h-0.8zM463.1 244.9h0.8v0.8h-0.8zM466.3 253.9h0.8v0.8h-0.8zM470.5 239.1h0.8v0.8h-0.8zM464.8 238.3h0.8v0.8h-0.8zM478.4 248.7h0.8v0.8h-0.8zM471.1 240.6h0.8v0.8h-0.8zM458.6 267.4h0.8v0.8h-0.8zM453.4 261.0h0.8v0.8h-0.8zM477.8 241.2h0.8v0.8h-0.8zM458.3 259.1h0.8v0.8h-0.8zM487.8 269.6h0.8v0.8h-0.8zM465.1 252.4h0.8v0.8h-0.8zM475.7 250.3h0.8v0.8h-0.8zM445.8 260.3h0.8v0.8h-0.8zM464.7 269.4h0.8v0.8h-0.8zM472.3 257.6h0.8v0.8h-0.8zM471.5 253.1h0.8v0.8h-0.8zM465.2 242.2h0.8v0.8h-0.8zM477.9 248.0h0.8v0.8h-0.8zM463.2 246.7h0.8v0.8h-0.8zM463.3 269.2h0.8v0.8h-0.8zM427.0 262.5h0.8v0.8h-0.8zM472.1 221.4h0.8v0.8h-0.8zM471.3 229.5h0.8v0.8h-0.8zM470.9 237.5h0.8v0.8h-0.8zM431.1 251.5h0.8v0.8h-0.8zM433.4 258.0h0.8v0.8h-0.8zM463.3 265.7h0.8v0.8h-0.8zM468.4 253.2h0.8v0.8h-0.8zM467.1 244.1h0.8v0.8h-0.8zM443.5 267.4h0.8v0.8h-0.8zM460.9 256.8h0.8v0.8h-0.8zM478.8 234.0h0.8v0.8h-0.8zM478.1 243.4h0.8v0.8h-0.8zM460.1 270.6h0.8v0.8h-0.8zM478.2 265.8h0.8v0.8h-0.8zM470.1 260.0h0.8v0.8h-0.8zM479.9 233.5h0.8v0.8h-0.8zM480.4 261.9h0.8v0.8h-0.8zM467.7 249.6h0.8v0.8h-0.8zM471.1 264.0h0.8v0.8h-0.8zM466.8 233.4h0.8v0.8h-0.8zM461.9 251.0h0.8v0.8h-0.8zM435.6 255.6h0.8v0.8h-0.8zM443.5 261.5h0.8v0.8h-0.8zM442.3 254.8h0.8v0.8h-0.8zM447.9 254.6h0.8v0.8h-0.8zM469.3 264.8h0.8v0.8h-0.8zM461.4 248.5h0.8v0.8h-0.8zM476.5 251.1h0.8v0.8h-0.8zM473.2 257.8h0.8v0.8h-0.8zM465.4 254.5h0.8v0.8h-0.8zM458.1 254.1h0.8v0.8h-0.8zM469.6 247.4h0.8v0.8h-0.8zM432.3 253.7h0.8v0.8h-0.8zM480.9 240.4h0.8v0.8h-0.8zM459.1 256.1h0.8v0.8h-0.8zM483.2 259.5h0.8v0.8h-0.8zM474.0 245.9h0.8v0.8h-0.8zM468.8 244.9h0.8v0.8h-0.8zM475.1 259.0h0.8v0.8h-0.8zM477.8 265.7h0.8v0.8h-0.8zM473.9 243.5h0.8v0.8h-0.8zM463.4 265.6h0.8v0.8h-0.8zM457.0 265.8h0.8v0.8h-0.8zM473.1 261.7h0.8v0.8h-0.8zM483.1 262.6h0.8v0.8h-0.8zM475.2 250.1h0.8v0.8h-0.8zM467.1 259.6h0.8v0.8h-0.8zM471.5 249.2h0.8v0.8h-0.8zM465.2 221.4h0.8v0.8h-0.8zM464.3 265.3h0.8v0.8h-0.8zM437.5 252.5h0.8v0.8h-0.8zM465.7 266.2h0.8v0.8h-0.8zM484.1 254.0h0.8v0.8h-0.8zM471.4 237.8h0.8v0.8h-0.8zM469.4 262.6h0.8v0.8h-0.8zM460.1 261.1h0.8v0.8h-0.8zM474.0 270.2h0.8v0.8h-0.8zM430.8 260.2h0.8v0.8h-0.8zM444.3 267.5h0.8v0.8h-0.8zM466.9 256.8h0.8v0.8h-0.8zM434.3 243.8h0.8v0.8h-0.8zM459.5 272.9h0.8v0.8h-0.8zM485.7 242.3h0.8v0.8h-0.8zM425.8 257.0h0.8v0.8h-0.8zM470.1 235.9h0.8v0.8h-0.8zM452.4 251.8h0.8v0.8h-0.8zM465.9 240.4h0.8v0.8h-0.8zM476.4 232.2h0.8v0.8h-0.8zM466.9 269.1h0.8v0.8h-0.8zM458.0 257.6h0.8v0.8h-0.8zM453.2 246.8h0.8v0.8h-0.8zM440.7 249.1h0.8v0.8h-0.8zM455.2 260.1h0.8v0.8h-0.8zM442.2 246.6h0.8v0.8h-0.8zM473.4 228.7h0.8v0.8h-0.8zM438.8 263.7h0.8v0.8h-0.8zM467.6 257.6h0.8v0.8h-0.8zM432.9 251.9h0.8v0.8h-0.8zM442.7 260.9h0.8v0.8h-0.8zM462.5 243.2h0.8v0.8h-0.8zM469.6 259.6h0.8v0.8h-0.8zM436.9 252.4h0.8v0.8h-0.8zM421.0 256.4h0.8v0.8h-0.8zM425.3 259.6h0.8v0.8h-0.8zM444.9 266.4h0.8v0.8h-0.8zM443.7 255.1h0.8v0.8h-0.8zM463.6 238.8h0.8v0.8h-0.8zM463.4 241.0h0.8v0.8h-0.8zM420.1 258.6h0.8v0.8h-0.8zM440.3 257.3h0.8v0.8h-0.8zM442.8 268.2h0.8v0.8h-0.8zM459.1 249.4h0.8v0.8h-0.8zM472.3 264.6h0.8v0.8h-0.8zM438.9 256.1h0.8v0.8h-0.8zM481.2 272.5h0.8v0.8h-0.8zM455.9 249.3h0.8v0.8h-0.8zM466.1 244.1h0.8v0.8h-0.8zM476.0 260.2h0.8v0.8h-0.8zM422.5 248.9h0.8v0.8h-0.8zM462.4 257.2h0.8v0.8h-0.8zM441.6 257.8h0.8v0.8h-0.8zM472.6 267.5h0.8v0.8h-0.8zM460.0 261.1h0.8v0.8h-0.8zM448.7 259.5h0.8v0.8h-0.8zM466.1 220.3h0.8v0.8h-0.8zM436.0 264.0h0.8v0.8h-0.8zM466.7 243.1h0.8v0.8h-0.8zM467.2 219.4h0.8v0.8h-0.8zM477.8 264.8h0.8v0.8h-0.8zM467.5 257.0h0.8v0.8h-0.8zM435.2 252.9h0.8v0.8h-0.8zM483.2 246.1h0.8v0.8h-0.8zM467.2 263.3h0.8v0.8h-0.8zM467.3 258.8h0.8v0.8h-0.8zM439.1 266.0h0.8v0.8h-0.8zM480.9 267.8h0.8v0.8h-0.8zM437.9 252.7h0.8v0.8h-0.8zM468.2 262.9h0.8v0.8h-0.8zM463.2 248.2h0.8v0.8h-0.8zM472.9 271.2h0.8v0.8h-0.8zM433.2 262.9h0.8v0.8h-0.8zM465.6 255.5h0.8v0.8h-0.8zM469.4 245.6h0.8v0.8h-0.8zM464.0 224.4h0.8v0.8h-0.8zM469.2 254.9h0.8v0.8h-0.8zM460.4 262.7h0.8v0.8h-0.8zM445.3 257.0h0.8v0.8h-0.8zM424.2 269.7h0.8v0.8h-0.8zM458.9 249.2h0.8v0.8h-0.8zM480.9 273.6h0.8v0.8h-0.8zM436.8 251.9h0.8v0.8h-0.8zM468.2 248.9h0.8v0.8h-0.8zM448.0 255.6h0.8v0.8h-0.8zM469.2 242.1h0.8v0.8h-0.8zM481.7 247.6h0.8v0.8h-0.8zM460.9 249.6h0.8v0.8h-0.8zM470.9 223.5h0.8v0.8h-0.8zM468.8 242.3h0.8v0.8h-0.8zM437.8 255.8h0.8v0.8h-0.8zM453.2 256.4h0.8v0.8h-0.8zM476.0 243.6h0.8v0.8h-0.8zM468.2 262.8h0.8v0.8h-0.8zM464.5 252.1h0.8v0.8h-0.8zM466.9 249.0h0.8v0.8h-0.8zM464.6 266.7h0.8v0.8h-0.8zM472.6 249.1h0.8v0.8h-0.8zM480.2 253.0h0.8v0.8h-0.8zM457.9 257.8h0.8v0.8h-0.8zM481.8 232.6h0.8v0.8h-0.8zM473.5 256.3h0.8v0.8h-0.8zM474.9 269.9h0.8v0.8h-0.8zM468.3 269.2h0.8v0.8h-0.8zM471.8 234.3h0.8v0.8h-0.8zM470.2 234.4h0.8v0.8h-0.8zM431.2 264.7h0.8v0.8h-0.8zM462.0 253.4h0.8v0.8h-0.8zM469.3 257.8h0.8v0.8h-0.8zM469.4 252.4h0.8v0.8h-0.8zM473.9 233.2h0.8v0.8h-0.8zM458.6 261.8h0.8v0.8h-0.8zM478.1 260.2h0.8v0.8h-0.8zM465.0 246.0h0.8v0.8h-0.8zM470.9 258.5h0.8v0.8h-0.8zM461.8 249.5h0.8v0.8h-0.8zM475.4 259.6h0.8v0.8h-0.8zM423.6 262.1h0.8v0.8h-0.8zM455.9 257.0h0.8v0.8h-0.8zM452.2 247.8h0.8v0.8h-0.8zM475.3 256.4h0.8v0.8h-0.8zM474.8 243.8h0.8v0.8h-0.8zM465.8 262.4h0.8v0.8h-0.8zM457.4 264.4h0.8v0.8h-0.8zM427.1 258.8h0.8v0.8h-0.8zM465.8 234.0h0.8v0.8h-0.8zM453.7 255.2h0.8v0.8h-0.8zM466.9 257.8h0.8v0.8h-0.8zM473.1 247.4h0.8v0.8h-0.8zM463.8 233.6h0.8v0.8h-0.8zM469.8 259.5h0.8v0.8h-0.8zM458.6 234.0h0.8v0.8h-0.8zM429.6 249.3h0.8v0.8h-0.8zM439.8 254.7h0.8v0.8h-0.8zM462.3 241.0h0.8v0.8h-0.8zM463.0 244.8h0.8v0.8h-0.8zM477.1 229.2h0.8v0.8h-0.8zM463.6 257.1h0.8v0.8h-0.8zM470.0 271.7h0.8v0.8h-0.8zM434.0 254.5h0.8v0.8h-0.8zM473.7 253.6h0.8v0.8h-0.8zM478.1 260.6h0.8v0.8h-0.8zM475.1 258.5h0.8v0.8h-0.8zM459.3 259.8h0.8v0.8h-0.8zM482.2 240.1h0.8v0.8h-0.8zM459.1 251.4h0.8v0.8h-0.8zM478.9 248.8h0.8v0.8h-0.8zM479.8 251.6h0.8v0.8h-0.8zM463.0 263.8h0.8v0.8h-0.8zM442.2 262.9h0.8v0.8h-0.8zM472.8 270.2h0.8v0.8h-0.8zM419.8 265.0h0.8v0.8h-0.8zM462.2 253.6h0.8v0.8h-0.8zM455.5 255.9h0.8v0.8h-0.8zM471.5 253.6h0.8v0.8h-0.8zM479.4 224.0h0.8v0.8h-0.8zM472.1 264.9h0.8v0.8h-0.8zM452.1 260.5h0.8v0.8h-0.8zM464.6 242.3h0.8v0.8h-0.8zM445.3 258.8h0.8v0.8h-0.8zM466.3 246.5h0.8v0.8h-0.8zM470.9 249.5h0.8v0.8h-0.8zM468.6 262.0h0.8v0.8h-0.8zM495.0 264.9h0.8v0.8h-0.8zM490.0 258.0h0.8v0.8h-0.8zM471.7 236.8h0.8v0.8h-0.8zM466.8 250.8h0.8v0.8h-0.8zM476.9 261.3h0.8v0.8h-0.8zM434.9 249.5h0.8v0.8h-0.8zM456.1 254.6h0.8v0.8h-0.8zM463.9 253.7h0.8v0.8h-0.8zM475.3 250.7h0.8v0.8h-0.8zM438.5 255.5h0.8v0.8h-0.8zM467.2 238.3h0.8v0.8h-0.8zM462.8 250.7h0.8v0.8h-0.8zM464.0 251.1h0.8v0.8h-0.8zM475.3 257.9h0.8v0.8h-0.8zM429.7 252.2h0.8v0.8h-0.8zM435.5 256.1h0.8v0.8h-0.8zM472.5 233.4h0.8v0.8h-0.8zM459.4 257.4h0.8v0.8h-0.8zM468.1 229.5h0.8v0.8h-0.8zM466.8 252.0h0.8v0.8h-0.8zM476.7 256.8h0.8v0.8h-0.8zM428.2 260.2h0.8v0.8h-0.8zM472.9 270.7h0.8v0.8h-0.8zM444.4 253.8h0.8v0.8h-0.8zM460.8 233.2h0.8v0.8h-0.8zM469.5 250.5h0.8v0.8h-0.8zM478.5 247.6h0.8v0.8h-0.8zM455.3 266.5h0.8v0.8h-0.8zM481.5 229.7h0.8v0.8h-0.8zM466.5 250.7h0.8v0.8h-0.8zM467.9 267.5h0.8v0.8h-0.8zM434.2 257.6h0.8v0.8h-0.8zM473.8 242.3h0.8v0.8h-0.8zM474.3 247.2h0.8v0.8h-0.8zM470.2 256.7h0.8v0.8h-0.8zM458.3 254.9h0.8v0.8h-0.8zM463.9 257.3h0.8v0.8h-0.8zM435.5 262.0h0.8v0.8h-0.8zM443.7 249.8h0.8v0.8h-0.8zM446.4 253.9h0.8v0.8h-0.8zM469.3 224.5h0.8v0.8h-0.8zM459.4 257.7h0.8v0.8h-0.8zM462.8 267.2h0.8v0.8h-0.8zM458.3 271.0h0.8v0.8h-0.8zM466.9 259.1h0.8v0.8h-0.8zM469.2 255.4h0.8v0.8h-0.8zM464.3 235.2h0.8v0.8h-0.8zM434.6 250.5h0.8v0.8h-0.8zM430.7 259.0h0.8v0.8h-0.8zM461.8 254.1h0.8v0.8h-0.8zM470.7 255.9h0.8v0.8h-0.8zM469.5 241.1h0.8v0.8h-0.8zM463.8 249.6h0.8v0.8h-0.8zM458.0 249.1h0.8v0.8h-0.8zM472.5 232.7h0.8v0.8h-0.8zM461.0 263.9h0.8v0.8h-0.8zM472.2 242.0h0.8v0.8h-0.8zM449.4 254.6h0.8v0.8h-0.8zM469.3 254.1h0.8v0.8h-0.8zM460.0 267.6h0.8v0.8h-0.8zM462.3 262.7h0.8v0.8h-0.8zM462.5 244.3h0.8v0.8h-0.8zM451.6 267.6h0.8v0.8h-0.8zM440.0 262.9h0.8v0.8h-0.8zM442.5 261.9h0.8v0.8h-0.8zM467.2 261.7h0.8v0.8h-0.8zM467.2 268.5h0.8v0.8h-0.8zM473.5 265.1h0.8v0.8h-0.8zM453.3 260.5h0.8v0.8h-0.8zM459.9 255.8h0.8v0.8h-0.8zM462.6 258.0h0.8v0.8h-0.8zM484.2 265.0h0.8v0.8h-0.8zM428.6 248.9h0.8v0.8h-0.8zM463.6 264.1h0.8v0.8h-0.8zM475.2 259.1h0.8v0.8h-0.8zM472.3 255.2h0.8v0.8h-0.8zM434.9 257.2h0.8v0.8h-0.8zM467.8 261.0h0.8v0.8h-0.8zM465.6 242.4h0.8v0.8h-0.8zM484.6 251.4h0.8v0.8h-0.8zM478.8 243.0h0.8v0.8h-0.8zM430.7 254.2h0.8v0.8h-0.8zM473.7 258.7h0.8v0.8h-0.8zM472.4 253.9h0.8v0.8h-0.8zM465.4 258.5h0.8v0.8h-0.8zM462.0 254.4h0.8v0.8h-0.8zM480.9 264.4h0.8v0.8h-0.8zM442.3 262.5h0.8v0.8h-0.8zM475.5 249.1h0.8v0.8h-0.8zM465.3 255.0h0.8v0.8h-0.8zM469.6 270.3h0.8v0.8h-0.8zM478.0 253.7h0.8v0.8h-0.8zM428.5 246.6h0.8v0.8h-0.8zM467.9 231.6h0.8v0.8h-0.8zM468.2 249.9h0.8v0.8h-0.8zM478.5 269.2h0.8v0.8h-0.8zM460.5 256.5h0.8v0.8h-0.8zM470.9 249.7h0.8v0.8h-0.8zM471.0 231.0h0.8v0.8h-0.8zM466.2 254.7h0.8v0.8h-0.8zM476.8 241.1h0.8v0.8h-0.8zM463.3 245.5h0.8v0.8h-0.8zM479.6 258.2h0.8v0.8h-0.8zM447.6 261.9h0.8v0.8h-0.8zM452.8 267.3h0.8v0.8h-0.8zM446.0 263.5h0.8v0.8h-0.8zM461.8 265.6h0.8v0.8h-0.8zM441.5 255.8h0.8v0.8h-0.8zM426.6 254.8h0.8v0.8h-0.8zM473.3 253.1h0.8v0.8h-0.8zM480.3 266.1h0.8v0.8h-0.8zM436.9 262.9h0.8v0.8h-0.8zM485.2 262.6h0.8v0.8h-0.8zM469.3 240.6h0.8v0.8h-0.8zM470.2 243.5h0.8v0.8h-0.8zM441.5 262.3h0.8v0.8h-0.8zM464.0 258.1h0.8v0.8h-0.8zM450.0 266.5h0.8v0.8h-0.8zM475.4 243.9h0.8v0.8h-0.8zM482.5 244.4h0.8v0.8h-0.8zM481.3 242.2h0.8v0.8h-0.8zM474.5 241.6h0.8v0.8h-0.8zM470.2 240.7h0.8v0.8h-0.8zM480.9 271.4h0.8v0.8h-0.8zM441.9 248.1h0.8v0.8h-0.8zM421.0 263.8h0.8v0.8h-0.8zM479.9 256.9h0.8v0.8h-0.8zM471.4 242.5h0.8v0.8h-0.8zM468.0 271.8h0.8v0.8h-0.8zM459.9 263.0h0.8v0.8h-0.8zM462.7 245.9h0.8v0.8h-0.8zM446.2 257.7h0.8v0.8h-0.8zM471.5 255.1h0.8v0.8h-0.8zM451.1 253.7h0.8v0.8h-0.8zM473.3 252.3h0.8v0.8h-0.8zM458.1 251.7h0.8v0.8h-0.8zM475.4 252.9h0.8v0.8h-0.8zM466.9 260.6h0.8v0.8h-0.8zM464.9 245.4h0.8v0.8h-0.8zM466.6 269.6h0.8v0.8h-0.8zM456.4 265.1h0.8v0.8h-0.8zM460.4 242.4h0.8v0.8h-0.8zM446.5 256.3h0.8v0.8h-0.8zM427.8 254.3h0.8v0.8h-0.8zM468.3 253.9h0.8v0.8h-0.8zM419.5 253.4h0.8v0.8h-0.8zM471.4 237.4h0.8v0.8h-0.8zM463.8 260.2h0.8v0.8h-0.8zM481.8 235.5h0.8v0.8h-0.8zM489.8 263.3h0.8v0.8h-0.8zM450.4 259.2h0.8v0.8h-0.8zM458.9 253.3h0.8v0.8h-0.8zM422.5 258.2h0.8v0.8h-0.8zM460.3 255.9h0.8v0.8h-0.8zM463.7 265.0h0.8v0.8h-0.8zM471.7 238.2h0.8v0.8h-0.8zM467.8 235.6h0.8v0.8h-0.8zM453.3 256.6h0.8v0.8h-0.8zM434.6 261.6h0.8v0.8h-0.8zM466.2 251.3h0.8v0.8h-0.8zM480.1 266.4h0.8v0.8h-0.8zM473.9 237.5h0.8v0.8h-0.8zM474.0 251.3h0.8v0.8h-0.8zM442.5 264.5h0.8v0.8h-0.8zM431.1 262.3h0.8v0.8h-0.8zM468.7 234.9h0.8v0.8h-0.8zM462.2 259.5h0.8v0.8h-0.8zM474.5 237.1h0.8v0.8h-0.8zM465.6 240.7h0.8v0.8h-0.8zM463.3 243.5h0.8v0.8h-0.8zM468.4 270.3h0.8v0.8h-0.8zM468.4 246.7h0.8v0.8h-0.8zM464.4 246.6h0.8v0.8h-0.8zM469.4 253.9h0.8v0.8h-0.8zM477.6 252.8h0.8v0.8h-0.8zM465.8 252.9h0.8v0.8h-0.8zM465.9 247.6h0.8v0.8h-0.8zM483.9 258.6h0.8v0.8h-0.8zM425.2 259.8h0.8v0.8h-0.8zM479.5 262.5h0.8v0.8h-0.8zM440.5 262.7h0.8v0.8h-0.8zM469.8 268.2h0.8v0.8h-0.8zM463.2 240.5h0.8v0.8h-0.8zM453.2 255.8h0.8v0.8h-0.8zM471.3 249.3h0.8v0.8h-0.8zM466.8 247.5h0.8v0.8h-0.8zM421.0 252.2h0.8v0.8h-0.8zM464.9 258.5h0.8v0.8h-0.8zM479.0 254.3h0.8v0.8h-0.8zM464.6 233.1h0.8v0.8h-0.8zM470.1 256.3h0.8v0.8h-0.8zM457.0 266.7h0.8v0.8h-0.8zM470.9 267.1h0.8v0.8h-0.8zM457.1 263.9h0.8v0.8h-0.8zM469.8 262.4h0.8v0.8h-0.8zM457.2 248.0h0.8v0.8h-0.8zM457.4 267.8h0.8v0.8h-0.8zM462.6 243.7h0.8v0.8h-0.8zM451.0 246.0h0.8v0.8h-0.8zM458.2 266.4h0.8v0.8h-0.8zM433.9 260.2h0.8v0.8h-0.8zM473.6 265.7h0.8v0.8h-0.8zM470.2 249.1h0.8v0.8h-0.8zM431.8 259.4h0.8v0.8h-0.8zM470.8 257.7h0.8v0.8h-0.8zM453.3 258.3h0.8v0.8h-0.8zM429.3 264.1h0.8v0.8h-0.8zM469.3 267.3h0.8v0.8h-0.8zM482.9 237.5h0.8v0.8h-0.8zM476.1 268.9h0.8v0.8h-0.8zM460.9 249.3h0.8v0.8h-0.8zM476.6 220.4h0.8v0.8h-0.8zM450.8 264.1h0.8v0.8h-0.8zM458.1 249.3h0.8v0.8h-0.8zM453.0 262.2h0.8v0.8h-0.8zM470.5 240.3h0.8v0.8h-0.8zM457.5 269.7h0.8v0.8h-0.8zM459.8 254.5h0.8v0.8h-0.8zM469.9 269.7h0.8v0.8h-0.8zM432.5 260.0h0.8v0.8h-0.8zM468.1 265.1h0.8v0.8h-0.8zM445.5 260.3h0.8v0.8h-0.8zM462.9 270.1h0.8v0.8h-0.8zM472.3 231.6h0.8v0.8h-0.8zM477.9 230.3h0.8v0.8h-0.8zM475.7 225.9h0.8v0.8h-0.8zM460.0 267.2h0.8v0.8h-0.8zM474.7 268.2h0.8v0.8h-0.8zM435.7 249.4h0.8v0.8h-0.8zM465.2 240.0h0.8v0.8h-0.8zM473.7 252.4h0.8v0.8h-0.8zM429.1 253.2h0.8v0.8h-0.8zM481.0 270.1h0.8v0.8h-0.8zM447.3 254.8h0.8v0.8h-0.8zM486.4 247.4h0.8v0.8h-0.8zM471.2 260.5h0.8v0.8h-0.8zM464.9 264.7h0.8v0.8h-0.8zM467.8 250.1h0.8v0.8h-0.8zM459.6 260.5h0.8v0.8h-0.8zM456.7 262.9h0.8v0.8h-0.8zM471.6 248.1h0.8v0.8h-0.8zM446.7 258.4h0.8v0.8h-0.8zM445.2 250.7h0.8v0.8h-0.8zM449.8 262.0h0.8v0.8h-0.8zM457.9 262.5h0.8v0.8h-0.8zM476.4 238.2h0.8v0.8h-0.8zM459.5 234.5h0.8v0.8h-0.8zM481.1 236.4h0.8v0.8h-0.8zM475.2 248.7h0.8v0.8h-0.8zM436.5 261.0h0.8v0.8h-0.8zM470.4 240.3h0.8v0.8h-0.8zM478.4 238.2h0.8v0.8h-0.8zM455.4 262.6h0.8v0.8h-0.8zM449.7 253.2h0.8v0.8h-0.8zM429.0 267.6h0.8v0.8h-0.8zM476.2 264.2h0.8v0.8h-0.8zM470.5 256.8h0.8v0.8h-0.8zM475.0 248.5h0.8v0.8h-0.8zM432.5 255.1h0.8v0.8h-0.8zM440.5 260.9h0.8v0.8h-0.8zM479.6 229.4h0.8v0.8h-0.8zM471.4 261.9h0.8v0.8h-0.8zM443.9 258.8h0.8v0.8h-0.8zM443.5 258.2h0.8v0.8h-0.8zM465.6 261.3h0.8v0.8h-0.8zM473.0 257.4h0.8v0.8h-0.8zM469.7 253.9h0.8v0.8h-0.8zM470.8 245.8h0.8v0.8h-0.8zM428.2 258.4h0.8v0.8h-0.8zM463.6 271.8h0.8v0.8h-0.8zM434.5 260.3h0.8v0.8h-0.8zM470.0 248.3h0.8v0.8h-0.8zM471.7 254.4h0.8v0.8h-0.8zM455.0 266.0h0.8v0.8h-0.8zM466.6 248.9h0.8v0.8h-0.8zM469.8 270.3h0.8v0.8h-0.8zM460.2 255.0h0.8v0.8h-0.8zM441.0 259.9h0.8v0.8h-0.8zM468.0 251.8h0.8v0.8h-0.8zM471.5 240.4h0.8v0.8h-0.8zM470.1 251.3h0.8v0.8h-0.8zM468.6 250.1h0.8v0.8h-0.8zM479.0 265.8h0.8v0.8h-0.8zM472.5 262.1h0.8v0.8h-0.8zM469.8 270.0h0.8v0.8h-0.8zM453.4 252.6h0.8v0.8h-0.8zM437.5 256.4h0.8v0.8h-0.8zM438.8 262.1h0.8v0.8h-0.8zM440.4 253.9h0.8v0.8h-0.8zM474.2 258.1h0.8v0.8h-0.8zM480.3 252.3h0.8v0.8h-0.8zM473.1 259.7h0.8v0.8h-0.8zM432.4 249.8h0.8v0.8h-0.8zM468.3 268.0h0.8v0.8h-0.8zM461.4 269.0h0.8v0.8h-0.8zM460.0 253.4h0.8v0.8h-0.8zM443.2 253.2h0.8v0.8h-0.8zM467.2 243.0h0.8v0.8h-0.8zM459.5 250.3h0.8v0.8h-0.8zM464.5 262.6h0.8v0.8h-0.8zM462.6 253.1h0.8v0.8h-0.8zM477.7 248.2h0.8v0.8h-0.8zM460.8 240.5h0.8v0.8h-0.8zM469.0 244.2h0.8v0.8h-0.8zM475.4 260.5h0.8v0.8h-0.8zM460.5 269.2h0.8v0.8h-0.8zM470.2 255.0h0.8v0.8h-0.8zM460.4 249.2h0.8v0.8h-0.8zM460.1 249.6h0.8v0.8h-0.8zM467.8 248.7h0.8v0.8h-0.8zM465.6 246.1h0.8v0.8h-0.8zM441.2 253.1h0.8v0.8h-0.8zM424.7 258.5h0.8v0.8h-0.8zM461.9 260.8h0.8v0.8h-0.8zM476.1 261.1h0.8v0.8h-0.8zM455.0 254.1h0.8v0.8h-0.8zM457.3 244.5h0.8v0.8h-0.8zM457.9 257.1h0.8v0.8h-0.8zM461.8 260.0h0.8v0.8h-0.8zM443.1 265.7h0.8v0.8h-0.8zM468.9 245.7h0.8v0.8h-0.8zM429.1 247.3h0.8v0.8h-0.8zM464.8 244.8h0.8v0.8h-0.8zM463.5 239.2h0.8v0.8h-0.8zM451.5 267.7h0.8v0.8h-0.8zM457.0 248.7h0.8v0.8h-0.8zM476.9 243.1h0.8v0.8h-0.8zM463.7 273.0h0.8v0.8h-0.8zM468.1 250.9h0.8v0.8h-0.8zM473.0 229.2h0.8v0.8h-0.8zM472.0 244.3h0.8v0.8h-0.8zM459.8 251.9h0.8v0.8h-0.8zM487.5 267.4h0.8v0.8h-0.8zM433.5 265.6h0.8v0.8h-0.8zM442.0 262.0h0.8v0.8h-0.8zM464.5 251.4h0.8v0.8h-0.8zM441.4 260.5h0.8v0.8h-0.8zM468.8 252.7h0.8v0.8h-0.8zM437.6 255.5h0.8v0.8h-0.8zM466.3 258.8h0.8v0.8h-0.8zM439.8 257.8h0.8v0.8h-0.8zM433.6 255.0h0.8v0.8h-0.8zM444.1 261.2h0.8v0.8h-0.8zM469.9 260.3h0.8v0.8h-0.8zM435.6 264.8h0.8v0.8h-0.8zM470.2 240.0h0.8v0.8h-0.8zM463.7 268.6h0.8v0.8h-0.8zM476.9 262.4h0.8v0.8h-0.8zM440.4 258.0h0.8v0.8h-0.8zM431.4 258.1h0.8v0.8h-0.8zM469.7 262.9h0.8v0.8h-0.8zM470.2 250.4h0.8v0.8h-0.8zM450.7 259.9h0.8v0.8h-0.8zM465.0 271.7h0.8v0.8h-0.8zM456.2 256.6h0.8v0.8h-0.8zM471.2 257.2h0.8v0.8h-0.8zM473.9 235.2h0.8v0.8h-0.8zM456.1 246.2h0.8v0.8h-0.8zM478.0 249.1h0.8v0.8h-0.8zM478.7 253.7h0.8v0.8h-0.8zM457.6 247.2h0.8v0.8h-0.8zM463.9 256.5h0.8v0.8h-0.8zM468.5 238.4h0.8v0.8h-0.8zM456.0 250.6h0.8v0.8h-0.8zM480.8 244.9h0.8v0.8h-0.8zM447.5 263.4h0.8v0.8h-0.8zM469.9 263.3h0.8v0.8h-0.8zM445.0 262.6h0.8v0.8h-0.8zM463.2 239.4h0.8v0.8h-0.8zM464.6 265.1h0.8v0.8h-0.8zM446.1 257.9h0.8v0.8h-0.8zM423.2 254.1h0.8v0.8h-0.8zM485.0 262.0h0.8v0.8h-0.8zM470.6 246.1h0.8v0.8h-0.8zM473.2 261.1h0.8v0.8h-0.8zM444.2 252.4h0.8v0.8h-0.8zM464.2 246.1h0.8v0.8h-0.8zM475.7 240.4h0.8v0.8h-0.8zM440.2 257.4h0.8v0.8h-0.8zM465.1 241.0h0.8v0.8h-0.8zM445.0 267.5h0.8v0.8h-0.8zM469.9 264.0h0.8v0.8h-0.8zM489.6 262.6h0.8v0.8h-0.8zM462.1 250.4h0.8v0.8h-0.8zM460.8 259.0h0.8v0.8h-0.8zM465.1 256.5h0.8v0.8h-0.8zM474.3 235.2h0.8v0.8h-0.8zM490.8 263.7h0.8v0.8h-0.8zM474.9 271.2h0.8v0.8h-0.8zM478.0 243.2h0.8v0.8h-0.8zM475.2 264.6h0.8v0.8h-0.8zM459.0 252.5h0.8v0.8h-0.8zM463.3 246.1h0.8v0.8h-0.8zM482.5 256.8h0.8v0.8h-0.8zM469.0 248.1h0.8v0.8h-0.8zM471.3 257.3h0.8v0.8h-0.8zM428.0 260.8h0.8v0.8h-0.8zM431.7 252.3h0.8v0.8h-0.8zM463.2 259.0h0.8v0.8h-0.8zM474.4 250.9h0.8v0.8h-0.8zM472.6 269.1h0.8v0.8h-0.8zM483.1 261.5h0.8v0.8h-0.8zM474.1 242.6h0.8v0.8h-0.8zM464.9 261.3h0.8v0.8h-0.8zM422.0 255.4h0.8v0.8h-0.8zM467.9 245.5h0.8v0.8h-0.8zM466.6 250.2h0.8v0.8h-0.8zM471.1 244.2h0.8v0.8h-0.8zM460.5 262.5h0.8v0.8h-0.8zM458.9 258.0h0.8v0.8h-0.8zM421.5 254.9h0.8v0.8h-0.8zM421.3 254.1h0.8v0.8h-0.8zM474.0 240.4h0.8v0.8h-0.8zM482.2 253.3h0.8v0.8h-0.8zM461.2 270.1h0.8v0.8h-0.8zM469.9 266.9h0.8v0.8h-0.8zM472.0 234.6h0.8v0.8h-0.8zM477.3 235.3h0.8v0.8h-0.8zM477.5 240.6h0.8v0.8h-0.8zM468.9 254.3h0.8v0.8h-0.8zM463.9 261.8h0.8v0.8h-0.8zM477.2 238.6h0.8v0.8h-0.8zM481.7 260.9h0.8v0.8h-0.8zM470.3 259.6h0.8v0.8h-0.8zM424.2 243.4h0.8v0.8h-0.8zM471.9 263.6h0.8v0.8h-0.8zM482.1 262.5h0.8v0.8h-0.8zM465.4 261.5h0.8v0.8h-0.8zM467.1 254.1h0.8v0.8h-0.8zM420.7 259.5h0.8v0.8h-0.8zM469.8 244.1h0.8v0.8h-0.8zM477.5 262.1h0.8v0.8h-0.8zM462.7 270.2h0.8v0.8h-0.8zM473.2 236.2h0.8v0.8h-0.8zM453.4 251.6h0.8v0.8h-0.8zM466.7 254.9h0.8v0.8h-0.8zM475.5 267.3h0.8v0.8h-0.8zM480.7 237.7h0.8v0.8h-0.8zM476.8 253.7h0.8v0.8h-0.8zM421.7 262.2h0.8v0.8h-0.8zM442.2 257.4h0.8v0.8h-0.8zM478.4 236.3h0.8v0.8h-0.8zM471.5 259.8h0.8v0.8h-0.8zM464.2 239.1h0.8v0.8h-0.8zM461.0 239.1h0.8v0.8h-0.8zM465.1 265.0h0.8v0.8h-0.8zM448.0 253.8h0.8v0.8h-0.8zM471.8 249.9h0.8v0.8h-0.8zM434.8 258.2h0.8v0.8h-0.8zM458.4 251.5h0.8v0.8h-0.8zM458.6 263.1h0.8v0.8h-0.8zM466.3 257.8h0.8v0.8h-0.8zM464.0 255.7h0.8v0.8h-0.8zM458.3 258.2h0.8v0.8h-0.8zM445.0 243.7h0.8v0.8h-0.8zM455.7 266.3h0.8v0.8h-0.8zM452.5 264.8h0.8v0.8h-0.8zM481.1 232.1h0.8v0.8h-0.8zM482.9 235.6h0.8v0.8h-0.8zM467.7 257.3h0.8v0.8h-0.8zM473.7 263.7h0.8v0.8h-0.8zM446.5 254.7h0.8v0.8h-0.8zM465.9 253.8h0.8v0.8h-0.8zM465.5 241.3h0.8v0.8h-0.8zM465.5 265.1h0.8v0.8h-0.8zM453.1 256.7h0.8v0.8h-0.8zM461.9 270.4h0.8v0.8h-0.8zM481.0 271.2h0.8v0.8h-0.8zM479.0 255.8h0.8v0.8h-0.8zM463.9 244.8h0.8v0.8h-0.8zM450.1 248.7h0.8v0.8h-0.8zM472.0 242.3h0.8v0.8h-0.8zM447.9 264.1h0.8v0.8h-0.8zM459.0 255.6h0.8v0.8h-0.8zM447.4 257.7h0.8v0.8h-0.8zM461.4 248.5h0.8v0.8h-0.8zM470.1 252.4h0.8v0.8h-0.8zM446.6 255.6h0.8v0.8h-0.8zM463.5 257.3h0.8v0.8h-0.8zM451.6 266.2h0.8v0.8h-0.8zM433.2 245.4h0.8v0.8h-0.8zM455.0 254.8h0.8v0.8h-0.8zM428.1 261.0h0.8v0.8h-0.8zM467.7 242.1h0.8v0.8h-0.8zM459.6 263.7h0.8v0.8h-0.8zM451.8 259.6h0.8v0.8h-0.8zM482.9 252.4h0.8v0.8h-0.8zM463.0 246.3h0.8v0.8h-0.8zM465.3 250.9h0.8v0.8h-0.8zM461.0 242.1h0.8v0.8h-0.8zM481.2 261.0h0.8v0.8h-0.8zM471.0 245.8h0.8v0.8h-0.8zM471.6 244.5h0.8v0.8h-0.8zM437.7 250.6h0.8v0.8h-0.8zM465.5 251.7h0.8v0.8h-0.8zM436.2 249.0h0.8v0.8h-0.8zM475.4 243.9h0.8v0.8h-0.8zM461.1 254.6h0.8v0.8h-0.8zM471.9 266.1h0.8v0.8h-0.8zM430.2 271.2h0.8v0.8h-0.8zM429.2 262.5h0.8v0.8h-0.8zM469.2 228.3h0.8v0.8h-0.8zM441.6 255.3h0.8v0.8h-0.8zM473.8 244.0h0.8v0.8h-0.8zM471.9 252.7h0.8v0.8h-0.8zM467.3 263.8h0.8v0.8h-0.8zM472.9 270.0h0.8v0.8h-0.8zM470.9 262.6h0.8v0.8h-0.8zM450.1 252.2h0.8v0.8h-0.8zM437.7 252.7h0.8v0.8h-0.8zM449.2 254.3h0.8v0.8h-0.8zM480.7 249.9h0.8v0.8h-0.8zM430.4 259.2h0.8v0.8h-0.8zM459.5 254.4h0.8v0.8h-0.8zM471.9 258.5h0.8v0.8h-0.8zM439.7 255.3h0.8v0.8h-0.8zM479.6 240.9h0.8v0.8h-0.8zM441.6 265.0h0.8v0.8h-0.8zM476.3 258.2h0.8v0.8h-0.8zM467.4 256.6h0.8v0.8h-0.8zM470.3 248.8h0.8v0.8h-0.8zM470.4 249.6h0.8v0.8h-0.8zM466.6 248.2h0.8v0.8h-0.8zM464.6 273.7h0.8v0.8h-0.8zM461.9 246.3h0.8v0.8h-0.8zM460.5 255.7h0.8v0.8h-0.8zM440.0 254.9h0.8v0.8h-0.8zM472.0 251.2h0.8v0.8h-0.8zM474.9 244.8h0.8v0.8h-0.8zM478.0 244.8h0.8v0.8h-0.8zM451.4 254.5h0.8v0.8h-0.8zM441.9 258.9h0.8v0.8h-0.8zM462.3 241.5h0.8v0.8h-0.8zM448.4 243.2h0.8v0.8h-0.8zM469.2 235.9h0.8v0.8h-0.8zM482.1 235.8h0.8v0.8h-0.8zM446.5 267.7h0.8v0.8h-0.8zM467.5 259.1h0.8v0.8h-0.8zM430.4 256.5h0.8v0.8h-0.8zM465.2 268.2h0.8v0.8h-0.8zM463.8 254.1h0.8v0.8h-0.8zM474.1 253.7h0.8v0.8h-0.8zM464.2 258.6h0.8v0.8h-0.8zM471.9 250.0h0.8v0.8h-0.8zM452.3 256.6h0.8v0.8h-0.8zM461.3 265.9h0.8v0.8h-0.8zM466.0 273.2h0.8v0.8h-0.8zM466.0 245.0h0.8v0.8h-0.8zM470.9 261.7h0.8v0.8h-0.8zM465.3 242.1h0.8v0.8h-0.8zM474.8 270.0h0.8v0.8h-0.8zM466.9 271.3h0.8v0.8h-0.8zM463.4 265.1h0.8v0.8h-0.8zM463.2 263.0h0.8v0.8h-0.8zM456.0 251.7h0.8v0.8h-0.8zM470.9 265.4h0.8v0.8h-0.8zM467.7 247.3h0.8v0.8h-0.8zM478.3 230.3h0.8v0.8h-0.8zM448.9 255.1h0.8v0.8h-0.8zM466.8 227.9h0.8v0.8h-0.8zM473.5 260.3h0.8v0.8h-0.8zM461.6 245.6h0.8v0.8h-0.8zM472.6 249.7h0.8v0.8h-0.8zM461.4 267.4h0.8v0.8h-0.8zM477.4 259.1h0.8v0.8h-0.8zM470.8 249.0h0.8v0.8h-0.8zM469.7 273.0h0.8v0.8h-0.8zM473.6 227.9h0.8v0.8h-0.8zM429.2 256.5h0.8v0.8h-0.8zM481.4 269.9h0.8v0.8h-0.8zM434.4 256.1h0.8v0.8h-0.8zM439.3 254.6h0.8v0.8h-0.8zM462.4 247.9h0.8v0.8h-0.8zM470.4 264.3h0.8v0.8h-0.8zM478.6 248.2h0.8v0.8h-0.8zM464.4 271.1h0.8v0.8h-0.8zM469.5 258.5h0.8v0.8h-0.8zM483.5 250.2h0.8v0.8h-0.8zM463.5 256.3h0.8v0.8h-0.8zM442.1 256.4h0.8v0.8h-0.8zM481.3 247.8h0.8v0.8h-0.8zM439.4 261.0h0.8v0.8h-0.8zM475.8 246.9h0.8v0.8h-0.8zM466.5 256.4h0.8v0.8h-0.8zM466.0 254.9h0.8v0.8h-0.8zM486.2 238.5h0.8v0.8h-0.8zM452.9 265.0h0.8v0.8h-0.8zM477.2 253.1h0.8v0.8h-0.8zM458.1 243.5h0.8v0.8h-0.8zM461.0 262.9h0.8v0.8h-0.8zM449.5 255.0h0.8v0.8h-0.8zM468.3 269.3h0.8v0.8h-0.8zM477.4 208.8h0.8v0.8h-0.8zM459.1 263.2h0.8v0.8h-0.8zM448.1 261.0h0.8v0.8h-0.8zM461.3 258.7h0.8v0.8h-0.8zM446.9 252.7h0.8v0.8h-0.8zM456.7 266.9h0.8v0.8h-0.8zM434.3 253.3h0.8v0.8h-0.8zM469.8 242.2h0.8v0.8h-0.8zM480.0 259.8h0.8v0.8h-0.8zM471.6 256.3h0.8v0.8h-0.8zM463.3 250.3h0.8v0.8h-0.8zM469.1 257.5h0.8v0.8h-0.8zM428.2 260.0h0.8v0.8h-0.8zM478.7 240.2h0.8v0.8h-0.8zM484.7 261.8h0.8v0.8h-0.8zM468.6 255.4h0.8v0.8h-0.8zM466.1 245.4h0.8v0.8h-0.8zM484.1 258.4h0.8v0.8h-0.8zM468.1 264.7h0.8v0.8h-0.8zM465.2 254.7h0.8v0.8h-0.8zM453.2 259.7h0.8v0.8h-0.8zM448.7 249.3h0.8v0.8h-0.8zM453.5 254.8h0.8v0.8h-0.8zM471.1 246.7h0.8v0.8h-0.8zM443.0 258.9h0.8v0.8h-0.8zM486.3 265.2h0.8v0.8h-0.8zM469.6 243.6h0.8v0.8h-0.8zM433.3 262.1h0.8v0.8h-0.8zM468.6 248.1h0.8v0.8h-0.8zM464.0 237.9h0.8v0.8h-0.8zM453.3 255.5h0.8v0.8h-0.8zM477.1 231.2h0.8v0.8h-0.8zM465.6 263.1h0.8v0.8h-0.8zM427.6 254.9h0.8v0.8h-0.8zM484.1 269.5h0.8v0.8h-0.8zM463.3 262.9h0.8v0.8h-0.8zM479.9 225.8h0.8v0.8h-0.8zM431.0 256.5h0.8v0.8h-0.8zM460.4 267.5h0.8v0.8h-0.8zM420.0 256.3h0.8v0.8h-0.8zM477.9 260.6h0.8v0.8h-0.8zM475.2 245.4h0.8v0.8h-0.8zM478.1 247.8h0.8v0.8h-0.8zM458.0 247.6h0.8v0.8h-0.8zM460.9 247.6h0.8v0.8h-0.8zM430.3 255.0h0.8v0.8h-0.8zM471.5 254.9h0.8v0.8h-0.8zM467.6 246.2h0.8v0.8h-0.8zM461.6 266.4h0.8v0.8h-0.8zM420.7 251.7h0.8v0.8h-0.8zM468.4 229.5h0.8v0.8h-0.8zM435.0 258.3h0.8v0.8h-0.8zM468.3 233.0h0.8v0.8h-0.8zM474.8 259.4h0.8v0.8h-0.8zM465.5 271.3h0.8v0.8h-0.8zM427.9 256.7h0.8v0.8h-0.8zM465.3 268.2h0.8v0.8h-0.8zM468.1 257.2h0.8v0.8h-0.8zM432.2 256.0h0.8v0.8h-0.8zM464.2 269.6h0.8v0.8h-0.8zM475.9 237.3h0.8v0.8h-0.8zM457.4 256.0h0.8v0.8h-0.8zM468.3 263.9h0.8v0.8h-0.8zM470.3 264.9h0.8v0.8h-0.8zM467.5 245.9h0.8v0.8h-0.8zM417.2 250.9h0.8v0.8h-0.8zM467.2 257.8h0.8v0.8h-0.8zM468.4 263.8h0.8v0.8h-0.8zM471.2 243.1h0.8v0.8h-0.8zM460.7 256.9h0.8v0.8h-0.8zM461.0 268.3h0.8v0.8h-0.8zM464.8 255.2h0.8v0.8h-0.8zM451.3 256.6h0.8v0.8h-0.8zM465.5 246.1h0.8v0.8h-0.8zM465.0 258.2h0.8v0.8h-0.8zM477.3 254.4h0.8v0.8h-0.8zM456.3 259.6h0.8v0.8h-0.8zM439.7 256.5h0.8v0.8h-0.8zM466.2 258.4h0.8v0.8h-0.8zM439.6 255.2h0.8v0.8h-0.8zM478.0 229.9h0.8v0.8h-0.8zM469.0 240.1h0.8v0.8h-0.8zM452.5 264.6h0.8v0.8h-0.8zM471.0 245.0h0.8v0.8h-0.8zM468.1 254.8h0.8v0.8h-0.8zM468.2 241.6h0.8v0.8h-0.8zM448.4 255.6h0.8v0.8h-0.8zM475.1 251.9h0.8v0.8h-0.8zM432.7 259.4h0.8v0.8h-0.8zM468.0 238.3h0.8v0.8h-0.8zM461.5 255.4h0.8v0.8h-0.8zM495.0 266.3h0.8v0.8h-0.8zM449.5 255.9h0.8v0.8h-0.8zM460.5 236.2h0.8v0.8h-0.8zM445.5 252.3h0.8v0.8h-0.8zM472.0 252.8h0.8v0.8h-0.8zM471.7 256.5h0.8v0.8h-0.8zM482.2 245.8h0.8v0.8h-0.8zM464.0 266.4h0.8v0.8h-0.8zM473.9 252.3h0.8v0.8h-0.8zM435.5 261.6h0.8v0.8h-0.8zM469.2 251.9h0.8v0.8h-0.8zM478.4 239.4h0.8v0.8h-0.8zM481.1 257.5h0.8v0.8h-0.8zM448.8 252.8h0.8v0.8h-0.8zM455.1 255.4h0.8v0.8h-0.8zM467.1 257.4h0.8v0.8h-0.8zM486.8 268.6h0.8v0.8h-0.8zM464.8 249.5h0.8v0.8h-0.8zM463.9 268.3h0.8v0.8h-0.8zM462.9 247.5h0.8v0.8h-0.8zM466.1 253.1h0.8v0.8h-0.8zM466.3 242.2h0.8v0.8h-0.8zM427.4 258.7h0.8v0.8h-0.8zM463.7 265.1h0.8v0.8h-0.8zM467.8 256.4h0.8v0.8h-0.8zM474.0 219.5h0.8v0.8h-0.8zM436.6 259.7h0.8v0.8h-0.8zM478.3 246.4h0.8v0.8h-0.8zM464.4 259.9h0.8v0.8h-0.8zM434.6 256.4h0.8v0.8h-0.8zM473.8 260.4h0.8v0.8h-0.8zM474.7 253.9h0.8v0.8h-0.8zM462.0 272.9h0.8v0.8h-0.8zM466.5 247.3h0.8v0.8h-0.8zM463.7 230.5h0.8v0.8h-0.8zM464.0 238.3h0.8v0.8h-0.8zM458.2 267.3h0.8v0.8h-0.8zM469.3 251.0h0.8v0.8h-0.8zM478.5 271.2h0.8v0.8h-0.8zM457.5 239.6h0.8v0.8h-0.8zM451.4 263.1h0.8v0.8h-0.8zM464.9 238.2h0.8v0.8h-0.8zM456.0 244.3h0.8v0.8h-0.8zM468.4 250.5h0.8v0.8h-0.8zM460.5 253.4h0.8v0.8h-0.8zM442.0 261.3h0.8v0.8h-0.8zM470.8 244.4h0.8v0.8h-0.8zM462.1 270.4h0.8v0.8h-0.8zM463.2 264.7h0.8v0.8h-0.8zM473.9 240.2h0.8v0.8h-0.8zM478.9 265.5h0.8v0.8h-0.8zM466.0 257.1h0.8v0.8h-0.8zM473.1 258.2h0.8v0.8h-0.8zM478.3 245.5h0.8v0.8h-0.8zM461.0 263.7h0.8v0.8h-0.8zM465.0 248.5h0.8v0.8h-0.8zM475.4 262.4h0.8v0.8h-0.8zM469.7 260.1h0.8v0.8h-0.8zM454.8 259.7h0.8v0.8h-0.8zM465.2 253.0h0.8v0.8h-0.8zM502.9 254.6h0.8v0.8h-0.8zM472.6 252.8h0.8v0.8h-0.8zM468.9 251.7h0.8v0.8h-0.8zM467.2 257.4h0.8v0.8h-0.8zM463.2 263.6h0.8v0.8h-0.8zM465.1 235.1h0.8v0.8h-0.8zM471.0 258.0h0.8v0.8h-0.8zM441.2 265.2h0.8v0.8h-0.8zM437.2 259.3h0.8v0.8h-0.8zM463.1 259.2h0.8v0.8h-0.8zM486.7 273.5h0.8v0.8h-0.8zM472.3 246.9h0.8v0.8h-0.8zM441.9 249.6h0.8v0.8h-0.8zM473.7 262.8h0.8v0.8h-0.8zM471.3 244.0h0.8v0.8h-0.8zM476.2 261.4h0.8v0.8h-0.8zM433.3 257.3h0.8v0.8h-0.8zM481.9 250.9h0.8v0.8h-0.8zM482.7 245.8h0.8v0.8h-0.8zM454.4 247.2h0.8v0.8h-0.8zM477.3 224.2h0.8v0.8h-0.8zM425.9 255.9h0.8v0.8h-0.8zM457.8 260.9h0.8v0.8h-0.8zM467.5 249.6h0.8v0.8h-0.8zM477.1 239.1h0.8v0.8h-0.8zM465.6 256.3h0.8v0.8h-0.8zM460.7 253.8h0.8v0.8h-0.8zM438.5 271.8h0.8v0.8h-0.8zM457.1 266.4h0.8v0.8h-0.8zM478.2 260.0h0.8v0.8h-0.8zM464.1 252.9h0.8v0.8h-0.8zM471.5 254.6h0.8v0.8h-0.8zM474.1 254.4h0.8v0.8h-0.8zM424.7 261.8h0.8v0.8h-0.8zM445.8 258.3h0.8v0.8h-0.8zM461.0 249.1h0.8v0.8h-0.8zM460.8 250.5h0.8v0.8h-0.8zM477.7 240.7h0.8v0.8h-0.8zM474.9 232.2h0.8v0.8h-0.8zM477.2 243.1h0.8v0.8h-0.8zM475.5 249.9h0.8v0.8h-0.8zM475.7 231.1h0.8v0.8h-0.8zM439.9 263.2h0.8v0.8h-0.8zM460.6 243.8h0.8v0.8h-0.8zM421.3 253.0h0.8v0.8h-0.8zM457.9 248.1h0.8v0.8h-0.8zM473.2 251.8h0.8v0.8h-0.8zM464.9 259.3h0.8v0.8h-0.8zM474.9 241.7h0.8v0.8h-0.8zM491.3 270.5h0.8v0.8h-0.8zM473.0 238.4h0.8v0.8h-0.8zM466.9 244.9h0.8v0.8h-0.8zM443.8 263.8h0.8v0.8h-0.8zM469.9 251.5h0.8v0.8h-0.8zM447.7 249.7h0.8v0.8h-0.8zM471.5 270.8h0.8v0.8h-0.8zM470.0 254.2h0.8v0.8h-0.8zM419.8 260.1h0.8v0.8h-0.8zM469.0 271.7h0.8v0.8h-0.8zM469.7 252.8h0.8v0.8h-0.8zM469.9 264.3h0.8v0.8h-0.8zM470.9 253.5h0.8v0.8h-0.8zM481.1 239.3h0.8v0.8h-0.8zM473.9 253.6h0.8v0.8h-0.8zM472.8 224.8h0.8v0.8h-0.8zM465.3 234.9h0.8v0.8h-0.8zM476.9 267.7h0.8v0.8h-0.8zM465.5 269.1h0.8v0.8h-0.8zM443.2 257.1h0.8v0.8h-0.8zM476.1 265.4h0.8v0.8h-0.8zM442.1 254.0h0.8v0.8h-0.8zM444.2 258.1h0.8v0.8h-0.8zM423.9 266.1h0.8v0.8h-0.8zM471.9 240.0h0.8v0.8h-0.8zM434.5 257.4h0.8v0.8h-0.8zM476.1 272.0h0.8v0.8h-0.8zM447.6 255.1h0.8v0.8h-0.8zM458.6 267.4h0.8v0.8h-0.8zM474.7 267.9h0.8v0.8h-0.8zM453.8 265.2h0.8v0.8h-0.8zM481.1 257.5h0.8v0.8h-0.8zM466.0 248.9h0.8v0.8h-0.8zM476.8 266.9h0.8v0.8h-0.8zM457.9 261.6h0.8v0.8h-0.8zM441.4 252.5h0.8v0.8h-0.8zM483.0 245.6h0.8v0.8h-0.8zM463.2 251.6h0.8v0.8h-0.8zM422.1 249.1h0.8v0.8h-0.8zM460.9 255.4h0.8v0.8h-0.8zM485.2 266.3h0.8v0.8h-0.8zM485.3 265.1h0.8v0.8h-0.8zM449.4 267.6h0.8v0.8h-0.8zM479.3 265.0h0.8v0.8h-0.8zM461.9 238.9h0.8v0.8h-0.8zM474.8 255.2h0.8v0.8h-0.8zM474.8 252.2h0.8v0.8h-0.8zM438.2 249.8h0.8v0.8h-0.8zM419.3 258.6h0.8v0.8h-0.8zM463.0 253.5h0.8v0.8h-0.8zM468.3 262.9h0.8v0.8h-0.8zM457.0 269.4h0.8v0.8h-0.8zM472.2 258.1h0.8v0.8h-0.8zM466.3 270.1h0.8v0.8h-0.8zM444.3 254.9h0.8v0.8h-0.8zM473.6 247.9h0.8v0.8h-0.8zM469.8 257.3h0.8v0.8h-0.8zM466.9 265.1h0.8v0.8h-0.8zM466.5 266.0h0.8v0.8h-0.8zM476.0 253.0h0.8v0.8h-0.8zM451.7 267.5h0.8v0.8h-0.8zM470.8 247.8h0.8v0.8h-0.8zM471.6 228.6h0.8v0.8h-0.8zM462.9 252.6h0.8v0.8h-0.8zM461.4 259.6h0.8v0.8h-0.8zM466.3 261.9h0.8v0.8h-0.8zM448.6 259.6h0.8v0.8h-0.8zM461.6 257.3h0.8v0.8h-0.8zM432.1 259.2h0.8v0.8h-0.8zM441.7 262.5h0.8v0.8h-0.8zM456.8 259.0h0.8v0.8h-0.8zM433.8 257.8h0.8v0.8h-0.8zM463.2 248.0h0.8v0.8h-0.8zM436.3 256.6h0.8v0.8h-0.8zM466.8 262.7h0.8v0.8h-0.8zM441.4 258.1h0.8v0.8h-0.8zM422.1 262.2h0.8v0.8h-0.8zM425.0 255.4h0.8v0.8h-0.8zM470.0 257.1h0.8v0.8h-0.8z" fill="#dc3030" fill-opacity="0.8"/>
<path d="M482.8 213.5h0.7v0.7h-0.7zM487.5 210.9h0.7v0.7h-0.7zM490.9 208.0h0.7v0.7h-0.7zM469.8 218.2h0.7v0.7h-0.7zM478.1 215.3h0.7v0.7h-0.7zM483.3 225.5h0.7v0.7h-0.7zM487.0 221.2h0.7v0.7h-0.7zM474.4 221.5h0.7v0.7h-0.7zM479.7 206.3h0.7v0.7h-0.7zM473.8 216.7h0.7v0.7h-0.7zM483.2 217.1h0.7v0.7h-0.7zM477.1 206.2h0.7v0.7h-0.7zM467.3 215.8h0.7v0.7h-0.7zM479.9 213.1h0.7v0.7h-0.7zM479.3 211.2h0.7v0.7h-0.7zM483.1 220.5h0.7v0.7h-0.7zM476.2 214.8h0.7v0.7h-0.7zM493.8 208.4h0.7v0.7h-0.7zM485.4 214.0h0.7v0.7h-0.7zM484.7 222.8h0.7v0.7h-0.7zM477.2 214.1h0.7v0.7h-0.7zM475.9 210.9h0.7v0.7h-0.7zM470.9 207.1h0.7v0.7h-0.7zM467.0 216.3h0.7v0.7h-0.7zM478.7 218.5h0.7v0.7h-0.7zM471.1 214.7h0.7v0.7h-0.7zM482.6 221.2h0.7v0.7h-0.7zM475.9 216.1h0.7v0.7h-0.7zM483.9 220.3h0.7v0.7h-0.7zM478.7 216.9h0.7v0.7h-0.7zM473.5 217.1h0.7v0.7h-0.7zM470.8 214.7h0.7v0.7h-0.7zM475.2 209.0h0.7v0.7h-0.7zM481.3 218.8h0.7v0.7h-0.7zM471.7 221.6h0.7v0.7h-0.7zM474.6 219.4h0.7v0.7h-0.7zM475.4 215.0h0.7v0.7h-0.7zM484.6 207.7h0.7v0.7h-0.7zM474.2 210.8h0.7v0.7h-0.7zM470.5 216.9h0.7v0.7h-0.7z" fill="#c0507a" fill-opacity="0.6"/>
<path d="M464.40,257.20 C468.00,250.00 474.00,239.00 479.00,235.00 C482.00,232.50 486.00,233.00 487.50,238.00 C489.00,244.00 489.00,262.00 487.50,268.00 C486.00,273.00 481.00,274.50 478.00,272.00 C473.00,268.00 468.00,262.00 464.40,257.20 Z" fill="#ffffff" stroke="#c83434" stroke-width="1.0"/>
<path d="M468.02,256.86 C470.90,251.10 475.70,242.30 479.70,239.10 C482.10,237.10 485.30,237.50 486.50,241.50 C487.70,246.30 487.70,260.70 486.50,265.50 C485.30,269.50 481.30,270.70 478.90,268.70 C474.90,265.50 470.90,260.70 468.02,256.86 Z" fill="#ee8c8c" fill-opacity="0.45" stroke="#cf4040" stroke-width="0.7"/>
<ellipse cx="481.8" cy="256" rx="5.2" ry="14.5" fill="none" stroke="#cf4040" stroke-width="0.6"/>
<ellipse cx="481.8" cy="256" rx="4.1" ry="11.5" fill="none" stroke="#cf4040" stroke-width="0.6"/>
<ellipse cx="481.8" cy="256" rx="3.0" ry="8.8" fill="none" stroke="#cf4040" stroke-width="0.6"/>
<ellipse cx="481.8" cy="256" rx="2.1" ry="6.2" fill="none" stroke="#cf4040" stroke-width="0.6"/>
<ellipse cx="481.8" cy="256" rx="1.2" ry="3.8" fill="none" stroke="#cf4040" stroke-width="0.6"/>
<line x1="303.5" y1="277.5" x2="303.5" y2="192" stroke="#222" stroke-width="1"/>
<path d="M301.3,195 L303.8,188.5 L306.3,195 Z" fill="#222"/>
<text x="299.5" y="232.5" font-size="8.8" text-anchor="middle" font-weight="normal" fill="#3a3a3a" stroke="#3a3a3a" stroke-width="0.15" transform="rotate(-90 299.5 232.5)" textLength="20.7" lengthAdjust="spacingAndGlyphs">CD19</text>
<line x1="308.8" y1="280.5" x2="508" y2="280.5" stroke="#222" stroke-width="1"/>
<path d="M506,278.2 L513,280.7 L506,283.2 Z" fill="#222"/>
<text x="410" y="291" font-size="8.8" text-anchor="middle" font-weight="normal" fill="#3a3a3a" stroke="#3a3a3a" stroke-width="0.15" textLength="20.7" lengthAdjust="spacingAndGlyphs">CD45</text>
<rect x="309.6" y="186" width="99.1" height="89.2" fill="none" stroke="#7a7a7a" stroke-width="1"/>
<rect x="338.4" y="196.5" width="51.1" height="34" fill="none" stroke="#6a6a6a" stroke-width="0.9"/>
<rect x="453.4" y="194.4" width="46.1" height="32.6" fill="none" stroke="#666" stroke-width="0.9"/>
<rect x="415.8" y="186.3" width="95.7" height="88.5" fill="none" stroke="#7a7a7a" stroke-width="1"/>
<text x="6.8" y="325" font-size="12.5" text-anchor="start" font-weight="bold" fill="#111" stroke="#111" stroke-width="0.15">G</text>
<line x1="54.5" y1="339.5" x2="54.5" y2="445.1" stroke="#2e2e2e" stroke-width="1.2"/>
<line x1="51.6" y1="444.5" x2="54.6" y2="444.5" stroke="#3a3a3a" stroke-width="1.2"/>
<text x="48.4" y="447.7" font-size="9" text-anchor="end" font-weight="normal" fill="#3a3a3a" stroke="#3a3a3a" stroke-width="0.15" textLength="4.35" lengthAdjust="spacingAndGlyphs">0</text>
<line x1="51.6" y1="424.5" x2="54.6" y2="424.5" stroke="#3a3a3a" stroke-width="1.2"/>
<text x="48.4" y="427.4" font-size="9" text-anchor="end" font-weight="normal" fill="#3a3a3a" stroke="#3a3a3a" stroke-width="0.15" textLength="4.35" lengthAdjust="spacingAndGlyphs">5</text>
<line x1="51.6" y1="403.5" x2="54.6" y2="403.5" stroke="#3a3a3a" stroke-width="1.2"/>
<text x="48.4" y="407.1" font-size="9" text-anchor="end" font-weight="normal" fill="#3a3a3a" stroke="#3a3a3a" stroke-width="0.15" textLength="8.71" lengthAdjust="spacingAndGlyphs">10</text>
<line x1="51.6" y1="383.5" x2="54.6" y2="383.5" stroke="#3a3a3a" stroke-width="1.2"/>
<text x="48.4" y="386.8" font-size="9" text-anchor="end" font-weight="normal" fill="#3a3a3a" stroke="#3a3a3a" stroke-width="0.15" textLength="8.71" lengthAdjust="spacingAndGlyphs">15</text>
<line x1="51.6" y1="363.5" x2="54.6" y2="363.5" stroke="#3a3a3a" stroke-width="1.2"/>
<text x="48.4" y="366.5" font-size="9" text-anchor="end" font-weight="normal" fill="#3a3a3a" stroke="#3a3a3a" stroke-width="0.15" textLength="8.71" lengthAdjust="spacingAndGlyphs">20</text>
<line x1="51.6" y1="343.5" x2="54.6" y2="343.5" stroke="#3a3a3a" stroke-width="1.2"/>
<text x="48.4" y="346.2" font-size="9" text-anchor="end" font-weight="normal" fill="#3a3a3a" stroke="#3a3a3a" stroke-width="0.15" textLength="8.71" lengthAdjust="spacingAndGlyphs">25</text>
<line x1="54" y1="444.5" x2="155" y2="444.5" stroke="#2e2e2e" stroke-width="1.2"/>
<line x1="70.5" y1="444.5" x2="70.5" y2="447.5" stroke="#3a3a3a" stroke-width="1.2"/>
<line x1="93.5" y1="444.5" x2="93.5" y2="447.5" stroke="#3a3a3a" stroke-width="1.2"/>
<line x1="116.5" y1="444.5" x2="116.5" y2="447.5" stroke="#3a3a3a" stroke-width="1.2"/>
<line x1="140.5" y1="444.5" x2="140.5" y2="447.5" stroke="#3a3a3a" stroke-width="1.2"/>
<text x="34.5" y="391.8" font-size="10.3" text-anchor="middle" font-weight="normal" fill="#3a3a3a" stroke="#3a3a3a" stroke-width="0.15" transform="rotate(-90 34.5 391.8)" textLength="79" lengthAdjust="spacingAndGlyphs">Total hematogones (%)</text>
<text x="74.9" y="455.6" font-size="8.8" text-anchor="end" font-weight="normal" fill="#3a3a3a" stroke="#3a3a3a" stroke-width="0.15" transform="rotate(-45 74.9 455.6)" textLength="11.69" lengthAdjust="spacingAndGlyphs">HC</text>
<text x="98.1" y="455.6" font-size="8.8" text-anchor="end" font-weight="normal" fill="#3a3a3a" stroke="#3a3a3a" stroke-width="0.15" transform="rotate(-45 98.1 455.6)" textLength="24.29" lengthAdjust="spacingAndGlyphs">P-HLH</text>
<text x="121.1" y="455.6" font-size="8.8" text-anchor="end" font-weight="normal" fill="#3a3a3a" stroke="#3a3a3a" stroke-width="0.15" transform="rotate(-45 121.1 455.6)" textLength="21.14" lengthAdjust="spacingAndGlyphs">I-HLH</text>
<text x="144.6" y="455.6" font-size="8.8" text-anchor="end" font-weight="normal" fill="#3a3a3a" stroke="#3a3a3a" stroke-width="0.15" transform="rotate(-45 144.6 455.6)" textLength="24.74" lengthAdjust="spacingAndGlyphs">R-HLH</text>
<line x1="70.5" y1="355.5" x2="92" y2="355.5" stroke="#3a3a3a" stroke-width="1.15"/>
<text x="81.25" y="353.5" font-size="8.2" text-anchor="middle" font-weight="normal" fill="#3a3a3a" stroke="#3a3a3a" stroke-width="0.15" textLength="7.97" lengthAdjust="spacingAndGlyphs">ns</text>
<line x1="70.5" y1="343.8" x2="116.3" y2="343.8" stroke="#3a3a3a" stroke-width="1.15"/>
<circle cx="89.8" cy="340.4" r="1.15" fill="#333"/>
<circle cx="93.4" cy="340.4" r="1.15" fill="#333"/>
<circle cx="97" cy="340.4" r="1.15" fill="#333"/>
<line x1="70.5" y1="333.8" x2="140" y2="333.8" stroke="#3a3a3a" stroke-width="1.15"/>
<circle cx="99.85" cy="330.4" r="1.15" fill="#333"/>
<circle cx="103.45" cy="330.4" r="1.15" fill="#333"/>
<circle cx="107.05" cy="330.4" r="1.15" fill="#333"/>
<circle cx="110.65" cy="330.4" r="1.15" fill="#333"/>
<line x1="94.5" y1="366.3" x2="140" y2="366.3" stroke="#3a3a3a" stroke-width="1.15"/>
<text x="117.25" y="364.3" font-size="8.2" text-anchor="middle" font-weight="normal" fill="#3a3a3a" stroke="#3a3a3a" stroke-width="0.15" textLength="7.97" lengthAdjust="spacingAndGlyphs">ns</text>
<circle cx="70.3" cy="361.5" r="2.05" fill="#ffffff" stroke="#3e3e3e" stroke-width="0.85"/>
<circle cx="70.3" cy="370.8" r="2.05" fill="#ffffff" stroke="#3e3e3e" stroke-width="0.85"/>
<circle cx="70.3" cy="378.9" r="2.05" fill="#ffffff" stroke="#3e3e3e" stroke-width="0.85"/>
<circle cx="64.2" cy="394.9" r="2.05" fill="#ffffff" stroke="#3e3e3e" stroke-width="0.85"/>
<circle cx="76.2" cy="399.2" r="2.05" fill="#ffffff" stroke="#3e3e3e" stroke-width="0.85"/>
<circle cx="70.3" cy="403.8" r="2.05" fill="#ffffff" stroke="#3e3e3e" stroke-width="0.85"/>
<circle cx="70.3" cy="412.8" r="2.05" fill="#ffffff" stroke="#3e3e3e" stroke-width="0.85"/>
<circle cx="70.3" cy="418.2" r="2.05" fill="#ffffff" stroke="#3e3e3e" stroke-width="0.85"/>
<line x1="62.8" y1="392.5" x2="77.8" y2="392.5" stroke="#262626" stroke-width="1.15"/>
<line x1="70.5" y1="385" x2="70.5" y2="399.3" stroke="#262626" stroke-width="1.09"/>
<line x1="66.5" y1="385.5" x2="74.1" y2="385.5" stroke="#262626" stroke-width="1.15"/>
<line x1="66.5" y1="399.5" x2="74.1" y2="399.5" stroke="#262626" stroke-width="1.15"/>
<circle cx="93.5" cy="378.5" r="2.05" fill="#c4dbef" stroke="#41709e" stroke-width="0.85"/>
<circle cx="93.5" cy="395.8" r="2.05" fill="#c4dbef" stroke="#41709e" stroke-width="0.85"/>
<circle cx="93.5" cy="407.7" r="2.05" fill="#c4dbef" stroke="#41709e" stroke-width="0.85"/>
<circle cx="93.5" cy="434.3" r="2.05" fill="#c4dbef" stroke="#41709e" stroke-width="0.85"/>
<circle cx="87.7" cy="443.1" r="2.05" fill="#c4dbef" stroke="#41709e" stroke-width="0.85"/>
<circle cx="98.9" cy="440.8" r="2.05" fill="#c4dbef" stroke="#41709e" stroke-width="0.85"/>
<line x1="86" y1="416.5" x2="101" y2="416.5" stroke="#262626" stroke-width="1.15"/>
<line x1="93.5" y1="406.2" x2="93.5" y2="428" stroke="#262626" stroke-width="1.09"/>
<line x1="89.7" y1="406.5" x2="97.3" y2="406.5" stroke="#262626" stroke-width="1.15"/>
<line x1="89.7" y1="428.5" x2="97.3" y2="428.5" stroke="#262626" stroke-width="1.15"/>
<circle cx="116.5" cy="373.8" r="2.05" fill="#d4675f" stroke="#6e2c2c" stroke-width="0.85"/>
<circle cx="116.5" cy="379.2" r="2.05" fill="#d4675f" stroke="#6e2c2c" stroke-width="0.85"/>
<circle cx="114.6" cy="407.4" r="2.05" fill="#d4675f" stroke="#6e2c2c" stroke-width="0.85"/>
<circle cx="117.7" cy="407.4" r="2.05" fill="#d4675f" stroke="#6e2c2c" stroke-width="0.85"/>
<circle cx="116.5" cy="418.8" r="2.05" fill="#d4675f" stroke="#6e2c2c" stroke-width="0.85"/>
<circle cx="116.5" cy="424.9" r="2.05" fill="#d4675f" stroke="#6e2c2c" stroke-width="0.85"/>
<circle cx="112" cy="429.2" r="2.05" fill="#d4675f" stroke="#6e2c2c" stroke-width="0.85"/>
<circle cx="120.5" cy="429.5" r="2.05" fill="#d4675f" stroke="#6e2c2c" stroke-width="0.85"/>
<circle cx="111" cy="433" r="2.05" fill="#d4675f" stroke="#6e2c2c" stroke-width="0.85"/>
<circle cx="116" cy="433" r="2.05" fill="#d4675f" stroke="#6e2c2c" stroke-width="0.85"/>
<circle cx="122" cy="433.5" r="2.05" fill="#d4675f" stroke="#6e2c2c" stroke-width="0.85"/>
<circle cx="113.5" cy="436.9" r="2.05" fill="#d4675f" stroke="#6e2c2c" stroke-width="0.85"/>
<circle cx="119" cy="437" r="2.05" fill="#d4675f" stroke="#6e2c2c" stroke-width="0.85"/>
<circle cx="110.8" cy="439.2" r="2.05" fill="#d4675f" stroke="#6e2c2c" stroke-width="0.85"/>
<circle cx="116.5" cy="440" r="2.05" fill="#d4675f" stroke="#6e2c2c" stroke-width="0.85"/>
<circle cx="122.3" cy="440.8" r="2.05" fill="#d4675f" stroke="#6e2c2c" stroke-width="0.85"/>
<circle cx="114" cy="442.5" r="2.05" fill="#d4675f" stroke="#6e2c2c" stroke-width="0.85"/>
<circle cx="119.5" cy="443" r="2.05" fill="#d4675f" stroke="#6e2c2c" stroke-width="0.85"/>
<line x1="109" y1="424.5" x2="124" y2="424.5" stroke="#262626" stroke-width="1.15"/>
<line x1="116.5" y1="420.8" x2="116.5" y2="429" stroke="#262626" stroke-width="1.09"/>
<line x1="112.7" y1="420.5" x2="120.3" y2="420.5" stroke="#262626" stroke-width="1.15"/>
<line x1="112.7" y1="429.5" x2="120.3" y2="429.5" stroke="#262626" stroke-width="1.15"/>
<circle cx="138.3" cy="413.8" r="2.05" fill="#f8e08a" stroke="#806c22" stroke-width="0.85"/>
<circle cx="141.3" cy="413.8" r="2.05" fill="#f8e08a" stroke="#806c22" stroke-width="0.85"/>
<circle cx="138.3" cy="426.3" r="2.05" fill="#f8e08a" stroke="#806c22" stroke-width="0.85"/>
<circle cx="141.3" cy="425.5" r="2.05" fill="#f8e08a" stroke="#806c22" stroke-width="0.85"/>
<circle cx="134.5" cy="433" r="2.05" fill="#f8e08a" stroke="#806c22" stroke-width="0.85"/>
<circle cx="140" cy="432" r="2.05" fill="#f8e08a" stroke="#806c22" stroke-width="0.85"/>
<circle cx="145.5" cy="433.5" r="2.05" fill="#f8e08a" stroke="#806c22" stroke-width="0.85"/>
<circle cx="136" cy="437" r="2.05" fill="#f8e08a" stroke="#806c22" stroke-width="0.85"/>
<circle cx="143" cy="437.5" r="2.05" fill="#f8e08a" stroke="#806c22" stroke-width="0.85"/>
<circle cx="134" cy="440.5" r="2.05" fill="#f8e08a" stroke="#806c22" stroke-width="0.85"/>
<circle cx="139" cy="441" r="2.05" fill="#f8e08a" stroke="#806c22" stroke-width="0.85"/>
<circle cx="145.5" cy="440.5" r="2.05" fill="#f8e08a" stroke="#806c22" stroke-width="0.85"/>
<circle cx="137" cy="443" r="2.05" fill="#f8e08a" stroke="#806c22" stroke-width="0.85"/>
<circle cx="142.5" cy="443.3" r="2.05" fill="#f8e08a" stroke="#806c22" stroke-width="0.85"/>
<line x1="132.5" y1="433.5" x2="147.5" y2="433.5" stroke="#262626" stroke-width="1.15"/>
<line x1="140.5" y1="430.8" x2="140.5" y2="436" stroke="#262626" stroke-width="1.09"/>
<line x1="136.2" y1="430.5" x2="143.8" y2="430.5" stroke="#262626" stroke-width="1.15"/>
<line x1="136.2" y1="436.5" x2="143.8" y2="436.5" stroke="#262626" stroke-width="1.15"/>
<text x="169.5" y="325" font-size="12.5" text-anchor="start" font-weight="bold" fill="#111" stroke="#111" stroke-width="0.15">H</text>
<line x1="212.5" y1="340" x2="212.5" y2="445.1" stroke="#2e2e2e" stroke-width="1.2"/>
<line x1="209.3" y1="444.5" x2="212.3" y2="444.5" stroke="#3a3a3a" stroke-width="1.2"/>
<text x="205.9" y="447.5" font-size="9" text-anchor="end" font-weight="normal" fill="#3a3a3a" stroke="#3a3a3a" stroke-width="0.15" textLength="10.88" lengthAdjust="spacingAndGlyphs">0.0</text>
<line x1="209.3" y1="423.5" x2="212.3" y2="423.5" stroke="#3a3a3a" stroke-width="1.2"/>
<text x="205.9" y="426.95" font-size="9" text-anchor="end" font-weight="normal" fill="#3a3a3a" stroke="#3a3a3a" stroke-width="0.15" textLength="10.88" lengthAdjust="spacingAndGlyphs">0.5</text>
<line x1="209.3" y1="403.5" x2="212.3" y2="403.5" stroke="#3a3a3a" stroke-width="1.2"/>
<text x="205.9" y="406.4" font-size="9" text-anchor="end" font-weight="normal" fill="#3a3a3a" stroke="#3a3a3a" stroke-width="0.15" textLength="10.88" lengthAdjust="spacingAndGlyphs">1.0</text>
<line x1="209.3" y1="382.5" x2="212.3" y2="382.5" stroke="#3a3a3a" stroke-width="1.2"/>
<text x="205.9" y="385.85" font-size="9" text-anchor="end" font-weight="normal" fill="#3a3a3a" stroke="#3a3a3a" stroke-width="0.15" textLength="10.88" lengthAdjust="spacingAndGlyphs">1.5</text>
<line x1="209.3" y1="362.5" x2="212.3" y2="362.5" stroke="#3a3a3a" stroke-width="1.2"/>
<text x="205.9" y="365.3" font-size="9" text-anchor="end" font-weight="normal" fill="#3a3a3a" stroke="#3a3a3a" stroke-width="0.15" textLength="10.88" lengthAdjust="spacingAndGlyphs">2.0</text>
<line x1="209.3" y1="341.5" x2="212.3" y2="341.5" stroke="#3a3a3a" stroke-width="1.2"/>
<text x="205.9" y="344.75" font-size="9" text-anchor="end" font-weight="normal" fill="#3a3a3a" stroke="#3a3a3a" stroke-width="0.15" textLength="10.88" lengthAdjust="spacingAndGlyphs">2.5</text>
<line x1="211.7" y1="444.5" x2="320" y2="444.5" stroke="#2e2e2e" stroke-width="1.2"/>
<line x1="228.5" y1="444.5" x2="228.5" y2="447.5" stroke="#3a3a3a" stroke-width="1.2"/>
<line x1="253.5" y1="444.5" x2="253.5" y2="447.5" stroke="#3a3a3a" stroke-width="1.2"/>
<line x1="278.5" y1="444.5" x2="278.5" y2="447.5" stroke="#3a3a3a" stroke-width="1.2"/>
<line x1="303.5" y1="444.5" x2="303.5" y2="447.5" stroke="#3a3a3a" stroke-width="1.2"/>
<text x="189.5" y="393.8" font-size="10.3" text-anchor="middle" font-weight="normal" fill="#3a3a3a" stroke="#3a3a3a" stroke-width="0.15" transform="rotate(-90 189.5 393.8)" textLength="92" lengthAdjust="spacingAndGlyphs">Stage 1 hematogones (%)</text>
<text x="233.2" y="455.6" font-size="8.8" text-anchor="end" font-weight="normal" fill="#3a3a3a" stroke="#3a3a3a" stroke-width="0.15" transform="rotate(-45 233.2 455.6)" textLength="11.69" lengthAdjust="spacingAndGlyphs">HC</text>
<text x="258" y="455.6" font-size="8.8" text-anchor="end" font-weight="normal" fill="#3a3a3a" stroke="#3a3a3a" stroke-width="0.15" transform="rotate(-45 258 455.6)" textLength="24.29" lengthAdjust="spacingAndGlyphs">P-HLH</text>
<text x="282.7" y="455.6" font-size="8.8" text-anchor="end" font-weight="normal" fill="#3a3a3a" stroke="#3a3a3a" stroke-width="0.15" transform="rotate(-45 282.7 455.6)" textLength="21.14" lengthAdjust="spacingAndGlyphs">I-HLH</text>
<text x="307.7" y="455.6" font-size="8.8" text-anchor="end" font-weight="normal" fill="#3a3a3a" stroke="#3a3a3a" stroke-width="0.15" transform="rotate(-45 307.7 455.6)" textLength="24.74" lengthAdjust="spacingAndGlyphs">R-HLH</text>
<line x1="228.6" y1="355.8" x2="252" y2="355.8" stroke="#3a3a3a" stroke-width="1.15"/>
<circle cx="234.9" cy="352.4" r="1.15" fill="#333"/>
<circle cx="238.5" cy="352.4" r="1.15" fill="#333"/>
<circle cx="242.1" cy="352.4" r="1.15" fill="#333"/>
<circle cx="245.7" cy="352.4" r="1.15" fill="#333"/>
<line x1="228.6" y1="345.5" x2="278.1" y2="345.5" stroke="#3a3a3a" stroke-width="1.15"/>
<circle cx="247.95" cy="342.1" r="1.15" fill="#333"/>
<circle cx="251.55" cy="342.1" r="1.15" fill="#333"/>
<circle cx="255.15" cy="342.1" r="1.15" fill="#333"/>
<circle cx="258.75" cy="342.1" r="1.15" fill="#333"/>
<line x1="228.6" y1="334.3" x2="303.8" y2="334.3" stroke="#3a3a3a" stroke-width="1.15"/>
<circle cx="260.8" cy="330.9" r="1.15" fill="#333"/>
<circle cx="264.4" cy="330.9" r="1.15" fill="#333"/>
<circle cx="268" cy="330.9" r="1.15" fill="#333"/>
<circle cx="271.6" cy="330.9" r="1.15" fill="#333"/>
<line x1="255.5" y1="393.1" x2="304.8" y2="393.1" stroke="#3a3a3a" stroke-width="1.15"/>
<circle cx="280.15" cy="389.7" r="1.15" fill="#333"/>
<line x1="255.5" y1="405.1" x2="278.1" y2="405.1" stroke="#3a3a3a" stroke-width="1.15"/>
<text x="266.8" y="403.1" font-size="8.2" text-anchor="middle" font-weight="normal" fill="#3a3a3a" stroke="#3a3a3a" stroke-width="0.15" textLength="7.97" lengthAdjust="spacingAndGlyphs">ns</text>
<line x1="281.9" y1="413.8" x2="304.1" y2="413.8" stroke="#3a3a3a" stroke-width="1.15"/>
<text x="293" y="411.8" font-size="8.2" text-anchor="middle" font-weight="normal" fill="#3a3a3a" stroke="#3a3a3a" stroke-width="0.15" textLength="7.97" lengthAdjust="spacingAndGlyphs">ns</text>
<circle cx="228.6" cy="361.3" r="2.05" fill="#ffffff" stroke="#3e3e3e" stroke-width="0.85"/>
<circle cx="222.7" cy="378.9" r="2.05" fill="#ffffff" stroke="#3e3e3e" stroke-width="0.85"/>
<circle cx="235.4" cy="382.5" r="2.05" fill="#ffffff" stroke="#3e3e3e" stroke-width="0.85"/>
<circle cx="222.7" cy="387.2" r="2.05" fill="#ffffff" stroke="#3e3e3e" stroke-width="0.85"/>
<circle cx="235.4" cy="388.8" r="2.05" fill="#ffffff" stroke="#3e3e3e" stroke-width="0.85"/>
<circle cx="228.6" cy="394.1" r="2.05" fill="#ffffff" stroke="#3e3e3e" stroke-width="0.85"/>
<circle cx="228.6" cy="398.4" r="2.05" fill="#ffffff" stroke="#3e3e3e" stroke-width="0.85"/>
<circle cx="228.6" cy="410.4" r="2.05" fill="#ffffff" stroke="#3e3e3e" stroke-width="0.85"/>
<line x1="220.1" y1="387.5" x2="237.1" y2="387.5" stroke="#262626" stroke-width="1.15"/>
<line x1="228.5" y1="382.1" x2="228.5" y2="393.1" stroke="#262626" stroke-width="1.09"/>
<line x1="224.8" y1="382.5" x2="232.4" y2="382.5" stroke="#262626" stroke-width="1.15"/>
<line x1="224.8" y1="393.5" x2="232.4" y2="393.5" stroke="#262626" stroke-width="1.15"/>
<circle cx="253.4" cy="411.7" r="2.05" fill="#c4dbef" stroke="#41709e" stroke-width="0.85"/>
<circle cx="253.4" cy="435.4" r="2.05" fill="#c4dbef" stroke="#41709e" stroke-width="0.85"/>
<circle cx="247.7" cy="441.7" r="2.05" fill="#c4dbef" stroke="#41709e" stroke-width="0.85"/>
<circle cx="259.7" cy="440.3" r="2.05" fill="#c4dbef" stroke="#41709e" stroke-width="0.85"/>
<circle cx="253.4" cy="443.4" r="2.05" fill="#c4dbef" stroke="#41709e" stroke-width="0.85"/>
<circle cx="255.5" cy="438.6" r="2.05" fill="#c4dbef" stroke="#41709e" stroke-width="0.85"/>
<line x1="244.9" y1="435.5" x2="261.9" y2="435.5" stroke="#262626" stroke-width="1.15"/>
<line x1="253.5" y1="430.7" x2="253.5" y2="440.7" stroke="#262626" stroke-width="1.09"/>
<line x1="249.6" y1="430.5" x2="257.2" y2="430.5" stroke="#262626" stroke-width="1.15"/>
<line x1="249.6" y1="440.5" x2="257.2" y2="440.5" stroke="#262626" stroke-width="1.15"/>
<circle cx="278.1" cy="419.5" r="2.05" fill="#d4675f" stroke="#6e2c2c" stroke-width="0.85"/>
<circle cx="278.1" cy="431.6" r="2.05" fill="#d4675f" stroke="#6e2c2c" stroke-width="0.85"/>
<circle cx="278.1" cy="437.5" r="2.05" fill="#d4675f" stroke="#6e2c2c" stroke-width="0.85"/>
<circle cx="272" cy="441.5" r="2.05" fill="#d4675f" stroke="#6e2c2c" stroke-width="0.85"/>
<circle cx="276" cy="443" r="2.05" fill="#d4675f" stroke="#6e2c2c" stroke-width="0.85"/>
<circle cx="280" cy="441.8" r="2.05" fill="#d4675f" stroke="#6e2c2c" stroke-width="0.85"/>
<circle cx="284.5" cy="442.5" r="2.05" fill="#d4675f" stroke="#6e2c2c" stroke-width="0.85"/>
<circle cx="274" cy="443.5" r="2.05" fill="#d4675f" stroke="#6e2c2c" stroke-width="0.85"/>
<circle cx="282" cy="443.8" r="2.05" fill="#d4675f" stroke="#6e2c2c" stroke-width="0.85"/>
<line x1="269.6" y1="441.5" x2="286.6" y2="441.5" stroke="#262626" stroke-width="1.15"/>
<circle cx="303.1" cy="438.6" r="2.05" fill="#f8e08a" stroke="#806c22" stroke-width="0.85"/>
<circle cx="297" cy="442.3" r="2.05" fill="#f8e08a" stroke="#806c22" stroke-width="0.85"/>
<circle cx="301" cy="443.5" r="2.05" fill="#f8e08a" stroke="#806c22" stroke-width="0.85"/>
<circle cx="305.5" cy="442" r="2.05" fill="#f8e08a" stroke="#806c22" stroke-width="0.85"/>
<circle cx="309.5" cy="442.8" r="2.05" fill="#f8e08a" stroke="#806c22" stroke-width="0.85"/>
<circle cx="303" cy="444" r="2.05" fill="#f8e08a" stroke="#806c22" stroke-width="0.85"/>
<line x1="296.1" y1="442.5" x2="310.1" y2="442.5" stroke="#262626" stroke-width="1.15"/>
<text x="336.3" y="325" font-size="12.5" text-anchor="start" font-weight="bold" fill="#111" stroke="#111" stroke-width="0.15">I</text>
<line x1="377.5" y1="339.5" x2="377.5" y2="444.9" stroke="#2e2e2e" stroke-width="1.2"/>
<line x1="374" y1="444.5" x2="377" y2="444.5" stroke="#3a3a3a" stroke-width="1.2"/>
<text x="370.8" y="447.3" font-size="9" text-anchor="end" font-weight="normal" fill="#3a3a3a" stroke="#3a3a3a" stroke-width="0.15" textLength="4.35" lengthAdjust="spacingAndGlyphs">0</text>
<line x1="374" y1="409.5" x2="377" y2="409.5" stroke="#3a3a3a" stroke-width="1.2"/>
<text x="370.8" y="413.05" font-size="9" text-anchor="end" font-weight="normal" fill="#3a3a3a" stroke="#3a3a3a" stroke-width="0.15" textLength="4.35" lengthAdjust="spacingAndGlyphs">5</text>
<line x1="374" y1="375.5" x2="377" y2="375.5" stroke="#3a3a3a" stroke-width="1.2"/>
<text x="370.8" y="378.8" font-size="9" text-anchor="end" font-weight="normal" fill="#3a3a3a" stroke="#3a3a3a" stroke-width="0.15" textLength="8.71" lengthAdjust="spacingAndGlyphs">10</text>
<line x1="374" y1="341.5" x2="377" y2="341.5" stroke="#3a3a3a" stroke-width="1.2"/>
<text x="370.8" y="344.55" font-size="9" text-anchor="end" font-weight="normal" fill="#3a3a3a" stroke="#3a3a3a" stroke-width="0.15" textLength="8.71" lengthAdjust="spacingAndGlyphs">15</text>
<line x1="376.4" y1="444.5" x2="479.5" y2="444.5" stroke="#2e2e2e" stroke-width="1.2"/>
<line x1="392.5" y1="444.3" x2="392.5" y2="447.3" stroke="#3a3a3a" stroke-width="1.2"/>
<line x1="416.5" y1="444.3" x2="416.5" y2="447.3" stroke="#3a3a3a" stroke-width="1.2"/>
<line x1="439.5" y1="444.3" x2="439.5" y2="447.3" stroke="#3a3a3a" stroke-width="1.2"/>
<line x1="463.5" y1="444.3" x2="463.5" y2="447.3" stroke="#3a3a3a" stroke-width="1.2"/>
<text x="356.3" y="393.8" font-size="10.3" text-anchor="middle" font-weight="normal" fill="#3a3a3a" stroke="#3a3a3a" stroke-width="0.15" transform="rotate(-90 356.3 393.8)" textLength="92" lengthAdjust="spacingAndGlyphs">Stage 2 hematogones (%)</text>
<text x="397.2" y="455.6" font-size="8.8" text-anchor="end" font-weight="normal" fill="#3a3a3a" stroke="#3a3a3a" stroke-width="0.15" transform="rotate(-45 397.2 455.6)" textLength="11.69" lengthAdjust="spacingAndGlyphs">HC</text>
<text x="420.9" y="455.6" font-size="8.8" text-anchor="end" font-weight="normal" fill="#3a3a3a" stroke="#3a3a3a" stroke-width="0.15" transform="rotate(-45 420.9 455.6)" textLength="24.29" lengthAdjust="spacingAndGlyphs">P-HLH</text>
<text x="444.1" y="455.6" font-size="8.8" text-anchor="end" font-weight="normal" fill="#3a3a3a" stroke="#3a3a3a" stroke-width="0.15" transform="rotate(-45 444.1 455.6)" textLength="21.14" lengthAdjust="spacingAndGlyphs">I-HLH</text>
<text x="468" y="455.6" font-size="8.8" text-anchor="end" font-weight="normal" fill="#3a3a3a" stroke="#3a3a3a" stroke-width="0.15" transform="rotate(-45 468 455.6)" textLength="24.74" lengthAdjust="spacingAndGlyphs">R-HLH</text>
<line x1="392.5" y1="342" x2="414.5" y2="342" stroke="#3a3a3a" stroke-width="1.15"/>
<circle cx="399.9" cy="338.6" r="1.15" fill="#333"/>
<circle cx="403.5" cy="338.6" r="1.15" fill="#333"/>
<circle cx="407.1" cy="338.6" r="1.15" fill="#333"/>
<line x1="392.5" y1="331.8" x2="439.3" y2="331.8" stroke="#3a3a3a" stroke-width="1.15"/>
<circle cx="410.5" cy="328.4" r="1.15" fill="#333"/>
<circle cx="414.1" cy="328.4" r="1.15" fill="#333"/>
<circle cx="417.7" cy="328.4" r="1.15" fill="#333"/>
<circle cx="421.3" cy="328.4" r="1.15" fill="#333"/>
<line x1="392.5" y1="320.5" x2="463.8" y2="320.5" stroke="#3a3a3a" stroke-width="1.15"/>
<circle cx="422.75" cy="317.1" r="1.15" fill="#333"/>
<circle cx="426.35" cy="317.1" r="1.15" fill="#333"/>
<circle cx="429.95" cy="317.1" r="1.15" fill="#333"/>
<circle cx="433.55" cy="317.1" r="1.15" fill="#333"/>
<line x1="418" y1="407.3" x2="464.3" y2="407.3" stroke="#3a3a3a" stroke-width="1.15"/>
<circle cx="441.15" cy="403.9" r="1.15" fill="#333"/>
<line x1="418" y1="418.3" x2="438.9" y2="418.3" stroke="#3a3a3a" stroke-width="1.15"/>
<text x="428.45" y="416.3" font-size="8.2" text-anchor="middle" font-weight="normal" fill="#3a3a3a" stroke="#3a3a3a" stroke-width="0.15" textLength="7.97" lengthAdjust="spacingAndGlyphs">ns</text>
<line x1="443.1" y1="423.1" x2="463.9" y2="423.1" stroke="#3a3a3a" stroke-width="1.15"/>
<text x="453.5" y="421.1" font-size="8.2" text-anchor="middle" font-weight="normal" fill="#3a3a3a" stroke="#3a3a3a" stroke-width="0.15" textLength="7.97" lengthAdjust="spacingAndGlyphs">ns</text>
<circle cx="392.6" cy="348" r="2.05" fill="#ffffff" stroke="#3e3e3e" stroke-width="0.85"/>
<circle cx="392.6" cy="365" r="2.05" fill="#ffffff" stroke="#3e3e3e" stroke-width="0.85"/>
<circle cx="392.6" cy="370.7" r="2.05" fill="#ffffff" stroke="#3e3e3e" stroke-width="0.85"/>
<circle cx="392.6" cy="384" r="2.05" fill="#ffffff" stroke="#3e3e3e" stroke-width="0.85"/>
<circle cx="392.6" cy="392.9" r="2.05" fill="#ffffff" stroke="#3e3e3e" stroke-width="0.85"/>
<circle cx="392.6" cy="406" r="2.05" fill="#ffffff" stroke="#3e3e3e" stroke-width="0.85"/>
<circle cx="392.6" cy="412.4" r="2.05" fill="#ffffff" stroke="#3e3e3e" stroke-width="0.85"/>
<circle cx="392.6" cy="417.6" r="2.05" fill="#ffffff" stroke="#3e3e3e" stroke-width="0.85"/>
<line x1="385.1" y1="387.5" x2="400.1" y2="387.5" stroke="#262626" stroke-width="1.15"/>
<line x1="392.5" y1="378.7" x2="392.5" y2="396" stroke="#262626" stroke-width="1.09"/>
<line x1="388.8" y1="378.5" x2="396.4" y2="378.5" stroke="#262626" stroke-width="1.15"/>
<line x1="388.8" y1="396.5" x2="396.4" y2="396.5" stroke="#262626" stroke-width="1.15"/>
<circle cx="416.3" cy="425" r="2.05" fill="#c4dbef" stroke="#41709e" stroke-width="0.85"/>
<circle cx="416.3" cy="435.6" r="2.05" fill="#c4dbef" stroke="#41709e" stroke-width="0.85"/>
<circle cx="409.5" cy="443.7" r="2.05" fill="#c4dbef" stroke="#41709e" stroke-width="0.85"/>
<circle cx="422" cy="443.7" r="2.05" fill="#c4dbef" stroke="#41709e" stroke-width="0.85"/>
<circle cx="416.3" cy="443.8" r="2.05" fill="#c4dbef" stroke="#41709e" stroke-width="0.85"/>
<circle cx="412" cy="440.5" r="2.05" fill="#c4dbef" stroke="#41709e" stroke-width="0.85"/>
<line x1="408.3" y1="438.5" x2="424.3" y2="438.5" stroke="#262626" stroke-width="1.15"/>
<line x1="416.5" y1="434.8" x2="416.5" y2="442" stroke="#262626" stroke-width="1.09"/>
<line x1="412.5" y1="434.5" x2="420.1" y2="434.5" stroke="#262626" stroke-width="1.15"/>
<line x1="412.5" y1="442.5" x2="420.1" y2="442.5" stroke="#262626" stroke-width="1.15"/>
<circle cx="439.5" cy="428.9" r="2.05" fill="#d4675f" stroke="#6e2c2c" stroke-width="0.85"/>
<circle cx="433.2" cy="442.6" r="2.05" fill="#d4675f" stroke="#6e2c2c" stroke-width="0.85"/>
<circle cx="437" cy="443.5" r="2.05" fill="#d4675f" stroke="#6e2c2c" stroke-width="0.85"/>
<circle cx="441" cy="442" r="2.05" fill="#d4675f" stroke="#6e2c2c" stroke-width="0.85"/>
<circle cx="446.9" cy="442.6" r="2.05" fill="#d4675f" stroke="#6e2c2c" stroke-width="0.85"/>
<circle cx="443.5" cy="443.8" r="2.05" fill="#d4675f" stroke="#6e2c2c" stroke-width="0.85"/>
<line x1="432.5" y1="442.5" x2="446.5" y2="442.5" stroke="#262626" stroke-width="1.15"/>
<circle cx="456.4" cy="442" r="2.05" fill="#f8e08a" stroke="#806c22" stroke-width="0.85"/>
<circle cx="460" cy="441.5" r="2.05" fill="#f8e08a" stroke="#806c22" stroke-width="0.85"/>
<circle cx="463.4" cy="443.5" r="2.05" fill="#f8e08a" stroke="#806c22" stroke-width="0.85"/>
<circle cx="466.5" cy="441.8" r="2.05" fill="#f8e08a" stroke="#806c22" stroke-width="0.85"/>
<circle cx="470.2" cy="443" r="2.05" fill="#f8e08a" stroke="#806c22" stroke-width="0.85"/>
<circle cx="459" cy="444" r="2.05" fill="#f8e08a" stroke="#806c22" stroke-width="0.85"/>
<circle cx="467" cy="444.3" r="2.05" fill="#f8e08a" stroke="#806c22" stroke-width="0.85"/>
<circle cx="462" cy="440.5" r="2.05" fill="#f8e08a" stroke="#806c22" stroke-width="0.85"/>
<text x="6.8" y="503.3" font-size="12.5" text-anchor="start" font-weight="bold" fill="#111" stroke="#111" stroke-width="0.15">J</text>
<line x1="54.5" y1="511.3" x2="54.5" y2="617.2" stroke="#2e2e2e" stroke-width="1.2"/>
<line x1="51.6" y1="616.5" x2="54.6" y2="616.5" stroke="#3a3a3a" stroke-width="1.2"/>
<text x="48.3" y="619.9" font-size="9" text-anchor="end" font-weight="normal" fill="#3a3a3a" stroke="#3a3a3a" stroke-width="0.15" textLength="4.35" lengthAdjust="spacingAndGlyphs">0</text>
<line x1="51.6" y1="582.5" x2="54.6" y2="582.5" stroke="#3a3a3a" stroke-width="1.2"/>
<text x="48.3" y="585.7" font-size="9" text-anchor="end" font-weight="normal" fill="#3a3a3a" stroke="#3a3a3a" stroke-width="0.15" textLength="4.35" lengthAdjust="spacingAndGlyphs">5</text>
<line x1="51.6" y1="548.5" x2="54.6" y2="548.5" stroke="#3a3a3a" stroke-width="1.2"/>
<text x="48.3" y="551.5" font-size="9" text-anchor="end" font-weight="normal" fill="#3a3a3a" stroke="#3a3a3a" stroke-width="0.15" textLength="8.71" lengthAdjust="spacingAndGlyphs">10</text>
<line x1="51.6" y1="514.5" x2="54.6" y2="514.5" stroke="#3a3a3a" stroke-width="1.2"/>
<text x="48.3" y="517.3" font-size="9" text-anchor="end" font-weight="normal" fill="#3a3a3a" stroke="#3a3a3a" stroke-width="0.15" textLength="8.71" lengthAdjust="spacingAndGlyphs">15</text>
<line x1="54" y1="616.5" x2="155" y2="616.5" stroke="#2e2e2e" stroke-width="1.2"/>
<line x1="70.5" y1="616.6" x2="70.5" y2="619.6" stroke="#3a3a3a" stroke-width="1.2"/>
<line x1="93.5" y1="616.6" x2="93.5" y2="619.6" stroke="#3a3a3a" stroke-width="1.2"/>
<line x1="116.5" y1="616.6" x2="116.5" y2="619.6" stroke="#3a3a3a" stroke-width="1.2"/>
<line x1="140.5" y1="616.6" x2="140.5" y2="619.6" stroke="#3a3a3a" stroke-width="1.2"/>
<text x="22.7" y="563.5" font-size="10.3" text-anchor="middle" font-weight="normal" fill="#3a3a3a" stroke="#3a3a3a" stroke-width="0.15" transform="rotate(-90 22.7 563.5)" textLength="72" lengthAdjust="spacingAndGlyphs">Immature B cells (%)</text>
<text x="32.6" y="563.5" font-size="10.3" text-anchor="middle" font-weight="normal" fill="#3a3a3a" stroke="#3a3a3a" stroke-width="0.15" transform="rotate(-90 32.6 563.5)" textLength="57" lengthAdjust="spacingAndGlyphs">(CD19+CD10+)</text>
<text x="74.8" y="628.1" font-size="8.8" text-anchor="end" font-weight="normal" fill="#3a3a3a" stroke="#3a3a3a" stroke-width="0.15" transform="rotate(-45 74.8 628.1)" textLength="11.69" lengthAdjust="spacingAndGlyphs">HC</text>
<text x="98" y="628.1" font-size="8.8" text-anchor="end" font-weight="normal" fill="#3a3a3a" stroke="#3a3a3a" stroke-width="0.15" transform="rotate(-45 98 628.1)" textLength="24.29" lengthAdjust="spacingAndGlyphs">P-HLH</text>
<text x="121.2" y="628.1" font-size="8.8" text-anchor="end" font-weight="normal" fill="#3a3a3a" stroke="#3a3a3a" stroke-width="0.15" transform="rotate(-45 121.2 628.1)" textLength="21.14" lengthAdjust="spacingAndGlyphs">I-HLH</text>
<text x="144.6" y="628.1" font-size="8.8" text-anchor="end" font-weight="normal" fill="#3a3a3a" stroke="#3a3a3a" stroke-width="0.15" transform="rotate(-45 144.6 628.1)" textLength="24.74" lengthAdjust="spacingAndGlyphs">R-HLH</text>
<line x1="70.5" y1="523" x2="92" y2="523" stroke="#3a3a3a" stroke-width="1.15"/>
<circle cx="77.65" cy="519.6" r="1.15" fill="#333"/>
<circle cx="81.25" cy="519.6" r="1.15" fill="#333"/>
<circle cx="84.85" cy="519.6" r="1.15" fill="#333"/>
<line x1="70.5" y1="512.5" x2="116.3" y2="512.5" stroke="#3a3a3a" stroke-width="1.15"/>
<circle cx="88" cy="509.1" r="1.15" fill="#333"/>
<circle cx="91.6" cy="509.1" r="1.15" fill="#333"/>
<circle cx="95.2" cy="509.1" r="1.15" fill="#333"/>
<circle cx="98.8" cy="509.1" r="1.15" fill="#333"/>
<line x1="70.5" y1="501.8" x2="140" y2="501.8" stroke="#3a3a3a" stroke-width="1.15"/>
<circle cx="99.85" cy="498.4" r="1.15" fill="#333"/>
<circle cx="103.45" cy="498.4" r="1.15" fill="#333"/>
<circle cx="107.05" cy="498.4" r="1.15" fill="#333"/>
<circle cx="110.65" cy="498.4" r="1.15" fill="#333"/>
<line x1="95.5" y1="573.9" x2="141" y2="573.9" stroke="#3a3a3a" stroke-width="1.15"/>
<circle cx="118.25" cy="570.5" r="1.15" fill="#333"/>
<line x1="95.5" y1="586.6" x2="116" y2="586.6" stroke="#3a3a3a" stroke-width="1.15"/>
<text x="105.75" y="584.6" font-size="8.2" text-anchor="middle" font-weight="normal" fill="#3a3a3a" stroke="#3a3a3a" stroke-width="0.15" textLength="7.97" lengthAdjust="spacingAndGlyphs">ns</text>
<line x1="119.8" y1="593.4" x2="141" y2="593.4" stroke="#3a3a3a" stroke-width="1.15"/>
<text x="130.4" y="591.4" font-size="8.2" text-anchor="middle" font-weight="normal" fill="#3a3a3a" stroke="#3a3a3a" stroke-width="0.15" textLength="7.97" lengthAdjust="spacingAndGlyphs">ns</text>
<circle cx="70.1" cy="528.9" r="2.05" fill="#ffffff" stroke="#3e3e3e" stroke-width="0.85"/>
<circle cx="70.1" cy="535.9" r="2.05" fill="#ffffff" stroke="#3e3e3e" stroke-width="0.85"/>
<circle cx="70.1" cy="547.9" r="2.05" fill="#ffffff" stroke="#3e3e3e" stroke-width="0.85"/>
<circle cx="70.1" cy="558.1" r="2.05" fill="#ffffff" stroke="#3e3e3e" stroke-width="0.85"/>
<circle cx="70.1" cy="566.5" r="2.05" fill="#ffffff" stroke="#3e3e3e" stroke-width="0.85"/>
<circle cx="70.1" cy="576.1" r="2.05" fill="#ffffff" stroke="#3e3e3e" stroke-width="0.85"/>
<circle cx="64.4" cy="581.8" r="2.05" fill="#ffffff" stroke="#3e3e3e" stroke-width="0.85"/>
<circle cx="75.8" cy="580.9" r="2.05" fill="#ffffff" stroke="#3e3e3e" stroke-width="0.85"/>
<line x1="62.7" y1="559.5" x2="77.7" y2="559.5" stroke="#262626" stroke-width="1.15"/>
<line x1="70.5" y1="552.8" x2="70.5" y2="564.8" stroke="#262626" stroke-width="1.09"/>
<line x1="66.4" y1="552.5" x2="74" y2="552.5" stroke="#262626" stroke-width="1.15"/>
<line x1="66.4" y1="564.5" x2="74" y2="564.5" stroke="#262626" stroke-width="1.15"/>
<circle cx="90.2" cy="594.5" r="2.05" fill="#c4dbef" stroke="#41709e" stroke-width="0.85"/>
<circle cx="96.5" cy="593.6" r="2.05" fill="#c4dbef" stroke="#41709e" stroke-width="0.85"/>
<circle cx="93.4" cy="611" r="2.05" fill="#c4dbef" stroke="#41709e" stroke-width="0.85"/>
<circle cx="87.7" cy="616.7" r="2.05" fill="#c4dbef" stroke="#41709e" stroke-width="0.85"/>
<circle cx="93.4" cy="616.7" r="2.05" fill="#c4dbef" stroke="#41709e" stroke-width="0.85"/>
<circle cx="99.1" cy="616.7" r="2.05" fill="#c4dbef" stroke="#41709e" stroke-width="0.85"/>
<line x1="85.9" y1="607.5" x2="100.9" y2="607.5" stroke="#262626" stroke-width="1.15"/>
<line x1="93.5" y1="603.1" x2="93.5" y2="613" stroke="#262626" stroke-width="1.09"/>
<line x1="89.6" y1="603.5" x2="97.2" y2="603.5" stroke="#262626" stroke-width="1.15"/>
<line x1="89.6" y1="613.5" x2="97.2" y2="613.5" stroke="#262626" stroke-width="1.15"/>
<circle cx="116.6" cy="600" r="2.05" fill="#d4675f" stroke="#6e2c2c" stroke-width="0.85"/>
<circle cx="116.6" cy="605.7" r="2.05" fill="#d4675f" stroke="#6e2c2c" stroke-width="0.85"/>
<circle cx="111" cy="612" r="2.05" fill="#d4675f" stroke="#6e2c2c" stroke-width="0.85"/>
<circle cx="115" cy="613.5" r="2.05" fill="#d4675f" stroke="#6e2c2c" stroke-width="0.85"/>
<circle cx="119.5" cy="612.5" r="2.05" fill="#d4675f" stroke="#6e2c2c" stroke-width="0.85"/>
<circle cx="123" cy="614" r="2.05" fill="#d4675f" stroke="#6e2c2c" stroke-width="0.85"/>
<circle cx="110.3" cy="615.5" r="2.05" fill="#d4675f" stroke="#6e2c2c" stroke-width="0.85"/>
<circle cx="114" cy="616" r="2.05" fill="#d4675f" stroke="#6e2c2c" stroke-width="0.85"/>
<circle cx="118.5" cy="615.8" r="2.05" fill="#d4675f" stroke="#6e2c2c" stroke-width="0.85"/>
<circle cx="122.5" cy="616.2" r="2.05" fill="#d4675f" stroke="#6e2c2c" stroke-width="0.85"/>
<circle cx="116.6" cy="610" r="2.05" fill="#d4675f" stroke="#6e2c2c" stroke-width="0.85"/>
<line x1="109.6" y1="614.5" x2="123.6" y2="614.5" stroke="#262626" stroke-width="1.15"/>
<circle cx="133.6" cy="615.5" r="2.05" fill="#f8e08a" stroke="#806c22" stroke-width="0.85"/>
<circle cx="137" cy="613.5" r="2.05" fill="#f8e08a" stroke="#806c22" stroke-width="0.85"/>
<circle cx="140.5" cy="615.5" r="2.05" fill="#f8e08a" stroke="#806c22" stroke-width="0.85"/>
<circle cx="144" cy="614" r="2.05" fill="#f8e08a" stroke="#806c22" stroke-width="0.85"/>
<circle cx="146.9" cy="615.8" r="2.05" fill="#f8e08a" stroke="#806c22" stroke-width="0.85"/>
<circle cx="135.5" cy="616.5" r="2.05" fill="#f8e08a" stroke="#806c22" stroke-width="0.85"/>
<circle cx="142" cy="616.7" r="2.05" fill="#f8e08a" stroke="#806c22" stroke-width="0.85"/>
<text x="169.5" y="503.3" font-size="12.5" text-anchor="start" font-weight="bold" fill="#111" stroke="#111" stroke-width="0.15">K</text>
<line x1="212.5" y1="511.3" x2="212.5" y2="617.3" stroke="#2e2e2e" stroke-width="1.2"/>
<line x1="209.3" y1="616.5" x2="212.3" y2="616.5" stroke="#3a3a3a" stroke-width="1.2"/>
<text x="205.9" y="619.9" font-size="9" text-anchor="end" font-weight="normal" fill="#3a3a3a" stroke="#3a3a3a" stroke-width="0.15" textLength="4.35" lengthAdjust="spacingAndGlyphs">0</text>
<line x1="209.3" y1="596.5" x2="212.3" y2="596.5" stroke="#3a3a3a" stroke-width="1.2"/>
<text x="205.9" y="599.4" font-size="9" text-anchor="end" font-weight="normal" fill="#3a3a3a" stroke="#3a3a3a" stroke-width="0.15" textLength="4.35" lengthAdjust="spacingAndGlyphs">5</text>
<line x1="209.3" y1="575.5" x2="212.3" y2="575.5" stroke="#3a3a3a" stroke-width="1.2"/>
<text x="205.9" y="578.9" font-size="9" text-anchor="end" font-weight="normal" fill="#3a3a3a" stroke="#3a3a3a" stroke-width="0.15" textLength="8.71" lengthAdjust="spacingAndGlyphs">10</text>
<line x1="209.3" y1="555.5" x2="212.3" y2="555.5" stroke="#3a3a3a" stroke-width="1.2"/>
<text x="205.9" y="558.4" font-size="9" text-anchor="end" font-weight="normal" fill="#3a3a3a" stroke="#3a3a3a" stroke-width="0.15" textLength="8.71" lengthAdjust="spacingAndGlyphs">15</text>
<line x1="209.3" y1="534.5" x2="212.3" y2="534.5" stroke="#3a3a3a" stroke-width="1.2"/>
<text x="205.9" y="537.9" font-size="9" text-anchor="end" font-weight="normal" fill="#3a3a3a" stroke="#3a3a3a" stroke-width="0.15" textLength="8.71" lengthAdjust="spacingAndGlyphs">20</text>
<line x1="209.3" y1="514.5" x2="212.3" y2="514.5" stroke="#3a3a3a" stroke-width="1.2"/>
<text x="205.9" y="517.4" font-size="9" text-anchor="end" font-weight="normal" fill="#3a3a3a" stroke="#3a3a3a" stroke-width="0.15" textLength="8.71" lengthAdjust="spacingAndGlyphs">25</text>
<line x1="211.7" y1="616.5" x2="320" y2="616.5" stroke="#2e2e2e" stroke-width="1.2"/>
<line x1="228.5" y1="616.7" x2="228.5" y2="619.7" stroke="#3a3a3a" stroke-width="1.2"/>
<line x1="253.5" y1="616.7" x2="253.5" y2="619.7" stroke="#3a3a3a" stroke-width="1.2"/>
<line x1="278.5" y1="616.7" x2="278.5" y2="619.7" stroke="#3a3a3a" stroke-width="1.2"/>
<line x1="303.5" y1="616.7" x2="303.5" y2="619.7" stroke="#3a3a3a" stroke-width="1.2"/>
<text x="179.5" y="563.8" font-size="10.3" text-anchor="middle" font-weight="normal" fill="#3a3a3a" stroke="#3a3a3a" stroke-width="0.15" transform="rotate(-90 179.5 563.8)" textLength="77" lengthAdjust="spacingAndGlyphs">Transitional B cells (%)</text>
<text x="191.3" y="563.8" font-size="10.3" text-anchor="middle" font-weight="normal" fill="#3a3a3a" stroke="#3a3a3a" stroke-width="0.15" transform="rotate(-90 191.3 563.8)" textLength="77" lengthAdjust="spacingAndGlyphs">(CD19+CD10–CD20–)</text>
<text x="233.2" y="628.1" font-size="8.8" text-anchor="end" font-weight="normal" fill="#3a3a3a" stroke="#3a3a3a" stroke-width="0.15" transform="rotate(-45 233.2 628.1)" textLength="11.69" lengthAdjust="spacingAndGlyphs">HC</text>
<text x="258" y="628.1" font-size="8.8" text-anchor="end" font-weight="normal" fill="#3a3a3a" stroke="#3a3a3a" stroke-width="0.15" transform="rotate(-45 258 628.1)" textLength="24.29" lengthAdjust="spacingAndGlyphs">P-HLH</text>
<text x="282.7" y="628.1" font-size="8.8" text-anchor="end" font-weight="normal" fill="#3a3a3a" stroke="#3a3a3a" stroke-width="0.15" transform="rotate(-45 282.7 628.1)" textLength="21.14" lengthAdjust="spacingAndGlyphs">I-HLH</text>
<text x="307.7" y="628.1" font-size="8.8" text-anchor="end" font-weight="normal" fill="#3a3a3a" stroke="#3a3a3a" stroke-width="0.15" transform="rotate(-45 307.7 628.1)" textLength="24.74" lengthAdjust="spacingAndGlyphs">R-HLH</text>
<line x1="229.5" y1="524.7" x2="278.8" y2="524.7" stroke="#3a3a3a" stroke-width="1.15"/>
<text x="254.15" y="522.7" font-size="8.2" text-anchor="middle" font-weight="normal" fill="#3a3a3a" stroke="#3a3a3a" stroke-width="0.15" textLength="7.97" lengthAdjust="spacingAndGlyphs">ns</text>
<line x1="229.5" y1="502.5" x2="303.8" y2="502.5" stroke="#3a3a3a" stroke-width="1.15"/>
<text x="266.65" y="500.5" font-size="8.2" text-anchor="middle" font-weight="normal" fill="#3a3a3a" stroke="#3a3a3a" stroke-width="0.15" textLength="7.97" lengthAdjust="spacingAndGlyphs">ns</text>
<line x1="255.5" y1="512.5" x2="303.8" y2="512.5" stroke="#3a3a3a" stroke-width="1.15"/>
<circle cx="279.65" cy="509.1" r="1.15" fill="#333"/>
<line x1="281.9" y1="535.9" x2="304.1" y2="535.9" stroke="#3a3a3a" stroke-width="1.15"/>
<circle cx="293" cy="532.5" r="1.15" fill="#333"/>
<circle cx="221.6" cy="603.6" r="2.05" fill="#ffffff" stroke="#3e3e3e" stroke-width="0.85"/>
<circle cx="225.2" cy="600" r="2.05" fill="#ffffff" stroke="#3e3e3e" stroke-width="0.85"/>
<circle cx="230.7" cy="601.4" r="2.05" fill="#ffffff" stroke="#3e3e3e" stroke-width="0.85"/>
<circle cx="235" cy="600.8" r="2.05" fill="#ffffff" stroke="#3e3e3e" stroke-width="0.85"/>
<circle cx="231.6" cy="605" r="2.05" fill="#ffffff" stroke="#3e3e3e" stroke-width="0.85"/>
<circle cx="226.5" cy="608.9" r="2.05" fill="#ffffff" stroke="#3e3e3e" stroke-width="0.85"/>
<circle cx="231.6" cy="608.9" r="2.05" fill="#ffffff" stroke="#3e3e3e" stroke-width="0.85"/>
<circle cx="225.2" cy="611.4" r="2.05" fill="#ffffff" stroke="#3e3e3e" stroke-width="0.85"/>
<line x1="220.3" y1="605.5" x2="236.9" y2="605.5" stroke="#262626" stroke-width="1.15"/>
<line x1="228.5" y1="603" x2="228.5" y2="607" stroke="#262626" stroke-width="1.09"/>
<line x1="225.6" y1="603.5" x2="231.6" y2="603.5" stroke="#262626" stroke-width="1.15"/>
<line x1="225.6" y1="607.5" x2="231.6" y2="607.5" stroke="#262626" stroke-width="1.15"/>
<circle cx="253.4" cy="531" r="2.05" fill="#c4dbef" stroke="#41709e" stroke-width="0.85"/>
<circle cx="253.4" cy="564.8" r="2.05" fill="#c4dbef" stroke="#41709e" stroke-width="0.85"/>
<circle cx="253.4" cy="577.5" r="2.05" fill="#c4dbef" stroke="#41709e" stroke-width="0.85"/>
<circle cx="247" cy="604" r="2.05" fill="#c4dbef" stroke="#41709e" stroke-width="0.85"/>
<circle cx="260.1" cy="606.1" r="2.05" fill="#c4dbef" stroke="#41709e" stroke-width="0.85"/>
<circle cx="253.4" cy="612.7" r="2.05" fill="#c4dbef" stroke="#41709e" stroke-width="0.85"/>
<line x1="244.9" y1="582.5" x2="261.9" y2="582.5" stroke="#262626" stroke-width="1.15"/>
<line x1="253.5" y1="570.1" x2="253.5" y2="595.1" stroke="#262626" stroke-width="1.09"/>
<line x1="249.6" y1="570.5" x2="257.2" y2="570.5" stroke="#262626" stroke-width="1.15"/>
<line x1="249.6" y1="595.5" x2="257.2" y2="595.5" stroke="#262626" stroke-width="1.15"/>
<circle cx="276" cy="543.7" r="2.05" fill="#d4675f" stroke="#6e2c2c" stroke-width="0.85"/>
<circle cx="278.8" cy="546.4" r="2.05" fill="#d4675f" stroke="#6e2c2c" stroke-width="0.85"/>
<circle cx="276.6" cy="577.1" r="2.05" fill="#d4675f" stroke="#6e2c2c" stroke-width="0.85"/>
<circle cx="279.5" cy="577.1" r="2.05" fill="#d4675f" stroke="#6e2c2c" stroke-width="0.85"/>
<circle cx="276" cy="588.8" r="2.05" fill="#d4675f" stroke="#6e2c2c" stroke-width="0.85"/>
<circle cx="282" cy="588.8" r="2.05" fill="#d4675f" stroke="#6e2c2c" stroke-width="0.85"/>
<circle cx="272" cy="590.9" r="2.05" fill="#d4675f" stroke="#6e2c2c" stroke-width="0.85"/>
<circle cx="285" cy="592" r="2.05" fill="#d4675f" stroke="#6e2c2c" stroke-width="0.85"/>
<circle cx="275" cy="596" r="2.05" fill="#d4675f" stroke="#6e2c2c" stroke-width="0.85"/>
<circle cx="281" cy="597" r="2.05" fill="#d4675f" stroke="#6e2c2c" stroke-width="0.85"/>
<circle cx="273" cy="601" r="2.05" fill="#d4675f" stroke="#6e2c2c" stroke-width="0.85"/>
<circle cx="279" cy="602" r="2.05" fill="#d4675f" stroke="#6e2c2c" stroke-width="0.85"/>
<circle cx="284.5" cy="603" r="2.05" fill="#d4675f" stroke="#6e2c2c" stroke-width="0.85"/>
<circle cx="271" cy="605" r="2.05" fill="#d4675f" stroke="#6e2c2c" stroke-width="0.85"/>
<circle cx="277" cy="606.5" r="2.05" fill="#d4675f" stroke="#6e2c2c" stroke-width="0.85"/>
<circle cx="283" cy="607" r="2.05" fill="#d4675f" stroke="#6e2c2c" stroke-width="0.85"/>
<circle cx="274.5" cy="610" r="2.05" fill="#d4675f" stroke="#6e2c2c" stroke-width="0.85"/>
<circle cx="280.5" cy="611" r="2.05" fill="#d4675f" stroke="#6e2c2c" stroke-width="0.85"/>
<circle cx="278.1" cy="614.8" r="2.05" fill="#d4675f" stroke="#6e2c2c" stroke-width="0.85"/>
<line x1="269.6" y1="592.5" x2="286.6" y2="592.5" stroke="#262626" stroke-width="1.15"/>
<line x1="278.5" y1="588.1" x2="278.5" y2="596" stroke="#262626" stroke-width="1.09"/>
<line x1="274.3" y1="588.5" x2="281.9" y2="588.5" stroke="#262626" stroke-width="1.15"/>
<line x1="274.3" y1="596.5" x2="281.9" y2="596.5" stroke="#262626" stroke-width="1.15"/>
<circle cx="303.1" cy="586.6" r="2.05" fill="#f8e08a" stroke="#806c22" stroke-width="0.85"/>
<circle cx="299.3" cy="594" r="2.05" fill="#f8e08a" stroke="#806c22" stroke-width="0.85"/>
<circle cx="306.3" cy="594.5" r="2.05" fill="#f8e08a" stroke="#806c22" stroke-width="0.85"/>
<circle cx="303.1" cy="598.7" r="2.05" fill="#f8e08a" stroke="#806c22" stroke-width="0.85"/>
<circle cx="298" cy="602" r="2.05" fill="#f8e08a" stroke="#806c22" stroke-width="0.85"/>
<circle cx="307.5" cy="602.5" r="2.05" fill="#f8e08a" stroke="#806c22" stroke-width="0.85"/>
<circle cx="301" cy="605.5" r="2.05" fill="#f8e08a" stroke="#806c22" stroke-width="0.85"/>
<circle cx="305" cy="606" r="2.05" fill="#f8e08a" stroke="#806c22" stroke-width="0.85"/>
<circle cx="297" cy="609" r="2.05" fill="#f8e08a" stroke="#806c22" stroke-width="0.85"/>
<circle cx="303" cy="610" r="2.05" fill="#f8e08a" stroke="#806c22" stroke-width="0.85"/>
<circle cx="309" cy="609.5" r="2.05" fill="#f8e08a" stroke="#806c22" stroke-width="0.85"/>
<circle cx="300" cy="613" r="2.05" fill="#f8e08a" stroke="#806c22" stroke-width="0.85"/>
<circle cx="306" cy="613.5" r="2.05" fill="#f8e08a" stroke="#806c22" stroke-width="0.85"/>
<circle cx="303" cy="616" r="2.05" fill="#f8e08a" stroke="#806c22" stroke-width="0.85"/>
<line x1="295.6" y1="604.5" x2="311.6" y2="604.5" stroke="#262626" stroke-width="1.15"/>
<line x1="303.5" y1="602.9" x2="303.5" y2="606.5" stroke="#262626" stroke-width="1.09"/>
<line x1="299.8" y1="602.5" x2="307.4" y2="602.5" stroke="#262626" stroke-width="1.15"/>
<line x1="299.8" y1="606.5" x2="307.4" y2="606.5" stroke="#262626" stroke-width="1.15"/>
<text x="336.5" y="503.3" font-size="12.5" text-anchor="start" font-weight="bold" fill="#111" stroke="#111" stroke-width="0.15">L</text>
<line x1="376.5" y1="511.3" x2="376.5" y2="617.4" stroke="#2e2e2e" stroke-width="1.2"/>
<line x1="373.8" y1="617.5" x2="376.8" y2="617.5" stroke="#3a3a3a" stroke-width="1.2"/>
<text x="371.2" y="620.2" font-size="9" text-anchor="end" font-weight="normal" fill="#3a3a3a" stroke="#3a3a3a" stroke-width="0.15" textLength="4.35" lengthAdjust="spacingAndGlyphs">0</text>
<line x1="373.8" y1="591.5" x2="376.8" y2="591.5" stroke="#3a3a3a" stroke-width="1.2"/>
<text x="371.2" y="594.7" font-size="9" text-anchor="end" font-weight="normal" fill="#3a3a3a" stroke="#3a3a3a" stroke-width="0.15" textLength="4.35" lengthAdjust="spacingAndGlyphs">5</text>
<line x1="373.8" y1="566.5" x2="376.8" y2="566.5" stroke="#3a3a3a" stroke-width="1.2"/>
<text x="371.2" y="569.2" font-size="9" text-anchor="end" font-weight="normal" fill="#3a3a3a" stroke="#3a3a3a" stroke-width="0.15" textLength="8.71" lengthAdjust="spacingAndGlyphs">10</text>
<line x1="373.8" y1="540.5" x2="376.8" y2="540.5" stroke="#3a3a3a" stroke-width="1.2"/>
<text x="371.2" y="543.7" font-size="9" text-anchor="end" font-weight="normal" fill="#3a3a3a" stroke="#3a3a3a" stroke-width="0.15" textLength="8.71" lengthAdjust="spacingAndGlyphs">15</text>
<line x1="373.8" y1="515.5" x2="376.8" y2="515.5" stroke="#3a3a3a" stroke-width="1.2"/>
<text x="371.2" y="518.2" font-size="9" text-anchor="end" font-weight="normal" fill="#3a3a3a" stroke="#3a3a3a" stroke-width="0.15" textLength="8.71" lengthAdjust="spacingAndGlyphs">20</text>
<line x1="376.2" y1="616.5" x2="478.8" y2="616.5" stroke="#2e2e2e" stroke-width="1.2"/>
<line x1="392.5" y1="616.8" x2="392.5" y2="619.8" stroke="#3a3a3a" stroke-width="1.2"/>
<line x1="416.5" y1="616.8" x2="416.5" y2="619.8" stroke="#3a3a3a" stroke-width="1.2"/>
<line x1="439.5" y1="616.8" x2="439.5" y2="619.8" stroke="#3a3a3a" stroke-width="1.2"/>
<line x1="463.5" y1="616.8" x2="463.5" y2="619.8" stroke="#3a3a3a" stroke-width="1.2"/>
<text x="344.5" y="563.8" font-size="10.3" text-anchor="middle" font-weight="normal" fill="#3a3a3a" stroke="#3a3a3a" stroke-width="0.15" transform="rotate(-90 344.5 563.8)" textLength="67" lengthAdjust="spacingAndGlyphs">Mature B cells (%)</text>
<text x="356.3" y="563.8" font-size="10.3" text-anchor="middle" font-weight="normal" fill="#3a3a3a" stroke="#3a3a3a" stroke-width="0.15" transform="rotate(-90 356.3 563.8)" textLength="78" lengthAdjust="spacingAndGlyphs">(CD19+CD10–CD20+)</text>
<text x="397.2" y="628.1" font-size="8.8" text-anchor="end" font-weight="normal" fill="#3a3a3a" stroke="#3a3a3a" stroke-width="0.15" transform="rotate(-45 397.2 628.1)" textLength="11.69" lengthAdjust="spacingAndGlyphs">HC</text>
<text x="420.9" y="628.1" font-size="8.8" text-anchor="end" font-weight="normal" fill="#3a3a3a" stroke="#3a3a3a" stroke-width="0.15" transform="rotate(-45 420.9 628.1)" textLength="24.29" lengthAdjust="spacingAndGlyphs">P-HLH</text>
<text x="444.1" y="628.1" font-size="8.8" text-anchor="end" font-weight="normal" fill="#3a3a3a" stroke="#3a3a3a" stroke-width="0.15" transform="rotate(-45 444.1 628.1)" textLength="21.14" lengthAdjust="spacingAndGlyphs">I-HLH</text>
<text x="468" y="628.1" font-size="8.8" text-anchor="end" font-weight="normal" fill="#3a3a3a" stroke="#3a3a3a" stroke-width="0.15" transform="rotate(-45 468 628.1)" textLength="24.74" lengthAdjust="spacingAndGlyphs">R-HLH</text>
<line x1="393.6" y1="519.7" x2="463.4" y2="519.7" stroke="#3a3a3a" stroke-width="1.15"/>
<text x="428.5" y="517.7" font-size="8.2" text-anchor="middle" font-weight="normal" fill="#3a3a3a" stroke="#3a3a3a" stroke-width="0.15" textLength="7.97" lengthAdjust="spacingAndGlyphs">ns</text>
<circle cx="388.8" cy="597.7" r="2.05" fill="#ffffff" stroke="#3e3e3e" stroke-width="0.85"/>
<circle cx="392.7" cy="597.7" r="2.05" fill="#ffffff" stroke="#3e3e3e" stroke-width="0.85"/>
<circle cx="396.5" cy="597.7" r="2.05" fill="#ffffff" stroke="#3e3e3e" stroke-width="0.85"/>
<circle cx="386.9" cy="608.1" r="2.05" fill="#ffffff" stroke="#3e3e3e" stroke-width="0.85"/>
<circle cx="394.6" cy="604.6" r="2.05" fill="#ffffff" stroke="#3e3e3e" stroke-width="0.85"/>
<circle cx="387.3" cy="612.7" r="2.05" fill="#ffffff" stroke="#3e3e3e" stroke-width="0.85"/>
<circle cx="394.6" cy="609.6" r="2.05" fill="#ffffff" stroke="#3e3e3e" stroke-width="0.85"/>
<circle cx="398.5" cy="609.6" r="2.05" fill="#ffffff" stroke="#3e3e3e" stroke-width="0.85"/>
<line x1="385.1" y1="604.5" x2="400.1" y2="604.5" stroke="#262626" stroke-width="1.15"/>
<line x1="392.5" y1="602.2" x2="392.5" y2="606.5" stroke="#262626" stroke-width="1.09"/>
<line x1="388.8" y1="602.5" x2="396.4" y2="602.5" stroke="#262626" stroke-width="1.15"/>
<line x1="388.8" y1="606.5" x2="396.4" y2="606.5" stroke="#262626" stroke-width="1.15"/>
<circle cx="416.3" cy="582.3" r="2.05" fill="#c4dbef" stroke="#41709e" stroke-width="0.85"/>
<circle cx="411" cy="598.6" r="2.05" fill="#c4dbef" stroke="#41709e" stroke-width="0.85"/>
<circle cx="422.6" cy="599.2" r="2.05" fill="#c4dbef" stroke="#41709e" stroke-width="0.85"/>
<circle cx="416.3" cy="606" r="2.05" fill="#c4dbef" stroke="#41709e" stroke-width="0.85"/>
<circle cx="411" cy="616.5" r="2.05" fill="#c4dbef" stroke="#41709e" stroke-width="0.85"/>
<circle cx="422.6" cy="616.5" r="2.05" fill="#c4dbef" stroke="#41709e" stroke-width="0.85"/>
<line x1="408.3" y1="602.5" x2="424.3" y2="602.5" stroke="#262626" stroke-width="1.15"/>
<line x1="416.5" y1="597.9" x2="416.5" y2="607.7" stroke="#262626" stroke-width="1.09"/>
<line x1="412.5" y1="597.5" x2="420.1" y2="597.5" stroke="#262626" stroke-width="1.15"/>
<line x1="412.5" y1="607.5" x2="420.1" y2="607.5" stroke="#262626" stroke-width="1.15"/>
<circle cx="439.5" cy="526.6" r="2.05" fill="#d4675f" stroke="#6e2c2c" stroke-width="0.85"/>
<circle cx="439.5" cy="535.7" r="2.05" fill="#d4675f" stroke="#6e2c2c" stroke-width="0.85"/>
<circle cx="438.5" cy="571" r="2.05" fill="#d4675f" stroke="#6e2c2c" stroke-width="0.85"/>
<circle cx="441" cy="571" r="2.05" fill="#d4675f" stroke="#6e2c2c" stroke-width="0.85"/>
<circle cx="439.5" cy="584.4" r="2.05" fill="#d4675f" stroke="#6e2c2c" stroke-width="0.85"/>
<circle cx="436" cy="591" r="2.05" fill="#d4675f" stroke="#6e2c2c" stroke-width="0.85"/>
<circle cx="443" cy="592" r="2.05" fill="#d4675f" stroke="#6e2c2c" stroke-width="0.85"/>
<circle cx="434" cy="596" r="2.05" fill="#d4675f" stroke="#6e2c2c" stroke-width="0.85"/>
<circle cx="440" cy="597" r="2.05" fill="#d4675f" stroke="#6e2c2c" stroke-width="0.85"/>
<circle cx="445.5" cy="598" r="2.05" fill="#d4675f" stroke="#6e2c2c" stroke-width="0.85"/>
<circle cx="433" cy="602" r="2.05" fill="#d4675f" stroke="#6e2c2c" stroke-width="0.85"/>
<circle cx="438.5" cy="603" r="2.05" fill="#d4675f" stroke="#6e2c2c" stroke-width="0.85"/>
<circle cx="444" cy="603.5" r="2.05" fill="#d4675f" stroke="#6e2c2c" stroke-width="0.85"/>
<circle cx="435" cy="607" r="2.05" fill="#d4675f" stroke="#6e2c2c" stroke-width="0.85"/>
<circle cx="441" cy="608" r="2.05" fill="#d4675f" stroke="#6e2c2c" stroke-width="0.85"/>
<circle cx="446" cy="607.5" r="2.05" fill="#d4675f" stroke="#6e2c2c" stroke-width="0.85"/>
<circle cx="437" cy="611" r="2.05" fill="#d4675f" stroke="#6e2c2c" stroke-width="0.85"/>
<circle cx="443" cy="612" r="2.05" fill="#d4675f" stroke="#6e2c2c" stroke-width="0.85"/>
<circle cx="435.5" cy="615.5" r="2.05" fill="#d4675f" stroke="#6e2c2c" stroke-width="0.85"/>
<circle cx="441.5" cy="616" r="2.05" fill="#d4675f" stroke="#6e2c2c" stroke-width="0.85"/>
<line x1="432.4" y1="593.5" x2="447.4" y2="593.5" stroke="#262626" stroke-width="1.15"/>
<line x1="439.5" y1="588" x2="439.5" y2="598" stroke="#262626" stroke-width="1.09"/>
<line x1="436.1" y1="588.5" x2="443.7" y2="588.5" stroke="#262626" stroke-width="1.15"/>
<line x1="436.1" y1="598.5" x2="443.7" y2="598.5" stroke="#262626" stroke-width="1.15"/>
<circle cx="463.4" cy="590.1" r="2.05" fill="#f8e08a" stroke="#806c22" stroke-width="0.85"/>
<circle cx="461.7" cy="596.4" r="2.05" fill="#f8e08a" stroke="#806c22" stroke-width="0.85"/>
<circle cx="465.5" cy="597.1" r="2.05" fill="#f8e08a" stroke="#806c22" stroke-width="0.85"/>
<circle cx="464" cy="602" r="2.05" fill="#f8e08a" stroke="#806c22" stroke-width="0.85"/>
<circle cx="458" cy="604.5" r="2.05" fill="#f8e08a" stroke="#806c22" stroke-width="0.85"/>
<circle cx="468" cy="604.5" r="2.05" fill="#f8e08a" stroke="#806c22" stroke-width="0.85"/>
<circle cx="461" cy="608" r="2.05" fill="#f8e08a" stroke="#806c22" stroke-width="0.85"/>
<circle cx="466" cy="608.5" r="2.05" fill="#f8e08a" stroke="#806c22" stroke-width="0.85"/>
<circle cx="457" cy="611" r="2.05" fill="#f8e08a" stroke="#806c22" stroke-width="0.85"/>
<circle cx="463" cy="612" r="2.05" fill="#f8e08a" stroke="#806c22" stroke-width="0.85"/>
<circle cx="469" cy="611.5" r="2.05" fill="#f8e08a" stroke="#806c22" stroke-width="0.85"/>
<circle cx="460" cy="615" r="2.05" fill="#f8e08a" stroke="#806c22" stroke-width="0.85"/>
<circle cx="466" cy="615.5" r="2.05" fill="#f8e08a" stroke="#806c22" stroke-width="0.85"/>
<circle cx="471" cy="614.5" r="2.05" fill="#f8e08a" stroke="#806c22" stroke-width="0.85"/>
<line x1="456.4" y1="607.5" x2="471.4" y2="607.5" stroke="#262626" stroke-width="1.15"/>
</svg>
<div class="frame"></div>
</body></html>
